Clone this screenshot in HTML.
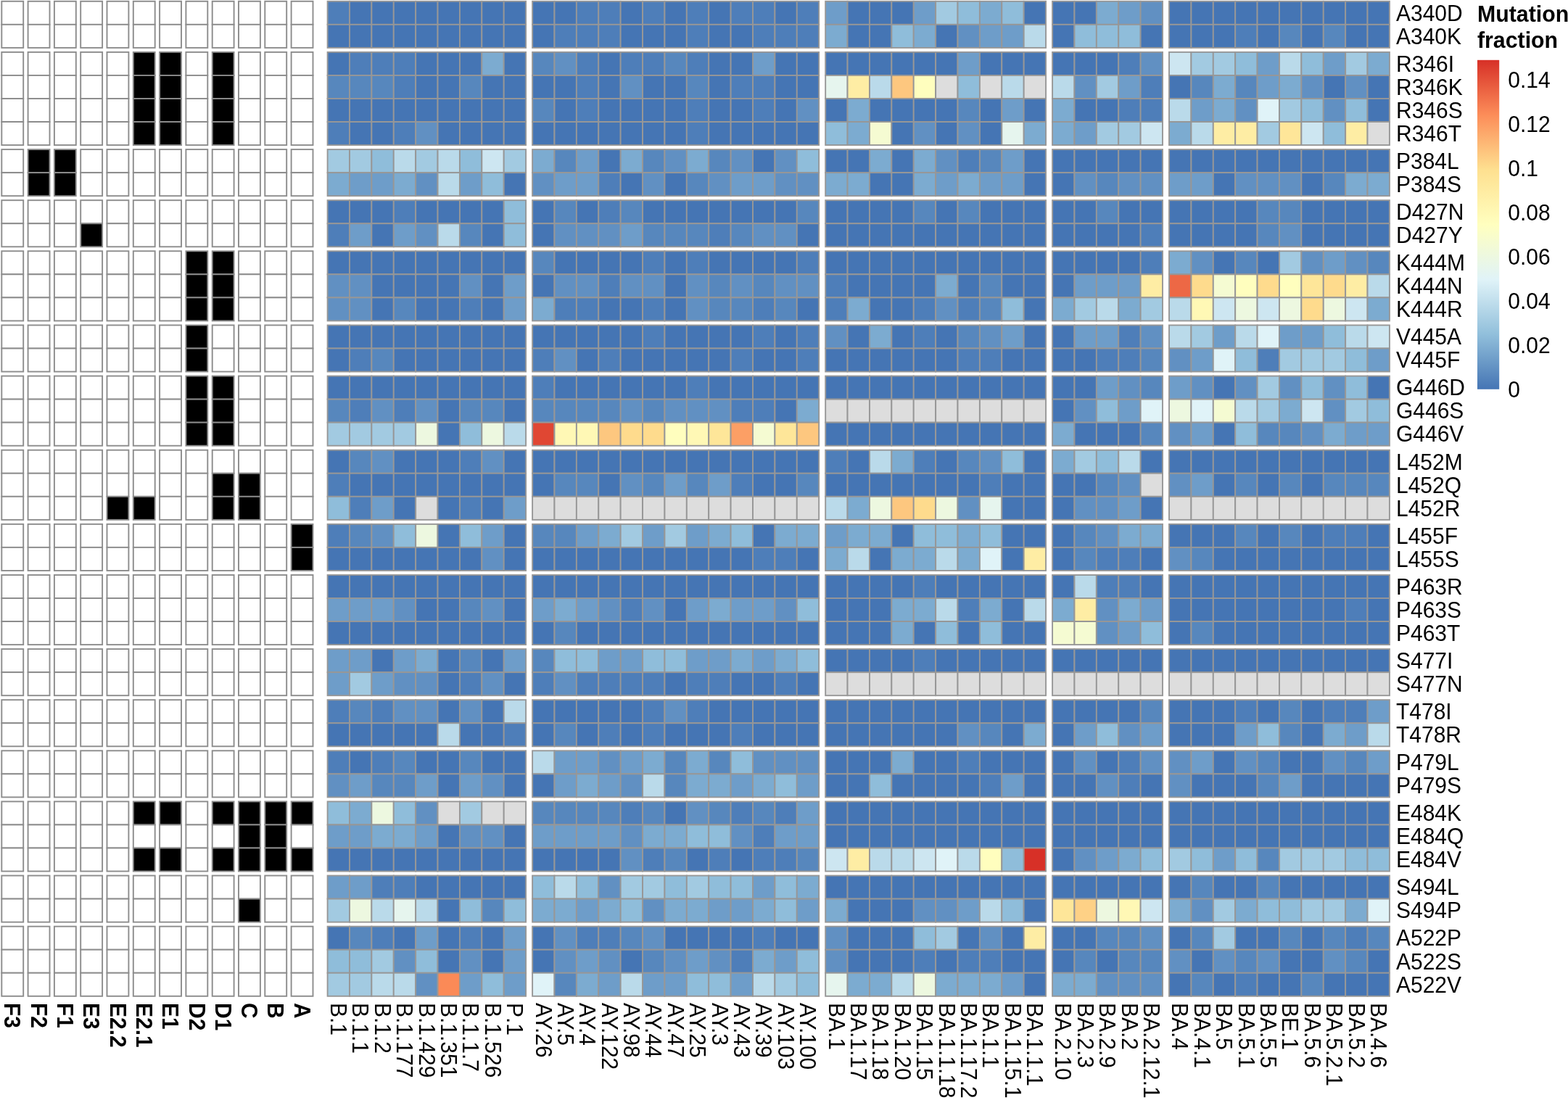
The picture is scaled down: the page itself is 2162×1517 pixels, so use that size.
<!DOCTYPE html>
<html><head><meta charset="utf-8"><title>Mutation fraction heatmap</title>
<style>
html,body{margin:0;padding:0;background:#fff;}
body{width:2162px;height:1517px;overflow:hidden;}
svg{display:block;}
text{font-kerning:normal;}
</style></head><body>
<svg width="2162" height="1517" viewBox="0 0 2162 1517">
<rect x="0" y="0" width="2162" height="1517" fill="#ffffff"/>
<g stroke="#8c8c8c" stroke-width="1.9">
<rect x="2.30" y="1.80" width="29.90" height="32.05" fill="#ffffff"/>
<rect x="38.60" y="1.80" width="29.90" height="32.05" fill="#ffffff"/>
<rect x="74.90" y="1.80" width="29.90" height="32.05" fill="#ffffff"/>
<rect x="111.20" y="1.80" width="29.90" height="32.05" fill="#ffffff"/>
<rect x="147.50" y="1.80" width="29.90" height="32.05" fill="#ffffff"/>
<rect x="183.80" y="1.80" width="29.90" height="32.05" fill="#ffffff"/>
<rect x="220.10" y="1.80" width="29.90" height="32.05" fill="#ffffff"/>
<rect x="256.40" y="1.80" width="29.90" height="32.05" fill="#ffffff"/>
<rect x="292.70" y="1.80" width="29.90" height="32.05" fill="#ffffff"/>
<rect x="329.00" y="1.80" width="29.90" height="32.05" fill="#ffffff"/>
<rect x="365.30" y="1.80" width="29.90" height="32.05" fill="#ffffff"/>
<rect x="401.60" y="1.80" width="29.90" height="32.05" fill="#ffffff"/>
<rect x="2.30" y="33.85" width="29.90" height="32.05" fill="#ffffff"/>
<rect x="38.60" y="33.85" width="29.90" height="32.05" fill="#ffffff"/>
<rect x="74.90" y="33.85" width="29.90" height="32.05" fill="#ffffff"/>
<rect x="111.20" y="33.85" width="29.90" height="32.05" fill="#ffffff"/>
<rect x="147.50" y="33.85" width="29.90" height="32.05" fill="#ffffff"/>
<rect x="183.80" y="33.85" width="29.90" height="32.05" fill="#ffffff"/>
<rect x="220.10" y="33.85" width="29.90" height="32.05" fill="#ffffff"/>
<rect x="256.40" y="33.85" width="29.90" height="32.05" fill="#ffffff"/>
<rect x="292.70" y="33.85" width="29.90" height="32.05" fill="#ffffff"/>
<rect x="329.00" y="33.85" width="29.90" height="32.05" fill="#ffffff"/>
<rect x="365.30" y="33.85" width="29.90" height="32.05" fill="#ffffff"/>
<rect x="401.60" y="33.85" width="29.90" height="32.05" fill="#ffffff"/>
<rect x="2.30" y="71.90" width="29.90" height="32.05" fill="#ffffff"/>
<rect x="38.60" y="71.90" width="29.90" height="32.05" fill="#ffffff"/>
<rect x="74.90" y="71.90" width="29.90" height="32.05" fill="#ffffff"/>
<rect x="111.20" y="71.90" width="29.90" height="32.05" fill="#ffffff"/>
<rect x="147.50" y="71.90" width="29.90" height="32.05" fill="#ffffff"/>
<rect x="183.80" y="71.90" width="29.90" height="32.05" fill="#000000"/>
<rect x="220.10" y="71.90" width="29.90" height="32.05" fill="#000000"/>
<rect x="256.40" y="71.90" width="29.90" height="32.05" fill="#ffffff"/>
<rect x="292.70" y="71.90" width="29.90" height="32.05" fill="#000000"/>
<rect x="329.00" y="71.90" width="29.90" height="32.05" fill="#ffffff"/>
<rect x="365.30" y="71.90" width="29.90" height="32.05" fill="#ffffff"/>
<rect x="401.60" y="71.90" width="29.90" height="32.05" fill="#ffffff"/>
<rect x="2.30" y="103.95" width="29.90" height="32.05" fill="#ffffff"/>
<rect x="38.60" y="103.95" width="29.90" height="32.05" fill="#ffffff"/>
<rect x="74.90" y="103.95" width="29.90" height="32.05" fill="#ffffff"/>
<rect x="111.20" y="103.95" width="29.90" height="32.05" fill="#ffffff"/>
<rect x="147.50" y="103.95" width="29.90" height="32.05" fill="#ffffff"/>
<rect x="183.80" y="103.95" width="29.90" height="32.05" fill="#000000"/>
<rect x="220.10" y="103.95" width="29.90" height="32.05" fill="#000000"/>
<rect x="256.40" y="103.95" width="29.90" height="32.05" fill="#ffffff"/>
<rect x="292.70" y="103.95" width="29.90" height="32.05" fill="#000000"/>
<rect x="329.00" y="103.95" width="29.90" height="32.05" fill="#ffffff"/>
<rect x="365.30" y="103.95" width="29.90" height="32.05" fill="#ffffff"/>
<rect x="401.60" y="103.95" width="29.90" height="32.05" fill="#ffffff"/>
<rect x="2.30" y="136.00" width="29.90" height="32.05" fill="#ffffff"/>
<rect x="38.60" y="136.00" width="29.90" height="32.05" fill="#ffffff"/>
<rect x="74.90" y="136.00" width="29.90" height="32.05" fill="#ffffff"/>
<rect x="111.20" y="136.00" width="29.90" height="32.05" fill="#ffffff"/>
<rect x="147.50" y="136.00" width="29.90" height="32.05" fill="#ffffff"/>
<rect x="183.80" y="136.00" width="29.90" height="32.05" fill="#000000"/>
<rect x="220.10" y="136.00" width="29.90" height="32.05" fill="#000000"/>
<rect x="256.40" y="136.00" width="29.90" height="32.05" fill="#ffffff"/>
<rect x="292.70" y="136.00" width="29.90" height="32.05" fill="#000000"/>
<rect x="329.00" y="136.00" width="29.90" height="32.05" fill="#ffffff"/>
<rect x="365.30" y="136.00" width="29.90" height="32.05" fill="#ffffff"/>
<rect x="401.60" y="136.00" width="29.90" height="32.05" fill="#ffffff"/>
<rect x="2.30" y="168.05" width="29.90" height="32.05" fill="#ffffff"/>
<rect x="38.60" y="168.05" width="29.90" height="32.05" fill="#ffffff"/>
<rect x="74.90" y="168.05" width="29.90" height="32.05" fill="#ffffff"/>
<rect x="111.20" y="168.05" width="29.90" height="32.05" fill="#ffffff"/>
<rect x="147.50" y="168.05" width="29.90" height="32.05" fill="#ffffff"/>
<rect x="183.80" y="168.05" width="29.90" height="32.05" fill="#000000"/>
<rect x="220.10" y="168.05" width="29.90" height="32.05" fill="#000000"/>
<rect x="256.40" y="168.05" width="29.90" height="32.05" fill="#ffffff"/>
<rect x="292.70" y="168.05" width="29.90" height="32.05" fill="#000000"/>
<rect x="329.00" y="168.05" width="29.90" height="32.05" fill="#ffffff"/>
<rect x="365.30" y="168.05" width="29.90" height="32.05" fill="#ffffff"/>
<rect x="401.60" y="168.05" width="29.90" height="32.05" fill="#ffffff"/>
<rect x="2.30" y="206.10" width="29.90" height="32.05" fill="#ffffff"/>
<rect x="38.60" y="206.10" width="29.90" height="32.05" fill="#000000"/>
<rect x="74.90" y="206.10" width="29.90" height="32.05" fill="#000000"/>
<rect x="111.20" y="206.10" width="29.90" height="32.05" fill="#ffffff"/>
<rect x="147.50" y="206.10" width="29.90" height="32.05" fill="#ffffff"/>
<rect x="183.80" y="206.10" width="29.90" height="32.05" fill="#ffffff"/>
<rect x="220.10" y="206.10" width="29.90" height="32.05" fill="#ffffff"/>
<rect x="256.40" y="206.10" width="29.90" height="32.05" fill="#ffffff"/>
<rect x="292.70" y="206.10" width="29.90" height="32.05" fill="#ffffff"/>
<rect x="329.00" y="206.10" width="29.90" height="32.05" fill="#ffffff"/>
<rect x="365.30" y="206.10" width="29.90" height="32.05" fill="#ffffff"/>
<rect x="401.60" y="206.10" width="29.90" height="32.05" fill="#ffffff"/>
<rect x="2.30" y="238.15" width="29.90" height="32.05" fill="#ffffff"/>
<rect x="38.60" y="238.15" width="29.90" height="32.05" fill="#000000"/>
<rect x="74.90" y="238.15" width="29.90" height="32.05" fill="#000000"/>
<rect x="111.20" y="238.15" width="29.90" height="32.05" fill="#ffffff"/>
<rect x="147.50" y="238.15" width="29.90" height="32.05" fill="#ffffff"/>
<rect x="183.80" y="238.15" width="29.90" height="32.05" fill="#ffffff"/>
<rect x="220.10" y="238.15" width="29.90" height="32.05" fill="#ffffff"/>
<rect x="256.40" y="238.15" width="29.90" height="32.05" fill="#ffffff"/>
<rect x="292.70" y="238.15" width="29.90" height="32.05" fill="#ffffff"/>
<rect x="329.00" y="238.15" width="29.90" height="32.05" fill="#ffffff"/>
<rect x="365.30" y="238.15" width="29.90" height="32.05" fill="#ffffff"/>
<rect x="401.60" y="238.15" width="29.90" height="32.05" fill="#ffffff"/>
<rect x="2.30" y="276.20" width="29.90" height="32.05" fill="#ffffff"/>
<rect x="38.60" y="276.20" width="29.90" height="32.05" fill="#ffffff"/>
<rect x="74.90" y="276.20" width="29.90" height="32.05" fill="#ffffff"/>
<rect x="111.20" y="276.20" width="29.90" height="32.05" fill="#ffffff"/>
<rect x="147.50" y="276.20" width="29.90" height="32.05" fill="#ffffff"/>
<rect x="183.80" y="276.20" width="29.90" height="32.05" fill="#ffffff"/>
<rect x="220.10" y="276.20" width="29.90" height="32.05" fill="#ffffff"/>
<rect x="256.40" y="276.20" width="29.90" height="32.05" fill="#ffffff"/>
<rect x="292.70" y="276.20" width="29.90" height="32.05" fill="#ffffff"/>
<rect x="329.00" y="276.20" width="29.90" height="32.05" fill="#ffffff"/>
<rect x="365.30" y="276.20" width="29.90" height="32.05" fill="#ffffff"/>
<rect x="401.60" y="276.20" width="29.90" height="32.05" fill="#ffffff"/>
<rect x="2.30" y="308.25" width="29.90" height="32.05" fill="#ffffff"/>
<rect x="38.60" y="308.25" width="29.90" height="32.05" fill="#ffffff"/>
<rect x="74.90" y="308.25" width="29.90" height="32.05" fill="#ffffff"/>
<rect x="111.20" y="308.25" width="29.90" height="32.05" fill="#000000"/>
<rect x="147.50" y="308.25" width="29.90" height="32.05" fill="#ffffff"/>
<rect x="183.80" y="308.25" width="29.90" height="32.05" fill="#ffffff"/>
<rect x="220.10" y="308.25" width="29.90" height="32.05" fill="#ffffff"/>
<rect x="256.40" y="308.25" width="29.90" height="32.05" fill="#ffffff"/>
<rect x="292.70" y="308.25" width="29.90" height="32.05" fill="#ffffff"/>
<rect x="329.00" y="308.25" width="29.90" height="32.05" fill="#ffffff"/>
<rect x="365.30" y="308.25" width="29.90" height="32.05" fill="#ffffff"/>
<rect x="401.60" y="308.25" width="29.90" height="32.05" fill="#ffffff"/>
<rect x="2.30" y="346.30" width="29.90" height="32.05" fill="#ffffff"/>
<rect x="38.60" y="346.30" width="29.90" height="32.05" fill="#ffffff"/>
<rect x="74.90" y="346.30" width="29.90" height="32.05" fill="#ffffff"/>
<rect x="111.20" y="346.30" width="29.90" height="32.05" fill="#ffffff"/>
<rect x="147.50" y="346.30" width="29.90" height="32.05" fill="#ffffff"/>
<rect x="183.80" y="346.30" width="29.90" height="32.05" fill="#ffffff"/>
<rect x="220.10" y="346.30" width="29.90" height="32.05" fill="#ffffff"/>
<rect x="256.40" y="346.30" width="29.90" height="32.05" fill="#000000"/>
<rect x="292.70" y="346.30" width="29.90" height="32.05" fill="#000000"/>
<rect x="329.00" y="346.30" width="29.90" height="32.05" fill="#ffffff"/>
<rect x="365.30" y="346.30" width="29.90" height="32.05" fill="#ffffff"/>
<rect x="401.60" y="346.30" width="29.90" height="32.05" fill="#ffffff"/>
<rect x="2.30" y="378.35" width="29.90" height="32.05" fill="#ffffff"/>
<rect x="38.60" y="378.35" width="29.90" height="32.05" fill="#ffffff"/>
<rect x="74.90" y="378.35" width="29.90" height="32.05" fill="#ffffff"/>
<rect x="111.20" y="378.35" width="29.90" height="32.05" fill="#ffffff"/>
<rect x="147.50" y="378.35" width="29.90" height="32.05" fill="#ffffff"/>
<rect x="183.80" y="378.35" width="29.90" height="32.05" fill="#ffffff"/>
<rect x="220.10" y="378.35" width="29.90" height="32.05" fill="#ffffff"/>
<rect x="256.40" y="378.35" width="29.90" height="32.05" fill="#000000"/>
<rect x="292.70" y="378.35" width="29.90" height="32.05" fill="#000000"/>
<rect x="329.00" y="378.35" width="29.90" height="32.05" fill="#ffffff"/>
<rect x="365.30" y="378.35" width="29.90" height="32.05" fill="#ffffff"/>
<rect x="401.60" y="378.35" width="29.90" height="32.05" fill="#ffffff"/>
<rect x="2.30" y="410.40" width="29.90" height="32.05" fill="#ffffff"/>
<rect x="38.60" y="410.40" width="29.90" height="32.05" fill="#ffffff"/>
<rect x="74.90" y="410.40" width="29.90" height="32.05" fill="#ffffff"/>
<rect x="111.20" y="410.40" width="29.90" height="32.05" fill="#ffffff"/>
<rect x="147.50" y="410.40" width="29.90" height="32.05" fill="#ffffff"/>
<rect x="183.80" y="410.40" width="29.90" height="32.05" fill="#ffffff"/>
<rect x="220.10" y="410.40" width="29.90" height="32.05" fill="#ffffff"/>
<rect x="256.40" y="410.40" width="29.90" height="32.05" fill="#000000"/>
<rect x="292.70" y="410.40" width="29.90" height="32.05" fill="#000000"/>
<rect x="329.00" y="410.40" width="29.90" height="32.05" fill="#ffffff"/>
<rect x="365.30" y="410.40" width="29.90" height="32.05" fill="#ffffff"/>
<rect x="401.60" y="410.40" width="29.90" height="32.05" fill="#ffffff"/>
<rect x="2.30" y="448.45" width="29.90" height="32.05" fill="#ffffff"/>
<rect x="38.60" y="448.45" width="29.90" height="32.05" fill="#ffffff"/>
<rect x="74.90" y="448.45" width="29.90" height="32.05" fill="#ffffff"/>
<rect x="111.20" y="448.45" width="29.90" height="32.05" fill="#ffffff"/>
<rect x="147.50" y="448.45" width="29.90" height="32.05" fill="#ffffff"/>
<rect x="183.80" y="448.45" width="29.90" height="32.05" fill="#ffffff"/>
<rect x="220.10" y="448.45" width="29.90" height="32.05" fill="#ffffff"/>
<rect x="256.40" y="448.45" width="29.90" height="32.05" fill="#000000"/>
<rect x="292.70" y="448.45" width="29.90" height="32.05" fill="#ffffff"/>
<rect x="329.00" y="448.45" width="29.90" height="32.05" fill="#ffffff"/>
<rect x="365.30" y="448.45" width="29.90" height="32.05" fill="#ffffff"/>
<rect x="401.60" y="448.45" width="29.90" height="32.05" fill="#ffffff"/>
<rect x="2.30" y="480.50" width="29.90" height="32.05" fill="#ffffff"/>
<rect x="38.60" y="480.50" width="29.90" height="32.05" fill="#ffffff"/>
<rect x="74.90" y="480.50" width="29.90" height="32.05" fill="#ffffff"/>
<rect x="111.20" y="480.50" width="29.90" height="32.05" fill="#ffffff"/>
<rect x="147.50" y="480.50" width="29.90" height="32.05" fill="#ffffff"/>
<rect x="183.80" y="480.50" width="29.90" height="32.05" fill="#ffffff"/>
<rect x="220.10" y="480.50" width="29.90" height="32.05" fill="#ffffff"/>
<rect x="256.40" y="480.50" width="29.90" height="32.05" fill="#000000"/>
<rect x="292.70" y="480.50" width="29.90" height="32.05" fill="#ffffff"/>
<rect x="329.00" y="480.50" width="29.90" height="32.05" fill="#ffffff"/>
<rect x="365.30" y="480.50" width="29.90" height="32.05" fill="#ffffff"/>
<rect x="401.60" y="480.50" width="29.90" height="32.05" fill="#ffffff"/>
<rect x="2.30" y="518.55" width="29.90" height="32.05" fill="#ffffff"/>
<rect x="38.60" y="518.55" width="29.90" height="32.05" fill="#ffffff"/>
<rect x="74.90" y="518.55" width="29.90" height="32.05" fill="#ffffff"/>
<rect x="111.20" y="518.55" width="29.90" height="32.05" fill="#ffffff"/>
<rect x="147.50" y="518.55" width="29.90" height="32.05" fill="#ffffff"/>
<rect x="183.80" y="518.55" width="29.90" height="32.05" fill="#ffffff"/>
<rect x="220.10" y="518.55" width="29.90" height="32.05" fill="#ffffff"/>
<rect x="256.40" y="518.55" width="29.90" height="32.05" fill="#000000"/>
<rect x="292.70" y="518.55" width="29.90" height="32.05" fill="#000000"/>
<rect x="329.00" y="518.55" width="29.90" height="32.05" fill="#ffffff"/>
<rect x="365.30" y="518.55" width="29.90" height="32.05" fill="#ffffff"/>
<rect x="401.60" y="518.55" width="29.90" height="32.05" fill="#ffffff"/>
<rect x="2.30" y="550.60" width="29.90" height="32.05" fill="#ffffff"/>
<rect x="38.60" y="550.60" width="29.90" height="32.05" fill="#ffffff"/>
<rect x="74.90" y="550.60" width="29.90" height="32.05" fill="#ffffff"/>
<rect x="111.20" y="550.60" width="29.90" height="32.05" fill="#ffffff"/>
<rect x="147.50" y="550.60" width="29.90" height="32.05" fill="#ffffff"/>
<rect x="183.80" y="550.60" width="29.90" height="32.05" fill="#ffffff"/>
<rect x="220.10" y="550.60" width="29.90" height="32.05" fill="#ffffff"/>
<rect x="256.40" y="550.60" width="29.90" height="32.05" fill="#000000"/>
<rect x="292.70" y="550.60" width="29.90" height="32.05" fill="#000000"/>
<rect x="329.00" y="550.60" width="29.90" height="32.05" fill="#ffffff"/>
<rect x="365.30" y="550.60" width="29.90" height="32.05" fill="#ffffff"/>
<rect x="401.60" y="550.60" width="29.90" height="32.05" fill="#ffffff"/>
<rect x="2.30" y="582.65" width="29.90" height="32.05" fill="#ffffff"/>
<rect x="38.60" y="582.65" width="29.90" height="32.05" fill="#ffffff"/>
<rect x="74.90" y="582.65" width="29.90" height="32.05" fill="#ffffff"/>
<rect x="111.20" y="582.65" width="29.90" height="32.05" fill="#ffffff"/>
<rect x="147.50" y="582.65" width="29.90" height="32.05" fill="#ffffff"/>
<rect x="183.80" y="582.65" width="29.90" height="32.05" fill="#ffffff"/>
<rect x="220.10" y="582.65" width="29.90" height="32.05" fill="#ffffff"/>
<rect x="256.40" y="582.65" width="29.90" height="32.05" fill="#000000"/>
<rect x="292.70" y="582.65" width="29.90" height="32.05" fill="#000000"/>
<rect x="329.00" y="582.65" width="29.90" height="32.05" fill="#ffffff"/>
<rect x="365.30" y="582.65" width="29.90" height="32.05" fill="#ffffff"/>
<rect x="401.60" y="582.65" width="29.90" height="32.05" fill="#ffffff"/>
<rect x="2.30" y="620.70" width="29.90" height="32.05" fill="#ffffff"/>
<rect x="38.60" y="620.70" width="29.90" height="32.05" fill="#ffffff"/>
<rect x="74.90" y="620.70" width="29.90" height="32.05" fill="#ffffff"/>
<rect x="111.20" y="620.70" width="29.90" height="32.05" fill="#ffffff"/>
<rect x="147.50" y="620.70" width="29.90" height="32.05" fill="#ffffff"/>
<rect x="183.80" y="620.70" width="29.90" height="32.05" fill="#ffffff"/>
<rect x="220.10" y="620.70" width="29.90" height="32.05" fill="#ffffff"/>
<rect x="256.40" y="620.70" width="29.90" height="32.05" fill="#ffffff"/>
<rect x="292.70" y="620.70" width="29.90" height="32.05" fill="#ffffff"/>
<rect x="329.00" y="620.70" width="29.90" height="32.05" fill="#ffffff"/>
<rect x="365.30" y="620.70" width="29.90" height="32.05" fill="#ffffff"/>
<rect x="401.60" y="620.70" width="29.90" height="32.05" fill="#ffffff"/>
<rect x="2.30" y="652.75" width="29.90" height="32.05" fill="#ffffff"/>
<rect x="38.60" y="652.75" width="29.90" height="32.05" fill="#ffffff"/>
<rect x="74.90" y="652.75" width="29.90" height="32.05" fill="#ffffff"/>
<rect x="111.20" y="652.75" width="29.90" height="32.05" fill="#ffffff"/>
<rect x="147.50" y="652.75" width="29.90" height="32.05" fill="#ffffff"/>
<rect x="183.80" y="652.75" width="29.90" height="32.05" fill="#ffffff"/>
<rect x="220.10" y="652.75" width="29.90" height="32.05" fill="#ffffff"/>
<rect x="256.40" y="652.75" width="29.90" height="32.05" fill="#ffffff"/>
<rect x="292.70" y="652.75" width="29.90" height="32.05" fill="#000000"/>
<rect x="329.00" y="652.75" width="29.90" height="32.05" fill="#000000"/>
<rect x="365.30" y="652.75" width="29.90" height="32.05" fill="#ffffff"/>
<rect x="401.60" y="652.75" width="29.90" height="32.05" fill="#ffffff"/>
<rect x="2.30" y="684.80" width="29.90" height="32.05" fill="#ffffff"/>
<rect x="38.60" y="684.80" width="29.90" height="32.05" fill="#ffffff"/>
<rect x="74.90" y="684.80" width="29.90" height="32.05" fill="#ffffff"/>
<rect x="111.20" y="684.80" width="29.90" height="32.05" fill="#ffffff"/>
<rect x="147.50" y="684.80" width="29.90" height="32.05" fill="#000000"/>
<rect x="183.80" y="684.80" width="29.90" height="32.05" fill="#000000"/>
<rect x="220.10" y="684.80" width="29.90" height="32.05" fill="#ffffff"/>
<rect x="256.40" y="684.80" width="29.90" height="32.05" fill="#ffffff"/>
<rect x="292.70" y="684.80" width="29.90" height="32.05" fill="#000000"/>
<rect x="329.00" y="684.80" width="29.90" height="32.05" fill="#000000"/>
<rect x="365.30" y="684.80" width="29.90" height="32.05" fill="#ffffff"/>
<rect x="401.60" y="684.80" width="29.90" height="32.05" fill="#ffffff"/>
<rect x="2.30" y="722.85" width="29.90" height="32.05" fill="#ffffff"/>
<rect x="38.60" y="722.85" width="29.90" height="32.05" fill="#ffffff"/>
<rect x="74.90" y="722.85" width="29.90" height="32.05" fill="#ffffff"/>
<rect x="111.20" y="722.85" width="29.90" height="32.05" fill="#ffffff"/>
<rect x="147.50" y="722.85" width="29.90" height="32.05" fill="#ffffff"/>
<rect x="183.80" y="722.85" width="29.90" height="32.05" fill="#ffffff"/>
<rect x="220.10" y="722.85" width="29.90" height="32.05" fill="#ffffff"/>
<rect x="256.40" y="722.85" width="29.90" height="32.05" fill="#ffffff"/>
<rect x="292.70" y="722.85" width="29.90" height="32.05" fill="#ffffff"/>
<rect x="329.00" y="722.85" width="29.90" height="32.05" fill="#ffffff"/>
<rect x="365.30" y="722.85" width="29.90" height="32.05" fill="#ffffff"/>
<rect x="401.60" y="722.85" width="29.90" height="32.05" fill="#000000"/>
<rect x="2.30" y="754.90" width="29.90" height="32.05" fill="#ffffff"/>
<rect x="38.60" y="754.90" width="29.90" height="32.05" fill="#ffffff"/>
<rect x="74.90" y="754.90" width="29.90" height="32.05" fill="#ffffff"/>
<rect x="111.20" y="754.90" width="29.90" height="32.05" fill="#ffffff"/>
<rect x="147.50" y="754.90" width="29.90" height="32.05" fill="#ffffff"/>
<rect x="183.80" y="754.90" width="29.90" height="32.05" fill="#ffffff"/>
<rect x="220.10" y="754.90" width="29.90" height="32.05" fill="#ffffff"/>
<rect x="256.40" y="754.90" width="29.90" height="32.05" fill="#ffffff"/>
<rect x="292.70" y="754.90" width="29.90" height="32.05" fill="#ffffff"/>
<rect x="329.00" y="754.90" width="29.90" height="32.05" fill="#ffffff"/>
<rect x="365.30" y="754.90" width="29.90" height="32.05" fill="#ffffff"/>
<rect x="401.60" y="754.90" width="29.90" height="32.05" fill="#000000"/>
<rect x="2.30" y="792.95" width="29.90" height="32.05" fill="#ffffff"/>
<rect x="38.60" y="792.95" width="29.90" height="32.05" fill="#ffffff"/>
<rect x="74.90" y="792.95" width="29.90" height="32.05" fill="#ffffff"/>
<rect x="111.20" y="792.95" width="29.90" height="32.05" fill="#ffffff"/>
<rect x="147.50" y="792.95" width="29.90" height="32.05" fill="#ffffff"/>
<rect x="183.80" y="792.95" width="29.90" height="32.05" fill="#ffffff"/>
<rect x="220.10" y="792.95" width="29.90" height="32.05" fill="#ffffff"/>
<rect x="256.40" y="792.95" width="29.90" height="32.05" fill="#ffffff"/>
<rect x="292.70" y="792.95" width="29.90" height="32.05" fill="#ffffff"/>
<rect x="329.00" y="792.95" width="29.90" height="32.05" fill="#ffffff"/>
<rect x="365.30" y="792.95" width="29.90" height="32.05" fill="#ffffff"/>
<rect x="401.60" y="792.95" width="29.90" height="32.05" fill="#ffffff"/>
<rect x="2.30" y="825.00" width="29.90" height="32.05" fill="#ffffff"/>
<rect x="38.60" y="825.00" width="29.90" height="32.05" fill="#ffffff"/>
<rect x="74.90" y="825.00" width="29.90" height="32.05" fill="#ffffff"/>
<rect x="111.20" y="825.00" width="29.90" height="32.05" fill="#ffffff"/>
<rect x="147.50" y="825.00" width="29.90" height="32.05" fill="#ffffff"/>
<rect x="183.80" y="825.00" width="29.90" height="32.05" fill="#ffffff"/>
<rect x="220.10" y="825.00" width="29.90" height="32.05" fill="#ffffff"/>
<rect x="256.40" y="825.00" width="29.90" height="32.05" fill="#ffffff"/>
<rect x="292.70" y="825.00" width="29.90" height="32.05" fill="#ffffff"/>
<rect x="329.00" y="825.00" width="29.90" height="32.05" fill="#ffffff"/>
<rect x="365.30" y="825.00" width="29.90" height="32.05" fill="#ffffff"/>
<rect x="401.60" y="825.00" width="29.90" height="32.05" fill="#ffffff"/>
<rect x="2.30" y="857.05" width="29.90" height="32.05" fill="#ffffff"/>
<rect x="38.60" y="857.05" width="29.90" height="32.05" fill="#ffffff"/>
<rect x="74.90" y="857.05" width="29.90" height="32.05" fill="#ffffff"/>
<rect x="111.20" y="857.05" width="29.90" height="32.05" fill="#ffffff"/>
<rect x="147.50" y="857.05" width="29.90" height="32.05" fill="#ffffff"/>
<rect x="183.80" y="857.05" width="29.90" height="32.05" fill="#ffffff"/>
<rect x="220.10" y="857.05" width="29.90" height="32.05" fill="#ffffff"/>
<rect x="256.40" y="857.05" width="29.90" height="32.05" fill="#ffffff"/>
<rect x="292.70" y="857.05" width="29.90" height="32.05" fill="#ffffff"/>
<rect x="329.00" y="857.05" width="29.90" height="32.05" fill="#ffffff"/>
<rect x="365.30" y="857.05" width="29.90" height="32.05" fill="#ffffff"/>
<rect x="401.60" y="857.05" width="29.90" height="32.05" fill="#ffffff"/>
<rect x="2.30" y="895.10" width="29.90" height="32.05" fill="#ffffff"/>
<rect x="38.60" y="895.10" width="29.90" height="32.05" fill="#ffffff"/>
<rect x="74.90" y="895.10" width="29.90" height="32.05" fill="#ffffff"/>
<rect x="111.20" y="895.10" width="29.90" height="32.05" fill="#ffffff"/>
<rect x="147.50" y="895.10" width="29.90" height="32.05" fill="#ffffff"/>
<rect x="183.80" y="895.10" width="29.90" height="32.05" fill="#ffffff"/>
<rect x="220.10" y="895.10" width="29.90" height="32.05" fill="#ffffff"/>
<rect x="256.40" y="895.10" width="29.90" height="32.05" fill="#ffffff"/>
<rect x="292.70" y="895.10" width="29.90" height="32.05" fill="#ffffff"/>
<rect x="329.00" y="895.10" width="29.90" height="32.05" fill="#ffffff"/>
<rect x="365.30" y="895.10" width="29.90" height="32.05" fill="#ffffff"/>
<rect x="401.60" y="895.10" width="29.90" height="32.05" fill="#ffffff"/>
<rect x="2.30" y="927.15" width="29.90" height="32.05" fill="#ffffff"/>
<rect x="38.60" y="927.15" width="29.90" height="32.05" fill="#ffffff"/>
<rect x="74.90" y="927.15" width="29.90" height="32.05" fill="#ffffff"/>
<rect x="111.20" y="927.15" width="29.90" height="32.05" fill="#ffffff"/>
<rect x="147.50" y="927.15" width="29.90" height="32.05" fill="#ffffff"/>
<rect x="183.80" y="927.15" width="29.90" height="32.05" fill="#ffffff"/>
<rect x="220.10" y="927.15" width="29.90" height="32.05" fill="#ffffff"/>
<rect x="256.40" y="927.15" width="29.90" height="32.05" fill="#ffffff"/>
<rect x="292.70" y="927.15" width="29.90" height="32.05" fill="#ffffff"/>
<rect x="329.00" y="927.15" width="29.90" height="32.05" fill="#ffffff"/>
<rect x="365.30" y="927.15" width="29.90" height="32.05" fill="#ffffff"/>
<rect x="401.60" y="927.15" width="29.90" height="32.05" fill="#ffffff"/>
<rect x="2.30" y="965.20" width="29.90" height="32.05" fill="#ffffff"/>
<rect x="38.60" y="965.20" width="29.90" height="32.05" fill="#ffffff"/>
<rect x="74.90" y="965.20" width="29.90" height="32.05" fill="#ffffff"/>
<rect x="111.20" y="965.20" width="29.90" height="32.05" fill="#ffffff"/>
<rect x="147.50" y="965.20" width="29.90" height="32.05" fill="#ffffff"/>
<rect x="183.80" y="965.20" width="29.90" height="32.05" fill="#ffffff"/>
<rect x="220.10" y="965.20" width="29.90" height="32.05" fill="#ffffff"/>
<rect x="256.40" y="965.20" width="29.90" height="32.05" fill="#ffffff"/>
<rect x="292.70" y="965.20" width="29.90" height="32.05" fill="#ffffff"/>
<rect x="329.00" y="965.20" width="29.90" height="32.05" fill="#ffffff"/>
<rect x="365.30" y="965.20" width="29.90" height="32.05" fill="#ffffff"/>
<rect x="401.60" y="965.20" width="29.90" height="32.05" fill="#ffffff"/>
<rect x="2.30" y="997.25" width="29.90" height="32.05" fill="#ffffff"/>
<rect x="38.60" y="997.25" width="29.90" height="32.05" fill="#ffffff"/>
<rect x="74.90" y="997.25" width="29.90" height="32.05" fill="#ffffff"/>
<rect x="111.20" y="997.25" width="29.90" height="32.05" fill="#ffffff"/>
<rect x="147.50" y="997.25" width="29.90" height="32.05" fill="#ffffff"/>
<rect x="183.80" y="997.25" width="29.90" height="32.05" fill="#ffffff"/>
<rect x="220.10" y="997.25" width="29.90" height="32.05" fill="#ffffff"/>
<rect x="256.40" y="997.25" width="29.90" height="32.05" fill="#ffffff"/>
<rect x="292.70" y="997.25" width="29.90" height="32.05" fill="#ffffff"/>
<rect x="329.00" y="997.25" width="29.90" height="32.05" fill="#ffffff"/>
<rect x="365.30" y="997.25" width="29.90" height="32.05" fill="#ffffff"/>
<rect x="401.60" y="997.25" width="29.90" height="32.05" fill="#ffffff"/>
<rect x="2.30" y="1035.30" width="29.90" height="32.05" fill="#ffffff"/>
<rect x="38.60" y="1035.30" width="29.90" height="32.05" fill="#ffffff"/>
<rect x="74.90" y="1035.30" width="29.90" height="32.05" fill="#ffffff"/>
<rect x="111.20" y="1035.30" width="29.90" height="32.05" fill="#ffffff"/>
<rect x="147.50" y="1035.30" width="29.90" height="32.05" fill="#ffffff"/>
<rect x="183.80" y="1035.30" width="29.90" height="32.05" fill="#ffffff"/>
<rect x="220.10" y="1035.30" width="29.90" height="32.05" fill="#ffffff"/>
<rect x="256.40" y="1035.30" width="29.90" height="32.05" fill="#ffffff"/>
<rect x="292.70" y="1035.30" width="29.90" height="32.05" fill="#ffffff"/>
<rect x="329.00" y="1035.30" width="29.90" height="32.05" fill="#ffffff"/>
<rect x="365.30" y="1035.30" width="29.90" height="32.05" fill="#ffffff"/>
<rect x="401.60" y="1035.30" width="29.90" height="32.05" fill="#ffffff"/>
<rect x="2.30" y="1067.35" width="29.90" height="32.05" fill="#ffffff"/>
<rect x="38.60" y="1067.35" width="29.90" height="32.05" fill="#ffffff"/>
<rect x="74.90" y="1067.35" width="29.90" height="32.05" fill="#ffffff"/>
<rect x="111.20" y="1067.35" width="29.90" height="32.05" fill="#ffffff"/>
<rect x="147.50" y="1067.35" width="29.90" height="32.05" fill="#ffffff"/>
<rect x="183.80" y="1067.35" width="29.90" height="32.05" fill="#ffffff"/>
<rect x="220.10" y="1067.35" width="29.90" height="32.05" fill="#ffffff"/>
<rect x="256.40" y="1067.35" width="29.90" height="32.05" fill="#ffffff"/>
<rect x="292.70" y="1067.35" width="29.90" height="32.05" fill="#ffffff"/>
<rect x="329.00" y="1067.35" width="29.90" height="32.05" fill="#ffffff"/>
<rect x="365.30" y="1067.35" width="29.90" height="32.05" fill="#ffffff"/>
<rect x="401.60" y="1067.35" width="29.90" height="32.05" fill="#ffffff"/>
<rect x="2.30" y="1105.40" width="29.90" height="32.05" fill="#ffffff"/>
<rect x="38.60" y="1105.40" width="29.90" height="32.05" fill="#ffffff"/>
<rect x="74.90" y="1105.40" width="29.90" height="32.05" fill="#ffffff"/>
<rect x="111.20" y="1105.40" width="29.90" height="32.05" fill="#ffffff"/>
<rect x="147.50" y="1105.40" width="29.90" height="32.05" fill="#ffffff"/>
<rect x="183.80" y="1105.40" width="29.90" height="32.05" fill="#000000"/>
<rect x="220.10" y="1105.40" width="29.90" height="32.05" fill="#000000"/>
<rect x="256.40" y="1105.40" width="29.90" height="32.05" fill="#ffffff"/>
<rect x="292.70" y="1105.40" width="29.90" height="32.05" fill="#000000"/>
<rect x="329.00" y="1105.40" width="29.90" height="32.05" fill="#000000"/>
<rect x="365.30" y="1105.40" width="29.90" height="32.05" fill="#000000"/>
<rect x="401.60" y="1105.40" width="29.90" height="32.05" fill="#000000"/>
<rect x="2.30" y="1137.45" width="29.90" height="32.05" fill="#ffffff"/>
<rect x="38.60" y="1137.45" width="29.90" height="32.05" fill="#ffffff"/>
<rect x="74.90" y="1137.45" width="29.90" height="32.05" fill="#ffffff"/>
<rect x="111.20" y="1137.45" width="29.90" height="32.05" fill="#ffffff"/>
<rect x="147.50" y="1137.45" width="29.90" height="32.05" fill="#ffffff"/>
<rect x="183.80" y="1137.45" width="29.90" height="32.05" fill="#ffffff"/>
<rect x="220.10" y="1137.45" width="29.90" height="32.05" fill="#ffffff"/>
<rect x="256.40" y="1137.45" width="29.90" height="32.05" fill="#ffffff"/>
<rect x="292.70" y="1137.45" width="29.90" height="32.05" fill="#ffffff"/>
<rect x="329.00" y="1137.45" width="29.90" height="32.05" fill="#000000"/>
<rect x="365.30" y="1137.45" width="29.90" height="32.05" fill="#000000"/>
<rect x="401.60" y="1137.45" width="29.90" height="32.05" fill="#ffffff"/>
<rect x="2.30" y="1169.50" width="29.90" height="32.05" fill="#ffffff"/>
<rect x="38.60" y="1169.50" width="29.90" height="32.05" fill="#ffffff"/>
<rect x="74.90" y="1169.50" width="29.90" height="32.05" fill="#ffffff"/>
<rect x="111.20" y="1169.50" width="29.90" height="32.05" fill="#ffffff"/>
<rect x="147.50" y="1169.50" width="29.90" height="32.05" fill="#ffffff"/>
<rect x="183.80" y="1169.50" width="29.90" height="32.05" fill="#000000"/>
<rect x="220.10" y="1169.50" width="29.90" height="32.05" fill="#000000"/>
<rect x="256.40" y="1169.50" width="29.90" height="32.05" fill="#ffffff"/>
<rect x="292.70" y="1169.50" width="29.90" height="32.05" fill="#000000"/>
<rect x="329.00" y="1169.50" width="29.90" height="32.05" fill="#000000"/>
<rect x="365.30" y="1169.50" width="29.90" height="32.05" fill="#000000"/>
<rect x="401.60" y="1169.50" width="29.90" height="32.05" fill="#000000"/>
<rect x="2.30" y="1207.55" width="29.90" height="32.05" fill="#ffffff"/>
<rect x="38.60" y="1207.55" width="29.90" height="32.05" fill="#ffffff"/>
<rect x="74.90" y="1207.55" width="29.90" height="32.05" fill="#ffffff"/>
<rect x="111.20" y="1207.55" width="29.90" height="32.05" fill="#ffffff"/>
<rect x="147.50" y="1207.55" width="29.90" height="32.05" fill="#ffffff"/>
<rect x="183.80" y="1207.55" width="29.90" height="32.05" fill="#ffffff"/>
<rect x="220.10" y="1207.55" width="29.90" height="32.05" fill="#ffffff"/>
<rect x="256.40" y="1207.55" width="29.90" height="32.05" fill="#ffffff"/>
<rect x="292.70" y="1207.55" width="29.90" height="32.05" fill="#ffffff"/>
<rect x="329.00" y="1207.55" width="29.90" height="32.05" fill="#ffffff"/>
<rect x="365.30" y="1207.55" width="29.90" height="32.05" fill="#ffffff"/>
<rect x="401.60" y="1207.55" width="29.90" height="32.05" fill="#ffffff"/>
<rect x="2.30" y="1239.60" width="29.90" height="32.05" fill="#ffffff"/>
<rect x="38.60" y="1239.60" width="29.90" height="32.05" fill="#ffffff"/>
<rect x="74.90" y="1239.60" width="29.90" height="32.05" fill="#ffffff"/>
<rect x="111.20" y="1239.60" width="29.90" height="32.05" fill="#ffffff"/>
<rect x="147.50" y="1239.60" width="29.90" height="32.05" fill="#ffffff"/>
<rect x="183.80" y="1239.60" width="29.90" height="32.05" fill="#ffffff"/>
<rect x="220.10" y="1239.60" width="29.90" height="32.05" fill="#ffffff"/>
<rect x="256.40" y="1239.60" width="29.90" height="32.05" fill="#ffffff"/>
<rect x="292.70" y="1239.60" width="29.90" height="32.05" fill="#ffffff"/>
<rect x="329.00" y="1239.60" width="29.90" height="32.05" fill="#000000"/>
<rect x="365.30" y="1239.60" width="29.90" height="32.05" fill="#ffffff"/>
<rect x="401.60" y="1239.60" width="29.90" height="32.05" fill="#ffffff"/>
<rect x="2.30" y="1277.65" width="29.90" height="32.05" fill="#ffffff"/>
<rect x="38.60" y="1277.65" width="29.90" height="32.05" fill="#ffffff"/>
<rect x="74.90" y="1277.65" width="29.90" height="32.05" fill="#ffffff"/>
<rect x="111.20" y="1277.65" width="29.90" height="32.05" fill="#ffffff"/>
<rect x="147.50" y="1277.65" width="29.90" height="32.05" fill="#ffffff"/>
<rect x="183.80" y="1277.65" width="29.90" height="32.05" fill="#ffffff"/>
<rect x="220.10" y="1277.65" width="29.90" height="32.05" fill="#ffffff"/>
<rect x="256.40" y="1277.65" width="29.90" height="32.05" fill="#ffffff"/>
<rect x="292.70" y="1277.65" width="29.90" height="32.05" fill="#ffffff"/>
<rect x="329.00" y="1277.65" width="29.90" height="32.05" fill="#ffffff"/>
<rect x="365.30" y="1277.65" width="29.90" height="32.05" fill="#ffffff"/>
<rect x="401.60" y="1277.65" width="29.90" height="32.05" fill="#ffffff"/>
<rect x="2.30" y="1309.70" width="29.90" height="32.05" fill="#ffffff"/>
<rect x="38.60" y="1309.70" width="29.90" height="32.05" fill="#ffffff"/>
<rect x="74.90" y="1309.70" width="29.90" height="32.05" fill="#ffffff"/>
<rect x="111.20" y="1309.70" width="29.90" height="32.05" fill="#ffffff"/>
<rect x="147.50" y="1309.70" width="29.90" height="32.05" fill="#ffffff"/>
<rect x="183.80" y="1309.70" width="29.90" height="32.05" fill="#ffffff"/>
<rect x="220.10" y="1309.70" width="29.90" height="32.05" fill="#ffffff"/>
<rect x="256.40" y="1309.70" width="29.90" height="32.05" fill="#ffffff"/>
<rect x="292.70" y="1309.70" width="29.90" height="32.05" fill="#ffffff"/>
<rect x="329.00" y="1309.70" width="29.90" height="32.05" fill="#ffffff"/>
<rect x="365.30" y="1309.70" width="29.90" height="32.05" fill="#ffffff"/>
<rect x="401.60" y="1309.70" width="29.90" height="32.05" fill="#ffffff"/>
<rect x="2.30" y="1341.75" width="29.90" height="32.05" fill="#ffffff"/>
<rect x="38.60" y="1341.75" width="29.90" height="32.05" fill="#ffffff"/>
<rect x="74.90" y="1341.75" width="29.90" height="32.05" fill="#ffffff"/>
<rect x="111.20" y="1341.75" width="29.90" height="32.05" fill="#ffffff"/>
<rect x="147.50" y="1341.75" width="29.90" height="32.05" fill="#ffffff"/>
<rect x="183.80" y="1341.75" width="29.90" height="32.05" fill="#ffffff"/>
<rect x="220.10" y="1341.75" width="29.90" height="32.05" fill="#ffffff"/>
<rect x="256.40" y="1341.75" width="29.90" height="32.05" fill="#ffffff"/>
<rect x="292.70" y="1341.75" width="29.90" height="32.05" fill="#ffffff"/>
<rect x="329.00" y="1341.75" width="29.90" height="32.05" fill="#ffffff"/>
<rect x="365.30" y="1341.75" width="29.90" height="32.05" fill="#ffffff"/>
<rect x="401.60" y="1341.75" width="29.90" height="32.05" fill="#ffffff"/>
</g>
<g stroke="#979797" stroke-width="1.9">
<rect x="451.60" y="1.80" width="30.39" height="32.05" fill="#4e7eb9"/>
<rect x="451.60" y="33.85" width="30.39" height="32.05" fill="#4575b4"/>
<rect x="451.60" y="71.90" width="30.39" height="32.05" fill="#4575b4"/>
<rect x="451.60" y="103.95" width="30.39" height="32.05" fill="#5787bd"/>
<rect x="451.60" y="136.00" width="30.39" height="32.05" fill="#4575b4"/>
<rect x="451.60" y="168.05" width="30.39" height="32.05" fill="#4e7eb9"/>
<rect x="451.60" y="206.10" width="30.39" height="32.05" fill="#a2cae1"/>
<rect x="451.60" y="238.15" width="30.39" height="32.05" fill="#7cabd0"/>
<rect x="451.60" y="276.20" width="30.39" height="32.05" fill="#4575b4"/>
<rect x="451.60" y="308.25" width="30.39" height="32.05" fill="#4e7eb9"/>
<rect x="451.60" y="346.30" width="30.39" height="32.05" fill="#4575b4"/>
<rect x="451.60" y="378.35" width="30.39" height="32.05" fill="#6190c2"/>
<rect x="451.60" y="410.40" width="30.39" height="32.05" fill="#6190c2"/>
<rect x="451.60" y="448.45" width="30.39" height="32.05" fill="#4575b4"/>
<rect x="451.60" y="480.50" width="30.39" height="32.05" fill="#4575b4"/>
<rect x="451.60" y="518.55" width="30.39" height="32.05" fill="#4575b4"/>
<rect x="451.60" y="550.60" width="30.39" height="32.05" fill="#5787bd"/>
<rect x="451.60" y="582.65" width="30.39" height="32.05" fill="#a2cae1"/>
<rect x="451.60" y="620.70" width="30.39" height="32.05" fill="#4575b4"/>
<rect x="451.60" y="652.75" width="30.39" height="32.05" fill="#4e7eb9"/>
<rect x="451.60" y="684.80" width="30.39" height="32.05" fill="#8fbdda"/>
<rect x="451.60" y="722.85" width="30.39" height="32.05" fill="#4e7eb9"/>
<rect x="451.60" y="754.90" width="30.39" height="32.05" fill="#4575b4"/>
<rect x="451.60" y="792.95" width="30.39" height="32.05" fill="#4575b4"/>
<rect x="451.60" y="825.00" width="30.39" height="32.05" fill="#6e9dc9"/>
<rect x="451.60" y="857.05" width="30.39" height="32.05" fill="#4575b4"/>
<rect x="451.60" y="895.10" width="30.39" height="32.05" fill="#6e9dc9"/>
<rect x="451.60" y="927.15" width="30.39" height="32.05" fill="#6e9dc9"/>
<rect x="451.60" y="965.20" width="30.39" height="32.05" fill="#4e7eb9"/>
<rect x="451.60" y="997.25" width="30.39" height="32.05" fill="#4575b4"/>
<rect x="451.60" y="1035.30" width="30.39" height="32.05" fill="#4e7eb9"/>
<rect x="451.60" y="1067.35" width="30.39" height="32.05" fill="#6190c2"/>
<rect x="451.60" y="1105.40" width="30.39" height="32.05" fill="#8fbdda"/>
<rect x="451.60" y="1137.45" width="30.39" height="32.05" fill="#6e9dc9"/>
<rect x="451.60" y="1169.50" width="30.39" height="32.05" fill="#4575b4"/>
<rect x="451.60" y="1207.55" width="30.39" height="32.05" fill="#6e9dc9"/>
<rect x="451.60" y="1239.60" width="30.39" height="32.05" fill="#a2cae1"/>
<rect x="451.60" y="1277.65" width="30.39" height="32.05" fill="#4575b4"/>
<rect x="451.60" y="1309.70" width="30.39" height="32.05" fill="#8fbdda"/>
<rect x="451.60" y="1341.75" width="30.39" height="32.05" fill="#a2cae1"/>
<rect x="481.99" y="1.80" width="30.39" height="32.05" fill="#4575b4"/>
<rect x="481.99" y="33.85" width="30.39" height="32.05" fill="#4575b4"/>
<rect x="481.99" y="71.90" width="30.39" height="32.05" fill="#4e7eb9"/>
<rect x="481.99" y="103.95" width="30.39" height="32.05" fill="#5787bd"/>
<rect x="481.99" y="136.00" width="30.39" height="32.05" fill="#4575b4"/>
<rect x="481.99" y="168.05" width="30.39" height="32.05" fill="#4575b4"/>
<rect x="481.99" y="206.10" width="30.39" height="32.05" fill="#a2cae1"/>
<rect x="481.99" y="238.15" width="30.39" height="32.05" fill="#6e9dc9"/>
<rect x="481.99" y="276.20" width="30.39" height="32.05" fill="#4575b4"/>
<rect x="481.99" y="308.25" width="30.39" height="32.05" fill="#6e9dc9"/>
<rect x="481.99" y="346.30" width="30.39" height="32.05" fill="#4575b4"/>
<rect x="481.99" y="378.35" width="30.39" height="32.05" fill="#6190c2"/>
<rect x="481.99" y="410.40" width="30.39" height="32.05" fill="#6190c2"/>
<rect x="481.99" y="448.45" width="30.39" height="32.05" fill="#4575b4"/>
<rect x="481.99" y="480.50" width="30.39" height="32.05" fill="#4e7eb9"/>
<rect x="481.99" y="518.55" width="30.39" height="32.05" fill="#4575b4"/>
<rect x="481.99" y="550.60" width="30.39" height="32.05" fill="#4e7eb9"/>
<rect x="481.99" y="582.65" width="30.39" height="32.05" fill="#a2cae1"/>
<rect x="481.99" y="620.70" width="30.39" height="32.05" fill="#5787bd"/>
<rect x="481.99" y="652.75" width="30.39" height="32.05" fill="#4575b4"/>
<rect x="481.99" y="684.80" width="30.39" height="32.05" fill="#4e7eb9"/>
<rect x="481.99" y="722.85" width="30.39" height="32.05" fill="#5787bd"/>
<rect x="481.99" y="754.90" width="30.39" height="32.05" fill="#4575b4"/>
<rect x="481.99" y="792.95" width="30.39" height="32.05" fill="#4575b4"/>
<rect x="481.99" y="825.00" width="30.39" height="32.05" fill="#6e9dc9"/>
<rect x="481.99" y="857.05" width="30.39" height="32.05" fill="#4575b4"/>
<rect x="481.99" y="895.10" width="30.39" height="32.05" fill="#6e9dc9"/>
<rect x="481.99" y="927.15" width="30.39" height="32.05" fill="#a2cae1"/>
<rect x="481.99" y="965.20" width="30.39" height="32.05" fill="#5787bd"/>
<rect x="481.99" y="997.25" width="30.39" height="32.05" fill="#4575b4"/>
<rect x="481.99" y="1035.30" width="30.39" height="32.05" fill="#4575b4"/>
<rect x="481.99" y="1067.35" width="30.39" height="32.05" fill="#6e9dc9"/>
<rect x="481.99" y="1105.40" width="30.39" height="32.05" fill="#7cabd0"/>
<rect x="481.99" y="1137.45" width="30.39" height="32.05" fill="#6e9dc9"/>
<rect x="481.99" y="1169.50" width="30.39" height="32.05" fill="#4575b4"/>
<rect x="481.99" y="1207.55" width="30.39" height="32.05" fill="#6e9dc9"/>
<rect x="481.99" y="1239.60" width="30.39" height="32.05" fill="#edf8e0"/>
<rect x="481.99" y="1277.65" width="30.39" height="32.05" fill="#5787bd"/>
<rect x="481.99" y="1309.70" width="30.39" height="32.05" fill="#8fbdda"/>
<rect x="481.99" y="1341.75" width="30.39" height="32.05" fill="#a2cae1"/>
<rect x="512.38" y="1.80" width="30.39" height="32.05" fill="#4575b4"/>
<rect x="512.38" y="33.85" width="30.39" height="32.05" fill="#4575b4"/>
<rect x="512.38" y="71.90" width="30.39" height="32.05" fill="#4e7eb9"/>
<rect x="512.38" y="103.95" width="30.39" height="32.05" fill="#5787bd"/>
<rect x="512.38" y="136.00" width="30.39" height="32.05" fill="#4575b4"/>
<rect x="512.38" y="168.05" width="30.39" height="32.05" fill="#4575b4"/>
<rect x="512.38" y="206.10" width="30.39" height="32.05" fill="#8fbdda"/>
<rect x="512.38" y="238.15" width="30.39" height="32.05" fill="#6e9dc9"/>
<rect x="512.38" y="276.20" width="30.39" height="32.05" fill="#4575b4"/>
<rect x="512.38" y="308.25" width="30.39" height="32.05" fill="#4575b4"/>
<rect x="512.38" y="346.30" width="30.39" height="32.05" fill="#4575b4"/>
<rect x="512.38" y="378.35" width="30.39" height="32.05" fill="#4575b4"/>
<rect x="512.38" y="410.40" width="30.39" height="32.05" fill="#4575b4"/>
<rect x="512.38" y="448.45" width="30.39" height="32.05" fill="#4575b4"/>
<rect x="512.38" y="480.50" width="30.39" height="32.05" fill="#5787bd"/>
<rect x="512.38" y="518.55" width="30.39" height="32.05" fill="#4575b4"/>
<rect x="512.38" y="550.60" width="30.39" height="32.05" fill="#6190c2"/>
<rect x="512.38" y="582.65" width="30.39" height="32.05" fill="#a2cae1"/>
<rect x="512.38" y="620.70" width="30.39" height="32.05" fill="#6190c2"/>
<rect x="512.38" y="652.75" width="30.39" height="32.05" fill="#4575b4"/>
<rect x="512.38" y="684.80" width="30.39" height="32.05" fill="#6e9dc9"/>
<rect x="512.38" y="722.85" width="30.39" height="32.05" fill="#6190c2"/>
<rect x="512.38" y="754.90" width="30.39" height="32.05" fill="#4575b4"/>
<rect x="512.38" y="792.95" width="30.39" height="32.05" fill="#4575b4"/>
<rect x="512.38" y="825.00" width="30.39" height="32.05" fill="#6e9dc9"/>
<rect x="512.38" y="857.05" width="30.39" height="32.05" fill="#4575b4"/>
<rect x="512.38" y="895.10" width="30.39" height="32.05" fill="#4575b4"/>
<rect x="512.38" y="927.15" width="30.39" height="32.05" fill="#6e9dc9"/>
<rect x="512.38" y="965.20" width="30.39" height="32.05" fill="#4e7eb9"/>
<rect x="512.38" y="997.25" width="30.39" height="32.05" fill="#4575b4"/>
<rect x="512.38" y="1035.30" width="30.39" height="32.05" fill="#4e7eb9"/>
<rect x="512.38" y="1067.35" width="30.39" height="32.05" fill="#5787bd"/>
<rect x="512.38" y="1105.40" width="30.39" height="32.05" fill="#edf8e0"/>
<rect x="512.38" y="1137.45" width="30.39" height="32.05" fill="#7cabd0"/>
<rect x="512.38" y="1169.50" width="30.39" height="32.05" fill="#4575b4"/>
<rect x="512.38" y="1207.55" width="30.39" height="32.05" fill="#4e7eb9"/>
<rect x="512.38" y="1239.60" width="30.39" height="32.05" fill="#badaea"/>
<rect x="512.38" y="1277.65" width="30.39" height="32.05" fill="#4e7eb9"/>
<rect x="512.38" y="1309.70" width="30.39" height="32.05" fill="#a2cae1"/>
<rect x="512.38" y="1341.75" width="30.39" height="32.05" fill="#badaea"/>
<rect x="542.77" y="1.80" width="30.39" height="32.05" fill="#4575b4"/>
<rect x="542.77" y="33.85" width="30.39" height="32.05" fill="#4575b4"/>
<rect x="542.77" y="71.90" width="30.39" height="32.05" fill="#4e7eb9"/>
<rect x="542.77" y="103.95" width="30.39" height="32.05" fill="#4e7eb9"/>
<rect x="542.77" y="136.00" width="30.39" height="32.05" fill="#4575b4"/>
<rect x="542.77" y="168.05" width="30.39" height="32.05" fill="#4e7eb9"/>
<rect x="542.77" y="206.10" width="30.39" height="32.05" fill="#badaea"/>
<rect x="542.77" y="238.15" width="30.39" height="32.05" fill="#7cabd0"/>
<rect x="542.77" y="276.20" width="30.39" height="32.05" fill="#4e7eb9"/>
<rect x="542.77" y="308.25" width="30.39" height="32.05" fill="#6e9dc9"/>
<rect x="542.77" y="346.30" width="30.39" height="32.05" fill="#4575b4"/>
<rect x="542.77" y="378.35" width="30.39" height="32.05" fill="#4575b4"/>
<rect x="542.77" y="410.40" width="30.39" height="32.05" fill="#5787bd"/>
<rect x="542.77" y="448.45" width="30.39" height="32.05" fill="#4575b4"/>
<rect x="542.77" y="480.50" width="30.39" height="32.05" fill="#4575b4"/>
<rect x="542.77" y="518.55" width="30.39" height="32.05" fill="#4575b4"/>
<rect x="542.77" y="550.60" width="30.39" height="32.05" fill="#4e7eb9"/>
<rect x="542.77" y="582.65" width="30.39" height="32.05" fill="#a2cae1"/>
<rect x="542.77" y="620.70" width="30.39" height="32.05" fill="#4575b4"/>
<rect x="542.77" y="652.75" width="30.39" height="32.05" fill="#4575b4"/>
<rect x="542.77" y="684.80" width="30.39" height="32.05" fill="#4575b4"/>
<rect x="542.77" y="722.85" width="30.39" height="32.05" fill="#8fbdda"/>
<rect x="542.77" y="754.90" width="30.39" height="32.05" fill="#4575b4"/>
<rect x="542.77" y="792.95" width="30.39" height="32.05" fill="#4575b4"/>
<rect x="542.77" y="825.00" width="30.39" height="32.05" fill="#6190c2"/>
<rect x="542.77" y="857.05" width="30.39" height="32.05" fill="#4575b4"/>
<rect x="542.77" y="895.10" width="30.39" height="32.05" fill="#6e9dc9"/>
<rect x="542.77" y="927.15" width="30.39" height="32.05" fill="#6190c2"/>
<rect x="542.77" y="965.20" width="30.39" height="32.05" fill="#6190c2"/>
<rect x="542.77" y="997.25" width="30.39" height="32.05" fill="#4575b4"/>
<rect x="542.77" y="1035.30" width="30.39" height="32.05" fill="#5787bd"/>
<rect x="542.77" y="1067.35" width="30.39" height="32.05" fill="#5787bd"/>
<rect x="542.77" y="1105.40" width="30.39" height="32.05" fill="#8fbdda"/>
<rect x="542.77" y="1137.45" width="30.39" height="32.05" fill="#7cabd0"/>
<rect x="542.77" y="1169.50" width="30.39" height="32.05" fill="#4575b4"/>
<rect x="542.77" y="1207.55" width="30.39" height="32.05" fill="#4e7eb9"/>
<rect x="542.77" y="1239.60" width="30.39" height="32.05" fill="#e6f5ee"/>
<rect x="542.77" y="1277.65" width="30.39" height="32.05" fill="#4575b4"/>
<rect x="542.77" y="1309.70" width="30.39" height="32.05" fill="#6190c2"/>
<rect x="542.77" y="1341.75" width="30.39" height="32.05" fill="#badaea"/>
<rect x="573.16" y="1.80" width="30.39" height="32.05" fill="#4575b4"/>
<rect x="573.16" y="33.85" width="30.39" height="32.05" fill="#4575b4"/>
<rect x="573.16" y="71.90" width="30.39" height="32.05" fill="#4575b4"/>
<rect x="573.16" y="103.95" width="30.39" height="32.05" fill="#4575b4"/>
<rect x="573.16" y="136.00" width="30.39" height="32.05" fill="#4575b4"/>
<rect x="573.16" y="168.05" width="30.39" height="32.05" fill="#6190c2"/>
<rect x="573.16" y="206.10" width="30.39" height="32.05" fill="#a2cae1"/>
<rect x="573.16" y="238.15" width="30.39" height="32.05" fill="#6190c2"/>
<rect x="573.16" y="276.20" width="30.39" height="32.05" fill="#4575b4"/>
<rect x="573.16" y="308.25" width="30.39" height="32.05" fill="#6190c2"/>
<rect x="573.16" y="346.30" width="30.39" height="32.05" fill="#4575b4"/>
<rect x="573.16" y="378.35" width="30.39" height="32.05" fill="#4575b4"/>
<rect x="573.16" y="410.40" width="30.39" height="32.05" fill="#4575b4"/>
<rect x="573.16" y="448.45" width="30.39" height="32.05" fill="#4575b4"/>
<rect x="573.16" y="480.50" width="30.39" height="32.05" fill="#4575b4"/>
<rect x="573.16" y="518.55" width="30.39" height="32.05" fill="#4575b4"/>
<rect x="573.16" y="550.60" width="30.39" height="32.05" fill="#6190c2"/>
<rect x="573.16" y="582.65" width="30.39" height="32.05" fill="#edf8e0"/>
<rect x="573.16" y="620.70" width="30.39" height="32.05" fill="#4575b4"/>
<rect x="573.16" y="652.75" width="30.39" height="32.05" fill="#4575b4"/>
<rect x="573.16" y="684.80" width="30.39" height="32.05" fill="#dddddd"/>
<rect x="573.16" y="722.85" width="30.39" height="32.05" fill="#edf8e0"/>
<rect x="573.16" y="754.90" width="30.39" height="32.05" fill="#4575b4"/>
<rect x="573.16" y="792.95" width="30.39" height="32.05" fill="#4575b4"/>
<rect x="573.16" y="825.00" width="30.39" height="32.05" fill="#4575b4"/>
<rect x="573.16" y="857.05" width="30.39" height="32.05" fill="#4575b4"/>
<rect x="573.16" y="895.10" width="30.39" height="32.05" fill="#7cabd0"/>
<rect x="573.16" y="927.15" width="30.39" height="32.05" fill="#6190c2"/>
<rect x="573.16" y="965.20" width="30.39" height="32.05" fill="#6190c2"/>
<rect x="573.16" y="997.25" width="30.39" height="32.05" fill="#4575b4"/>
<rect x="573.16" y="1035.30" width="30.39" height="32.05" fill="#4575b4"/>
<rect x="573.16" y="1067.35" width="30.39" height="32.05" fill="#6e9dc9"/>
<rect x="573.16" y="1105.40" width="30.39" height="32.05" fill="#6190c2"/>
<rect x="573.16" y="1137.45" width="30.39" height="32.05" fill="#6e9dc9"/>
<rect x="573.16" y="1169.50" width="30.39" height="32.05" fill="#4575b4"/>
<rect x="573.16" y="1207.55" width="30.39" height="32.05" fill="#4575b4"/>
<rect x="573.16" y="1239.60" width="30.39" height="32.05" fill="#badaea"/>
<rect x="573.16" y="1277.65" width="30.39" height="32.05" fill="#6e9dc9"/>
<rect x="573.16" y="1309.70" width="30.39" height="32.05" fill="#8fbdda"/>
<rect x="573.16" y="1341.75" width="30.39" height="32.05" fill="#6190c2"/>
<rect x="603.55" y="1.80" width="30.39" height="32.05" fill="#4575b4"/>
<rect x="603.55" y="33.85" width="30.39" height="32.05" fill="#4575b4"/>
<rect x="603.55" y="71.90" width="30.39" height="32.05" fill="#4575b4"/>
<rect x="603.55" y="103.95" width="30.39" height="32.05" fill="#4575b4"/>
<rect x="603.55" y="136.00" width="30.39" height="32.05" fill="#4575b4"/>
<rect x="603.55" y="168.05" width="30.39" height="32.05" fill="#4575b4"/>
<rect x="603.55" y="206.10" width="30.39" height="32.05" fill="#badaea"/>
<rect x="603.55" y="238.15" width="30.39" height="32.05" fill="#badaea"/>
<rect x="603.55" y="276.20" width="30.39" height="32.05" fill="#4575b4"/>
<rect x="603.55" y="308.25" width="30.39" height="32.05" fill="#badaea"/>
<rect x="603.55" y="346.30" width="30.39" height="32.05" fill="#4575b4"/>
<rect x="603.55" y="378.35" width="30.39" height="32.05" fill="#4575b4"/>
<rect x="603.55" y="410.40" width="30.39" height="32.05" fill="#4575b4"/>
<rect x="603.55" y="448.45" width="30.39" height="32.05" fill="#4575b4"/>
<rect x="603.55" y="480.50" width="30.39" height="32.05" fill="#4575b4"/>
<rect x="603.55" y="518.55" width="30.39" height="32.05" fill="#4575b4"/>
<rect x="603.55" y="550.60" width="30.39" height="32.05" fill="#4575b4"/>
<rect x="603.55" y="582.65" width="30.39" height="32.05" fill="#4575b4"/>
<rect x="603.55" y="620.70" width="30.39" height="32.05" fill="#4575b4"/>
<rect x="603.55" y="652.75" width="30.39" height="32.05" fill="#4575b4"/>
<rect x="603.55" y="684.80" width="30.39" height="32.05" fill="#4575b4"/>
<rect x="603.55" y="722.85" width="30.39" height="32.05" fill="#4575b4"/>
<rect x="603.55" y="754.90" width="30.39" height="32.05" fill="#4575b4"/>
<rect x="603.55" y="792.95" width="30.39" height="32.05" fill="#4575b4"/>
<rect x="603.55" y="825.00" width="30.39" height="32.05" fill="#4575b4"/>
<rect x="603.55" y="857.05" width="30.39" height="32.05" fill="#4575b4"/>
<rect x="603.55" y="895.10" width="30.39" height="32.05" fill="#4575b4"/>
<rect x="603.55" y="927.15" width="30.39" height="32.05" fill="#4575b4"/>
<rect x="603.55" y="965.20" width="30.39" height="32.05" fill="#4575b4"/>
<rect x="603.55" y="997.25" width="30.39" height="32.05" fill="#badaea"/>
<rect x="603.55" y="1035.30" width="30.39" height="32.05" fill="#4575b4"/>
<rect x="603.55" y="1067.35" width="30.39" height="32.05" fill="#4575b4"/>
<rect x="603.55" y="1105.40" width="30.39" height="32.05" fill="#dddddd"/>
<rect x="603.55" y="1137.45" width="30.39" height="32.05" fill="#4575b4"/>
<rect x="603.55" y="1169.50" width="30.39" height="32.05" fill="#4575b4"/>
<rect x="603.55" y="1207.55" width="30.39" height="32.05" fill="#4575b4"/>
<rect x="603.55" y="1239.60" width="30.39" height="32.05" fill="#4575b4"/>
<rect x="603.55" y="1277.65" width="30.39" height="32.05" fill="#4575b4"/>
<rect x="603.55" y="1309.70" width="30.39" height="32.05" fill="#4575b4"/>
<rect x="603.55" y="1341.75" width="30.39" height="32.05" fill="#fb8a57"/>
<rect x="633.94" y="1.80" width="30.39" height="32.05" fill="#4575b4"/>
<rect x="633.94" y="33.85" width="30.39" height="32.05" fill="#4575b4"/>
<rect x="633.94" y="71.90" width="30.39" height="32.05" fill="#4575b4"/>
<rect x="633.94" y="103.95" width="30.39" height="32.05" fill="#5787bd"/>
<rect x="633.94" y="136.00" width="30.39" height="32.05" fill="#4575b4"/>
<rect x="633.94" y="168.05" width="30.39" height="32.05" fill="#4575b4"/>
<rect x="633.94" y="206.10" width="30.39" height="32.05" fill="#8fbdda"/>
<rect x="633.94" y="238.15" width="30.39" height="32.05" fill="#6e9dc9"/>
<rect x="633.94" y="276.20" width="30.39" height="32.05" fill="#4575b4"/>
<rect x="633.94" y="308.25" width="30.39" height="32.05" fill="#5787bd"/>
<rect x="633.94" y="346.30" width="30.39" height="32.05" fill="#4575b4"/>
<rect x="633.94" y="378.35" width="30.39" height="32.05" fill="#6190c2"/>
<rect x="633.94" y="410.40" width="30.39" height="32.05" fill="#4e7eb9"/>
<rect x="633.94" y="448.45" width="30.39" height="32.05" fill="#4575b4"/>
<rect x="633.94" y="480.50" width="30.39" height="32.05" fill="#4575b4"/>
<rect x="633.94" y="518.55" width="30.39" height="32.05" fill="#4575b4"/>
<rect x="633.94" y="550.60" width="30.39" height="32.05" fill="#5787bd"/>
<rect x="633.94" y="582.65" width="30.39" height="32.05" fill="#8fbdda"/>
<rect x="633.94" y="620.70" width="30.39" height="32.05" fill="#4e7eb9"/>
<rect x="633.94" y="652.75" width="30.39" height="32.05" fill="#4575b4"/>
<rect x="633.94" y="684.80" width="30.39" height="32.05" fill="#4e7eb9"/>
<rect x="633.94" y="722.85" width="30.39" height="32.05" fill="#8fbdda"/>
<rect x="633.94" y="754.90" width="30.39" height="32.05" fill="#4575b4"/>
<rect x="633.94" y="792.95" width="30.39" height="32.05" fill="#4575b4"/>
<rect x="633.94" y="825.00" width="30.39" height="32.05" fill="#5787bd"/>
<rect x="633.94" y="857.05" width="30.39" height="32.05" fill="#4575b4"/>
<rect x="633.94" y="895.10" width="30.39" height="32.05" fill="#5787bd"/>
<rect x="633.94" y="927.15" width="30.39" height="32.05" fill="#4e7eb9"/>
<rect x="633.94" y="965.20" width="30.39" height="32.05" fill="#6190c2"/>
<rect x="633.94" y="997.25" width="30.39" height="32.05" fill="#4575b4"/>
<rect x="633.94" y="1035.30" width="30.39" height="32.05" fill="#5787bd"/>
<rect x="633.94" y="1067.35" width="30.39" height="32.05" fill="#6e9dc9"/>
<rect x="633.94" y="1105.40" width="30.39" height="32.05" fill="#a2cae1"/>
<rect x="633.94" y="1137.45" width="30.39" height="32.05" fill="#6190c2"/>
<rect x="633.94" y="1169.50" width="30.39" height="32.05" fill="#4575b4"/>
<rect x="633.94" y="1207.55" width="30.39" height="32.05" fill="#4575b4"/>
<rect x="633.94" y="1239.60" width="30.39" height="32.05" fill="#8fbdda"/>
<rect x="633.94" y="1277.65" width="30.39" height="32.05" fill="#4e7eb9"/>
<rect x="633.94" y="1309.70" width="30.39" height="32.05" fill="#6190c2"/>
<rect x="633.94" y="1341.75" width="30.39" height="32.05" fill="#6e9dc9"/>
<rect x="664.33" y="1.80" width="30.39" height="32.05" fill="#4575b4"/>
<rect x="664.33" y="33.85" width="30.39" height="32.05" fill="#4575b4"/>
<rect x="664.33" y="71.90" width="30.39" height="32.05" fill="#7cabd0"/>
<rect x="664.33" y="103.95" width="30.39" height="32.05" fill="#4575b4"/>
<rect x="664.33" y="136.00" width="30.39" height="32.05" fill="#4575b4"/>
<rect x="664.33" y="168.05" width="30.39" height="32.05" fill="#4575b4"/>
<rect x="664.33" y="206.10" width="30.39" height="32.05" fill="#cde6f1"/>
<rect x="664.33" y="238.15" width="30.39" height="32.05" fill="#8fbdda"/>
<rect x="664.33" y="276.20" width="30.39" height="32.05" fill="#4575b4"/>
<rect x="664.33" y="308.25" width="30.39" height="32.05" fill="#4575b4"/>
<rect x="664.33" y="346.30" width="30.39" height="32.05" fill="#4575b4"/>
<rect x="664.33" y="378.35" width="30.39" height="32.05" fill="#4575b4"/>
<rect x="664.33" y="410.40" width="30.39" height="32.05" fill="#4575b4"/>
<rect x="664.33" y="448.45" width="30.39" height="32.05" fill="#4575b4"/>
<rect x="664.33" y="480.50" width="30.39" height="32.05" fill="#4575b4"/>
<rect x="664.33" y="518.55" width="30.39" height="32.05" fill="#4575b4"/>
<rect x="664.33" y="550.60" width="30.39" height="32.05" fill="#5787bd"/>
<rect x="664.33" y="582.65" width="30.39" height="32.05" fill="#edf8e0"/>
<rect x="664.33" y="620.70" width="30.39" height="32.05" fill="#6190c2"/>
<rect x="664.33" y="652.75" width="30.39" height="32.05" fill="#4575b4"/>
<rect x="664.33" y="684.80" width="30.39" height="32.05" fill="#4575b4"/>
<rect x="664.33" y="722.85" width="30.39" height="32.05" fill="#6e9dc9"/>
<rect x="664.33" y="754.90" width="30.39" height="32.05" fill="#6190c2"/>
<rect x="664.33" y="792.95" width="30.39" height="32.05" fill="#4575b4"/>
<rect x="664.33" y="825.00" width="30.39" height="32.05" fill="#6190c2"/>
<rect x="664.33" y="857.05" width="30.39" height="32.05" fill="#4575b4"/>
<rect x="664.33" y="895.10" width="30.39" height="32.05" fill="#4575b4"/>
<rect x="664.33" y="927.15" width="30.39" height="32.05" fill="#6190c2"/>
<rect x="664.33" y="965.20" width="30.39" height="32.05" fill="#4575b4"/>
<rect x="664.33" y="997.25" width="30.39" height="32.05" fill="#4575b4"/>
<rect x="664.33" y="1035.30" width="30.39" height="32.05" fill="#4575b4"/>
<rect x="664.33" y="1067.35" width="30.39" height="32.05" fill="#6190c2"/>
<rect x="664.33" y="1105.40" width="30.39" height="32.05" fill="#dddddd"/>
<rect x="664.33" y="1137.45" width="30.39" height="32.05" fill="#6190c2"/>
<rect x="664.33" y="1169.50" width="30.39" height="32.05" fill="#4575b4"/>
<rect x="664.33" y="1207.55" width="30.39" height="32.05" fill="#4575b4"/>
<rect x="664.33" y="1239.60" width="30.39" height="32.05" fill="#5787bd"/>
<rect x="664.33" y="1277.65" width="30.39" height="32.05" fill="#4575b4"/>
<rect x="664.33" y="1309.70" width="30.39" height="32.05" fill="#4575b4"/>
<rect x="664.33" y="1341.75" width="30.39" height="32.05" fill="#8fbdda"/>
<rect x="694.72" y="1.80" width="30.39" height="32.05" fill="#4575b4"/>
<rect x="694.72" y="33.85" width="30.39" height="32.05" fill="#4575b4"/>
<rect x="694.72" y="71.90" width="30.39" height="32.05" fill="#4575b4"/>
<rect x="694.72" y="103.95" width="30.39" height="32.05" fill="#4575b4"/>
<rect x="694.72" y="136.00" width="30.39" height="32.05" fill="#4575b4"/>
<rect x="694.72" y="168.05" width="30.39" height="32.05" fill="#4575b4"/>
<rect x="694.72" y="206.10" width="30.39" height="32.05" fill="#a2cae1"/>
<rect x="694.72" y="238.15" width="30.39" height="32.05" fill="#4575b4"/>
<rect x="694.72" y="276.20" width="30.39" height="32.05" fill="#8fbdda"/>
<rect x="694.72" y="308.25" width="30.39" height="32.05" fill="#8fbdda"/>
<rect x="694.72" y="346.30" width="30.39" height="32.05" fill="#4575b4"/>
<rect x="694.72" y="378.35" width="30.39" height="32.05" fill="#6e9dc9"/>
<rect x="694.72" y="410.40" width="30.39" height="32.05" fill="#6e9dc9"/>
<rect x="694.72" y="448.45" width="30.39" height="32.05" fill="#4575b4"/>
<rect x="694.72" y="480.50" width="30.39" height="32.05" fill="#4575b4"/>
<rect x="694.72" y="518.55" width="30.39" height="32.05" fill="#4575b4"/>
<rect x="694.72" y="550.60" width="30.39" height="32.05" fill="#4575b4"/>
<rect x="694.72" y="582.65" width="30.39" height="32.05" fill="#badaea"/>
<rect x="694.72" y="620.70" width="30.39" height="32.05" fill="#4575b4"/>
<rect x="694.72" y="652.75" width="30.39" height="32.05" fill="#4575b4"/>
<rect x="694.72" y="684.80" width="30.39" height="32.05" fill="#6e9dc9"/>
<rect x="694.72" y="722.85" width="30.39" height="32.05" fill="#4575b4"/>
<rect x="694.72" y="754.90" width="30.39" height="32.05" fill="#4575b4"/>
<rect x="694.72" y="792.95" width="30.39" height="32.05" fill="#4575b4"/>
<rect x="694.72" y="825.00" width="30.39" height="32.05" fill="#4575b4"/>
<rect x="694.72" y="857.05" width="30.39" height="32.05" fill="#4575b4"/>
<rect x="694.72" y="895.10" width="30.39" height="32.05" fill="#6e9dc9"/>
<rect x="694.72" y="927.15" width="30.39" height="32.05" fill="#4575b4"/>
<rect x="694.72" y="965.20" width="30.39" height="32.05" fill="#badaea"/>
<rect x="694.72" y="997.25" width="30.39" height="32.05" fill="#4e7eb9"/>
<rect x="694.72" y="1035.30" width="30.39" height="32.05" fill="#4575b4"/>
<rect x="694.72" y="1067.35" width="30.39" height="32.05" fill="#4575b4"/>
<rect x="694.72" y="1105.40" width="30.39" height="32.05" fill="#dddddd"/>
<rect x="694.72" y="1137.45" width="30.39" height="32.05" fill="#4575b4"/>
<rect x="694.72" y="1169.50" width="30.39" height="32.05" fill="#4575b4"/>
<rect x="694.72" y="1207.55" width="30.39" height="32.05" fill="#4575b4"/>
<rect x="694.72" y="1239.60" width="30.39" height="32.05" fill="#8fbdda"/>
<rect x="694.72" y="1277.65" width="30.39" height="32.05" fill="#6e9dc9"/>
<rect x="694.72" y="1309.70" width="30.39" height="32.05" fill="#6e9dc9"/>
<rect x="694.72" y="1341.75" width="30.39" height="32.05" fill="#6e9dc9"/>
<rect x="734.11" y="1.80" width="30.39" height="32.05" fill="#4575b4"/>
<rect x="734.11" y="33.85" width="30.39" height="32.05" fill="#4575b4"/>
<rect x="734.11" y="71.90" width="30.39" height="32.05" fill="#5787bd"/>
<rect x="734.11" y="103.95" width="30.39" height="32.05" fill="#4575b4"/>
<rect x="734.11" y="136.00" width="30.39" height="32.05" fill="#5787bd"/>
<rect x="734.11" y="168.05" width="30.39" height="32.05" fill="#4575b4"/>
<rect x="734.11" y="206.10" width="30.39" height="32.05" fill="#7cabd0"/>
<rect x="734.11" y="238.15" width="30.39" height="32.05" fill="#6190c2"/>
<rect x="734.11" y="276.20" width="30.39" height="32.05" fill="#4575b4"/>
<rect x="734.11" y="308.25" width="30.39" height="32.05" fill="#4575b4"/>
<rect x="734.11" y="346.30" width="30.39" height="32.05" fill="#5787bd"/>
<rect x="734.11" y="378.35" width="30.39" height="32.05" fill="#4575b4"/>
<rect x="734.11" y="410.40" width="30.39" height="32.05" fill="#7cabd0"/>
<rect x="734.11" y="448.45" width="30.39" height="32.05" fill="#4575b4"/>
<rect x="734.11" y="480.50" width="30.39" height="32.05" fill="#4e7eb9"/>
<rect x="734.11" y="518.55" width="30.39" height="32.05" fill="#4e7eb9"/>
<rect x="734.11" y="550.60" width="30.39" height="32.05" fill="#5787bd"/>
<rect x="734.11" y="582.65" width="30.39" height="32.05" fill="#e04733"/>
<rect x="734.11" y="620.70" width="30.39" height="32.05" fill="#4575b4"/>
<rect x="734.11" y="652.75" width="30.39" height="32.05" fill="#4575b4"/>
<rect x="734.11" y="684.80" width="30.39" height="32.05" fill="#dddddd"/>
<rect x="734.11" y="722.85" width="30.39" height="32.05" fill="#5787bd"/>
<rect x="734.11" y="754.90" width="30.39" height="32.05" fill="#4575b4"/>
<rect x="734.11" y="792.95" width="30.39" height="32.05" fill="#4575b4"/>
<rect x="734.11" y="825.00" width="30.39" height="32.05" fill="#6e9dc9"/>
<rect x="734.11" y="857.05" width="30.39" height="32.05" fill="#4575b4"/>
<rect x="734.11" y="895.10" width="30.39" height="32.05" fill="#5787bd"/>
<rect x="734.11" y="927.15" width="30.39" height="32.05" fill="#4e7eb9"/>
<rect x="734.11" y="965.20" width="30.39" height="32.05" fill="#4575b4"/>
<rect x="734.11" y="997.25" width="30.39" height="32.05" fill="#4575b4"/>
<rect x="734.11" y="1035.30" width="30.39" height="32.05" fill="#badaea"/>
<rect x="734.11" y="1067.35" width="30.39" height="32.05" fill="#4575b4"/>
<rect x="734.11" y="1105.40" width="30.39" height="32.05" fill="#5787bd"/>
<rect x="734.11" y="1137.45" width="30.39" height="32.05" fill="#6e9dc9"/>
<rect x="734.11" y="1169.50" width="30.39" height="32.05" fill="#4575b4"/>
<rect x="734.11" y="1207.55" width="30.39" height="32.05" fill="#8fbdda"/>
<rect x="734.11" y="1239.60" width="30.39" height="32.05" fill="#7cabd0"/>
<rect x="734.11" y="1277.65" width="30.39" height="32.05" fill="#4575b4"/>
<rect x="734.11" y="1309.70" width="30.39" height="32.05" fill="#4575b4"/>
<rect x="734.11" y="1341.75" width="30.39" height="32.05" fill="#e0f3f8"/>
<rect x="764.50" y="1.80" width="30.39" height="32.05" fill="#4575b4"/>
<rect x="764.50" y="33.85" width="30.39" height="32.05" fill="#4e7eb9"/>
<rect x="764.50" y="71.90" width="30.39" height="32.05" fill="#6190c2"/>
<rect x="764.50" y="103.95" width="30.39" height="32.05" fill="#4575b4"/>
<rect x="764.50" y="136.00" width="30.39" height="32.05" fill="#4575b4"/>
<rect x="764.50" y="168.05" width="30.39" height="32.05" fill="#4575b4"/>
<rect x="764.50" y="206.10" width="30.39" height="32.05" fill="#5787bd"/>
<rect x="764.50" y="238.15" width="30.39" height="32.05" fill="#6e9dc9"/>
<rect x="764.50" y="276.20" width="30.39" height="32.05" fill="#5787bd"/>
<rect x="764.50" y="308.25" width="30.39" height="32.05" fill="#6190c2"/>
<rect x="764.50" y="346.30" width="30.39" height="32.05" fill="#4575b4"/>
<rect x="764.50" y="378.35" width="30.39" height="32.05" fill="#6190c2"/>
<rect x="764.50" y="410.40" width="30.39" height="32.05" fill="#4e7eb9"/>
<rect x="764.50" y="448.45" width="30.39" height="32.05" fill="#4575b4"/>
<rect x="764.50" y="480.50" width="30.39" height="32.05" fill="#6190c2"/>
<rect x="764.50" y="518.55" width="30.39" height="32.05" fill="#4575b4"/>
<rect x="764.50" y="550.60" width="30.39" height="32.05" fill="#5787bd"/>
<rect x="764.50" y="582.65" width="30.39" height="32.05" fill="#fff8b5"/>
<rect x="764.50" y="620.70" width="30.39" height="32.05" fill="#4575b4"/>
<rect x="764.50" y="652.75" width="30.39" height="32.05" fill="#5787bd"/>
<rect x="764.50" y="684.80" width="30.39" height="32.05" fill="#dddddd"/>
<rect x="764.50" y="722.85" width="30.39" height="32.05" fill="#5787bd"/>
<rect x="764.50" y="754.90" width="30.39" height="32.05" fill="#4575b4"/>
<rect x="764.50" y="792.95" width="30.39" height="32.05" fill="#4575b4"/>
<rect x="764.50" y="825.00" width="30.39" height="32.05" fill="#7cabd0"/>
<rect x="764.50" y="857.05" width="30.39" height="32.05" fill="#5787bd"/>
<rect x="764.50" y="895.10" width="30.39" height="32.05" fill="#8fbdda"/>
<rect x="764.50" y="927.15" width="30.39" height="32.05" fill="#6190c2"/>
<rect x="764.50" y="965.20" width="30.39" height="32.05" fill="#4575b4"/>
<rect x="764.50" y="997.25" width="30.39" height="32.05" fill="#5787bd"/>
<rect x="764.50" y="1035.30" width="30.39" height="32.05" fill="#6e9dc9"/>
<rect x="764.50" y="1067.35" width="30.39" height="32.05" fill="#6e9dc9"/>
<rect x="764.50" y="1105.40" width="30.39" height="32.05" fill="#5787bd"/>
<rect x="764.50" y="1137.45" width="30.39" height="32.05" fill="#6e9dc9"/>
<rect x="764.50" y="1169.50" width="30.39" height="32.05" fill="#4575b4"/>
<rect x="764.50" y="1207.55" width="30.39" height="32.05" fill="#badaea"/>
<rect x="764.50" y="1239.60" width="30.39" height="32.05" fill="#7cabd0"/>
<rect x="764.50" y="1277.65" width="30.39" height="32.05" fill="#6190c2"/>
<rect x="764.50" y="1309.70" width="30.39" height="32.05" fill="#6190c2"/>
<rect x="764.50" y="1341.75" width="30.39" height="32.05" fill="#5787bd"/>
<rect x="794.89" y="1.80" width="30.39" height="32.05" fill="#4e7eb9"/>
<rect x="794.89" y="33.85" width="30.39" height="32.05" fill="#4e7eb9"/>
<rect x="794.89" y="71.90" width="30.39" height="32.05" fill="#4e7eb9"/>
<rect x="794.89" y="103.95" width="30.39" height="32.05" fill="#4e7eb9"/>
<rect x="794.89" y="136.00" width="30.39" height="32.05" fill="#4e7eb9"/>
<rect x="794.89" y="168.05" width="30.39" height="32.05" fill="#4575b4"/>
<rect x="794.89" y="206.10" width="30.39" height="32.05" fill="#6e9dc9"/>
<rect x="794.89" y="238.15" width="30.39" height="32.05" fill="#6e9dc9"/>
<rect x="794.89" y="276.20" width="30.39" height="32.05" fill="#4575b4"/>
<rect x="794.89" y="308.25" width="30.39" height="32.05" fill="#6190c2"/>
<rect x="794.89" y="346.30" width="30.39" height="32.05" fill="#4575b4"/>
<rect x="794.89" y="378.35" width="30.39" height="32.05" fill="#6190c2"/>
<rect x="794.89" y="410.40" width="30.39" height="32.05" fill="#4e7eb9"/>
<rect x="794.89" y="448.45" width="30.39" height="32.05" fill="#4575b4"/>
<rect x="794.89" y="480.50" width="30.39" height="32.05" fill="#4575b4"/>
<rect x="794.89" y="518.55" width="30.39" height="32.05" fill="#4575b4"/>
<rect x="794.89" y="550.60" width="30.39" height="32.05" fill="#5787bd"/>
<rect x="794.89" y="582.65" width="30.39" height="32.05" fill="#fff8b5"/>
<rect x="794.89" y="620.70" width="30.39" height="32.05" fill="#4575b4"/>
<rect x="794.89" y="652.75" width="30.39" height="32.05" fill="#5787bd"/>
<rect x="794.89" y="684.80" width="30.39" height="32.05" fill="#dddddd"/>
<rect x="794.89" y="722.85" width="30.39" height="32.05" fill="#6e9dc9"/>
<rect x="794.89" y="754.90" width="30.39" height="32.05" fill="#4575b4"/>
<rect x="794.89" y="792.95" width="30.39" height="32.05" fill="#4575b4"/>
<rect x="794.89" y="825.00" width="30.39" height="32.05" fill="#6e9dc9"/>
<rect x="794.89" y="857.05" width="30.39" height="32.05" fill="#4575b4"/>
<rect x="794.89" y="895.10" width="30.39" height="32.05" fill="#8fbdda"/>
<rect x="794.89" y="927.15" width="30.39" height="32.05" fill="#4e7eb9"/>
<rect x="794.89" y="965.20" width="30.39" height="32.05" fill="#4575b4"/>
<rect x="794.89" y="997.25" width="30.39" height="32.05" fill="#4575b4"/>
<rect x="794.89" y="1035.30" width="30.39" height="32.05" fill="#6e9dc9"/>
<rect x="794.89" y="1067.35" width="30.39" height="32.05" fill="#7cabd0"/>
<rect x="794.89" y="1105.40" width="30.39" height="32.05" fill="#5787bd"/>
<rect x="794.89" y="1137.45" width="30.39" height="32.05" fill="#6e9dc9"/>
<rect x="794.89" y="1169.50" width="30.39" height="32.05" fill="#4575b4"/>
<rect x="794.89" y="1207.55" width="30.39" height="32.05" fill="#8fbdda"/>
<rect x="794.89" y="1239.60" width="30.39" height="32.05" fill="#6e9dc9"/>
<rect x="794.89" y="1277.65" width="30.39" height="32.05" fill="#4e7eb9"/>
<rect x="794.89" y="1309.70" width="30.39" height="32.05" fill="#6e9dc9"/>
<rect x="794.89" y="1341.75" width="30.39" height="32.05" fill="#7cabd0"/>
<rect x="825.28" y="1.80" width="30.39" height="32.05" fill="#4e7eb9"/>
<rect x="825.28" y="33.85" width="30.39" height="32.05" fill="#4e7eb9"/>
<rect x="825.28" y="71.90" width="30.39" height="32.05" fill="#4575b4"/>
<rect x="825.28" y="103.95" width="30.39" height="32.05" fill="#4575b4"/>
<rect x="825.28" y="136.00" width="30.39" height="32.05" fill="#4575b4"/>
<rect x="825.28" y="168.05" width="30.39" height="32.05" fill="#4575b4"/>
<rect x="825.28" y="206.10" width="30.39" height="32.05" fill="#4575b4"/>
<rect x="825.28" y="238.15" width="30.39" height="32.05" fill="#4e7eb9"/>
<rect x="825.28" y="276.20" width="30.39" height="32.05" fill="#4e7eb9"/>
<rect x="825.28" y="308.25" width="30.39" height="32.05" fill="#6190c2"/>
<rect x="825.28" y="346.30" width="30.39" height="32.05" fill="#4575b4"/>
<rect x="825.28" y="378.35" width="30.39" height="32.05" fill="#4e7eb9"/>
<rect x="825.28" y="410.40" width="30.39" height="32.05" fill="#4575b4"/>
<rect x="825.28" y="448.45" width="30.39" height="32.05" fill="#4575b4"/>
<rect x="825.28" y="480.50" width="30.39" height="32.05" fill="#4e7eb9"/>
<rect x="825.28" y="518.55" width="30.39" height="32.05" fill="#4575b4"/>
<rect x="825.28" y="550.60" width="30.39" height="32.05" fill="#5787bd"/>
<rect x="825.28" y="582.65" width="30.39" height="32.05" fill="#fdc77f"/>
<rect x="825.28" y="620.70" width="30.39" height="32.05" fill="#4575b4"/>
<rect x="825.28" y="652.75" width="30.39" height="32.05" fill="#4575b4"/>
<rect x="825.28" y="684.80" width="30.39" height="32.05" fill="#dddddd"/>
<rect x="825.28" y="722.85" width="30.39" height="32.05" fill="#7cabd0"/>
<rect x="825.28" y="754.90" width="30.39" height="32.05" fill="#4575b4"/>
<rect x="825.28" y="792.95" width="30.39" height="32.05" fill="#4575b4"/>
<rect x="825.28" y="825.00" width="30.39" height="32.05" fill="#6190c2"/>
<rect x="825.28" y="857.05" width="30.39" height="32.05" fill="#4575b4"/>
<rect x="825.28" y="895.10" width="30.39" height="32.05" fill="#6e9dc9"/>
<rect x="825.28" y="927.15" width="30.39" height="32.05" fill="#4e7eb9"/>
<rect x="825.28" y="965.20" width="30.39" height="32.05" fill="#4575b4"/>
<rect x="825.28" y="997.25" width="30.39" height="32.05" fill="#4e7eb9"/>
<rect x="825.28" y="1035.30" width="30.39" height="32.05" fill="#6190c2"/>
<rect x="825.28" y="1067.35" width="30.39" height="32.05" fill="#6e9dc9"/>
<rect x="825.28" y="1105.40" width="30.39" height="32.05" fill="#5787bd"/>
<rect x="825.28" y="1137.45" width="30.39" height="32.05" fill="#6e9dc9"/>
<rect x="825.28" y="1169.50" width="30.39" height="32.05" fill="#4575b4"/>
<rect x="825.28" y="1207.55" width="30.39" height="32.05" fill="#6190c2"/>
<rect x="825.28" y="1239.60" width="30.39" height="32.05" fill="#7cabd0"/>
<rect x="825.28" y="1277.65" width="30.39" height="32.05" fill="#4e7eb9"/>
<rect x="825.28" y="1309.70" width="30.39" height="32.05" fill="#6190c2"/>
<rect x="825.28" y="1341.75" width="30.39" height="32.05" fill="#6e9dc9"/>
<rect x="855.67" y="1.80" width="30.39" height="32.05" fill="#4575b4"/>
<rect x="855.67" y="33.85" width="30.39" height="32.05" fill="#4575b4"/>
<rect x="855.67" y="71.90" width="30.39" height="32.05" fill="#4e7eb9"/>
<rect x="855.67" y="103.95" width="30.39" height="32.05" fill="#6190c2"/>
<rect x="855.67" y="136.00" width="30.39" height="32.05" fill="#4575b4"/>
<rect x="855.67" y="168.05" width="30.39" height="32.05" fill="#4575b4"/>
<rect x="855.67" y="206.10" width="30.39" height="32.05" fill="#7cabd0"/>
<rect x="855.67" y="238.15" width="30.39" height="32.05" fill="#4575b4"/>
<rect x="855.67" y="276.20" width="30.39" height="32.05" fill="#5787bd"/>
<rect x="855.67" y="308.25" width="30.39" height="32.05" fill="#6e9dc9"/>
<rect x="855.67" y="346.30" width="30.39" height="32.05" fill="#4575b4"/>
<rect x="855.67" y="378.35" width="30.39" height="32.05" fill="#6190c2"/>
<rect x="855.67" y="410.40" width="30.39" height="32.05" fill="#4575b4"/>
<rect x="855.67" y="448.45" width="30.39" height="32.05" fill="#4575b4"/>
<rect x="855.67" y="480.50" width="30.39" height="32.05" fill="#4575b4"/>
<rect x="855.67" y="518.55" width="30.39" height="32.05" fill="#4575b4"/>
<rect x="855.67" y="550.60" width="30.39" height="32.05" fill="#6190c2"/>
<rect x="855.67" y="582.65" width="30.39" height="32.05" fill="#fedb8d"/>
<rect x="855.67" y="620.70" width="30.39" height="32.05" fill="#4575b4"/>
<rect x="855.67" y="652.75" width="30.39" height="32.05" fill="#6190c2"/>
<rect x="855.67" y="684.80" width="30.39" height="32.05" fill="#dddddd"/>
<rect x="855.67" y="722.85" width="30.39" height="32.05" fill="#a2cae1"/>
<rect x="855.67" y="754.90" width="30.39" height="32.05" fill="#4575b4"/>
<rect x="855.67" y="792.95" width="30.39" height="32.05" fill="#4575b4"/>
<rect x="855.67" y="825.00" width="30.39" height="32.05" fill="#4e7eb9"/>
<rect x="855.67" y="857.05" width="30.39" height="32.05" fill="#4575b4"/>
<rect x="855.67" y="895.10" width="30.39" height="32.05" fill="#6e9dc9"/>
<rect x="855.67" y="927.15" width="30.39" height="32.05" fill="#4e7eb9"/>
<rect x="855.67" y="965.20" width="30.39" height="32.05" fill="#4575b4"/>
<rect x="855.67" y="997.25" width="30.39" height="32.05" fill="#4575b4"/>
<rect x="855.67" y="1035.30" width="30.39" height="32.05" fill="#6e9dc9"/>
<rect x="855.67" y="1067.35" width="30.39" height="32.05" fill="#6190c2"/>
<rect x="855.67" y="1105.40" width="30.39" height="32.05" fill="#4e7eb9"/>
<rect x="855.67" y="1137.45" width="30.39" height="32.05" fill="#6190c2"/>
<rect x="855.67" y="1169.50" width="30.39" height="32.05" fill="#6190c2"/>
<rect x="855.67" y="1207.55" width="30.39" height="32.05" fill="#a2cae1"/>
<rect x="855.67" y="1239.60" width="30.39" height="32.05" fill="#8fbdda"/>
<rect x="855.67" y="1277.65" width="30.39" height="32.05" fill="#5787bd"/>
<rect x="855.67" y="1309.70" width="30.39" height="32.05" fill="#4575b4"/>
<rect x="855.67" y="1341.75" width="30.39" height="32.05" fill="#badaea"/>
<rect x="886.06" y="1.80" width="30.39" height="32.05" fill="#4e7eb9"/>
<rect x="886.06" y="33.85" width="30.39" height="32.05" fill="#4575b4"/>
<rect x="886.06" y="71.90" width="30.39" height="32.05" fill="#4e7eb9"/>
<rect x="886.06" y="103.95" width="30.39" height="32.05" fill="#4575b4"/>
<rect x="886.06" y="136.00" width="30.39" height="32.05" fill="#4575b4"/>
<rect x="886.06" y="168.05" width="30.39" height="32.05" fill="#4575b4"/>
<rect x="886.06" y="206.10" width="30.39" height="32.05" fill="#5787bd"/>
<rect x="886.06" y="238.15" width="30.39" height="32.05" fill="#6190c2"/>
<rect x="886.06" y="276.20" width="30.39" height="32.05" fill="#4575b4"/>
<rect x="886.06" y="308.25" width="30.39" height="32.05" fill="#5787bd"/>
<rect x="886.06" y="346.30" width="30.39" height="32.05" fill="#4e7eb9"/>
<rect x="886.06" y="378.35" width="30.39" height="32.05" fill="#6190c2"/>
<rect x="886.06" y="410.40" width="30.39" height="32.05" fill="#4e7eb9"/>
<rect x="886.06" y="448.45" width="30.39" height="32.05" fill="#4e7eb9"/>
<rect x="886.06" y="480.50" width="30.39" height="32.05" fill="#4575b4"/>
<rect x="886.06" y="518.55" width="30.39" height="32.05" fill="#4575b4"/>
<rect x="886.06" y="550.60" width="30.39" height="32.05" fill="#5787bd"/>
<rect x="886.06" y="582.65" width="30.39" height="32.05" fill="#fedb8d"/>
<rect x="886.06" y="620.70" width="30.39" height="32.05" fill="#4575b4"/>
<rect x="886.06" y="652.75" width="30.39" height="32.05" fill="#5787bd"/>
<rect x="886.06" y="684.80" width="30.39" height="32.05" fill="#dddddd"/>
<rect x="886.06" y="722.85" width="30.39" height="32.05" fill="#6e9dc9"/>
<rect x="886.06" y="754.90" width="30.39" height="32.05" fill="#4575b4"/>
<rect x="886.06" y="792.95" width="30.39" height="32.05" fill="#4575b4"/>
<rect x="886.06" y="825.00" width="30.39" height="32.05" fill="#6190c2"/>
<rect x="886.06" y="857.05" width="30.39" height="32.05" fill="#4575b4"/>
<rect x="886.06" y="895.10" width="30.39" height="32.05" fill="#8fbdda"/>
<rect x="886.06" y="927.15" width="30.39" height="32.05" fill="#4e7eb9"/>
<rect x="886.06" y="965.20" width="30.39" height="32.05" fill="#4e7eb9"/>
<rect x="886.06" y="997.25" width="30.39" height="32.05" fill="#4e7eb9"/>
<rect x="886.06" y="1035.30" width="30.39" height="32.05" fill="#7cabd0"/>
<rect x="886.06" y="1067.35" width="30.39" height="32.05" fill="#badaea"/>
<rect x="886.06" y="1105.40" width="30.39" height="32.05" fill="#5787bd"/>
<rect x="886.06" y="1137.45" width="30.39" height="32.05" fill="#7cabd0"/>
<rect x="886.06" y="1169.50" width="30.39" height="32.05" fill="#4e7eb9"/>
<rect x="886.06" y="1207.55" width="30.39" height="32.05" fill="#a2cae1"/>
<rect x="886.06" y="1239.60" width="30.39" height="32.05" fill="#6190c2"/>
<rect x="886.06" y="1277.65" width="30.39" height="32.05" fill="#6190c2"/>
<rect x="886.06" y="1309.70" width="30.39" height="32.05" fill="#5787bd"/>
<rect x="886.06" y="1341.75" width="30.39" height="32.05" fill="#6e9dc9"/>
<rect x="916.45" y="1.80" width="30.39" height="32.05" fill="#4575b4"/>
<rect x="916.45" y="33.85" width="30.39" height="32.05" fill="#4575b4"/>
<rect x="916.45" y="71.90" width="30.39" height="32.05" fill="#5787bd"/>
<rect x="916.45" y="103.95" width="30.39" height="32.05" fill="#4575b4"/>
<rect x="916.45" y="136.00" width="30.39" height="32.05" fill="#4575b4"/>
<rect x="916.45" y="168.05" width="30.39" height="32.05" fill="#4575b4"/>
<rect x="916.45" y="206.10" width="30.39" height="32.05" fill="#6190c2"/>
<rect x="916.45" y="238.15" width="30.39" height="32.05" fill="#4575b4"/>
<rect x="916.45" y="276.20" width="30.39" height="32.05" fill="#4575b4"/>
<rect x="916.45" y="308.25" width="30.39" height="32.05" fill="#5787bd"/>
<rect x="916.45" y="346.30" width="30.39" height="32.05" fill="#4575b4"/>
<rect x="916.45" y="378.35" width="30.39" height="32.05" fill="#4575b4"/>
<rect x="916.45" y="410.40" width="30.39" height="32.05" fill="#4575b4"/>
<rect x="916.45" y="448.45" width="30.39" height="32.05" fill="#4575b4"/>
<rect x="916.45" y="480.50" width="30.39" height="32.05" fill="#4575b4"/>
<rect x="916.45" y="518.55" width="30.39" height="32.05" fill="#4575b4"/>
<rect x="916.45" y="550.60" width="30.39" height="32.05" fill="#6190c2"/>
<rect x="916.45" y="582.65" width="30.39" height="32.05" fill="#fffebe"/>
<rect x="916.45" y="620.70" width="30.39" height="32.05" fill="#4575b4"/>
<rect x="916.45" y="652.75" width="30.39" height="32.05" fill="#6e9dc9"/>
<rect x="916.45" y="684.80" width="30.39" height="32.05" fill="#dddddd"/>
<rect x="916.45" y="722.85" width="30.39" height="32.05" fill="#a2cae1"/>
<rect x="916.45" y="754.90" width="30.39" height="32.05" fill="#4575b4"/>
<rect x="916.45" y="792.95" width="30.39" height="32.05" fill="#4575b4"/>
<rect x="916.45" y="825.00" width="30.39" height="32.05" fill="#4575b4"/>
<rect x="916.45" y="857.05" width="30.39" height="32.05" fill="#4575b4"/>
<rect x="916.45" y="895.10" width="30.39" height="32.05" fill="#8fbdda"/>
<rect x="916.45" y="927.15" width="30.39" height="32.05" fill="#4575b4"/>
<rect x="916.45" y="965.20" width="30.39" height="32.05" fill="#6190c2"/>
<rect x="916.45" y="997.25" width="30.39" height="32.05" fill="#4575b4"/>
<rect x="916.45" y="1035.30" width="30.39" height="32.05" fill="#5787bd"/>
<rect x="916.45" y="1067.35" width="30.39" height="32.05" fill="#5787bd"/>
<rect x="916.45" y="1105.40" width="30.39" height="32.05" fill="#4575b4"/>
<rect x="916.45" y="1137.45" width="30.39" height="32.05" fill="#7cabd0"/>
<rect x="916.45" y="1169.50" width="30.39" height="32.05" fill="#5787bd"/>
<rect x="916.45" y="1207.55" width="30.39" height="32.05" fill="#8fbdda"/>
<rect x="916.45" y="1239.60" width="30.39" height="32.05" fill="#7cabd0"/>
<rect x="916.45" y="1277.65" width="30.39" height="32.05" fill="#4575b4"/>
<rect x="916.45" y="1309.70" width="30.39" height="32.05" fill="#6190c2"/>
<rect x="916.45" y="1341.75" width="30.39" height="32.05" fill="#6e9dc9"/>
<rect x="946.84" y="1.80" width="30.39" height="32.05" fill="#4e7eb9"/>
<rect x="946.84" y="33.85" width="30.39" height="32.05" fill="#4e7eb9"/>
<rect x="946.84" y="71.90" width="30.39" height="32.05" fill="#4e7eb9"/>
<rect x="946.84" y="103.95" width="30.39" height="32.05" fill="#5787bd"/>
<rect x="946.84" y="136.00" width="30.39" height="32.05" fill="#4e7eb9"/>
<rect x="946.84" y="168.05" width="30.39" height="32.05" fill="#4e7eb9"/>
<rect x="946.84" y="206.10" width="30.39" height="32.05" fill="#7cabd0"/>
<rect x="946.84" y="238.15" width="30.39" height="32.05" fill="#5787bd"/>
<rect x="946.84" y="276.20" width="30.39" height="32.05" fill="#4575b4"/>
<rect x="946.84" y="308.25" width="30.39" height="32.05" fill="#5787bd"/>
<rect x="946.84" y="346.30" width="30.39" height="32.05" fill="#4e7eb9"/>
<rect x="946.84" y="378.35" width="30.39" height="32.05" fill="#6190c2"/>
<rect x="946.84" y="410.40" width="30.39" height="32.05" fill="#6190c2"/>
<rect x="946.84" y="448.45" width="30.39" height="32.05" fill="#4575b4"/>
<rect x="946.84" y="480.50" width="30.39" height="32.05" fill="#4575b4"/>
<rect x="946.84" y="518.55" width="30.39" height="32.05" fill="#4e7eb9"/>
<rect x="946.84" y="550.60" width="30.39" height="32.05" fill="#6190c2"/>
<rect x="946.84" y="582.65" width="30.39" height="32.05" fill="#fff8b5"/>
<rect x="946.84" y="620.70" width="30.39" height="32.05" fill="#4575b4"/>
<rect x="946.84" y="652.75" width="30.39" height="32.05" fill="#5787bd"/>
<rect x="946.84" y="684.80" width="30.39" height="32.05" fill="#dddddd"/>
<rect x="946.84" y="722.85" width="30.39" height="32.05" fill="#6e9dc9"/>
<rect x="946.84" y="754.90" width="30.39" height="32.05" fill="#4575b4"/>
<rect x="946.84" y="792.95" width="30.39" height="32.05" fill="#4575b4"/>
<rect x="946.84" y="825.00" width="30.39" height="32.05" fill="#6e9dc9"/>
<rect x="946.84" y="857.05" width="30.39" height="32.05" fill="#4575b4"/>
<rect x="946.84" y="895.10" width="30.39" height="32.05" fill="#6e9dc9"/>
<rect x="946.84" y="927.15" width="30.39" height="32.05" fill="#4e7eb9"/>
<rect x="946.84" y="965.20" width="30.39" height="32.05" fill="#4e7eb9"/>
<rect x="946.84" y="997.25" width="30.39" height="32.05" fill="#4575b4"/>
<rect x="946.84" y="1035.30" width="30.39" height="32.05" fill="#7cabd0"/>
<rect x="946.84" y="1067.35" width="30.39" height="32.05" fill="#7cabd0"/>
<rect x="946.84" y="1105.40" width="30.39" height="32.05" fill="#6190c2"/>
<rect x="946.84" y="1137.45" width="30.39" height="32.05" fill="#8fbdda"/>
<rect x="946.84" y="1169.50" width="30.39" height="32.05" fill="#4575b4"/>
<rect x="946.84" y="1207.55" width="30.39" height="32.05" fill="#a2cae1"/>
<rect x="946.84" y="1239.60" width="30.39" height="32.05" fill="#7cabd0"/>
<rect x="946.84" y="1277.65" width="30.39" height="32.05" fill="#4575b4"/>
<rect x="946.84" y="1309.70" width="30.39" height="32.05" fill="#6e9dc9"/>
<rect x="946.84" y="1341.75" width="30.39" height="32.05" fill="#8fbdda"/>
<rect x="977.23" y="1.80" width="30.39" height="32.05" fill="#4575b4"/>
<rect x="977.23" y="33.85" width="30.39" height="32.05" fill="#4575b4"/>
<rect x="977.23" y="71.90" width="30.39" height="32.05" fill="#4575b4"/>
<rect x="977.23" y="103.95" width="30.39" height="32.05" fill="#4575b4"/>
<rect x="977.23" y="136.00" width="30.39" height="32.05" fill="#4575b4"/>
<rect x="977.23" y="168.05" width="30.39" height="32.05" fill="#4575b4"/>
<rect x="977.23" y="206.10" width="30.39" height="32.05" fill="#5787bd"/>
<rect x="977.23" y="238.15" width="30.39" height="32.05" fill="#6190c2"/>
<rect x="977.23" y="276.20" width="30.39" height="32.05" fill="#4575b4"/>
<rect x="977.23" y="308.25" width="30.39" height="32.05" fill="#4e7eb9"/>
<rect x="977.23" y="346.30" width="30.39" height="32.05" fill="#4575b4"/>
<rect x="977.23" y="378.35" width="30.39" height="32.05" fill="#5787bd"/>
<rect x="977.23" y="410.40" width="30.39" height="32.05" fill="#5787bd"/>
<rect x="977.23" y="448.45" width="30.39" height="32.05" fill="#4575b4"/>
<rect x="977.23" y="480.50" width="30.39" height="32.05" fill="#4575b4"/>
<rect x="977.23" y="518.55" width="30.39" height="32.05" fill="#4575b4"/>
<rect x="977.23" y="550.60" width="30.39" height="32.05" fill="#6190c2"/>
<rect x="977.23" y="582.65" width="30.39" height="32.05" fill="#fee699"/>
<rect x="977.23" y="620.70" width="30.39" height="32.05" fill="#4575b4"/>
<rect x="977.23" y="652.75" width="30.39" height="32.05" fill="#6e9dc9"/>
<rect x="977.23" y="684.80" width="30.39" height="32.05" fill="#dddddd"/>
<rect x="977.23" y="722.85" width="30.39" height="32.05" fill="#7cabd0"/>
<rect x="977.23" y="754.90" width="30.39" height="32.05" fill="#4575b4"/>
<rect x="977.23" y="792.95" width="30.39" height="32.05" fill="#4575b4"/>
<rect x="977.23" y="825.00" width="30.39" height="32.05" fill="#7cabd0"/>
<rect x="977.23" y="857.05" width="30.39" height="32.05" fill="#4575b4"/>
<rect x="977.23" y="895.10" width="30.39" height="32.05" fill="#6e9dc9"/>
<rect x="977.23" y="927.15" width="30.39" height="32.05" fill="#4e7eb9"/>
<rect x="977.23" y="965.20" width="30.39" height="32.05" fill="#4575b4"/>
<rect x="977.23" y="997.25" width="30.39" height="32.05" fill="#4575b4"/>
<rect x="977.23" y="1035.30" width="30.39" height="32.05" fill="#5787bd"/>
<rect x="977.23" y="1067.35" width="30.39" height="32.05" fill="#7cabd0"/>
<rect x="977.23" y="1105.40" width="30.39" height="32.05" fill="#5787bd"/>
<rect x="977.23" y="1137.45" width="30.39" height="32.05" fill="#8fbdda"/>
<rect x="977.23" y="1169.50" width="30.39" height="32.05" fill="#4e7eb9"/>
<rect x="977.23" y="1207.55" width="30.39" height="32.05" fill="#8fbdda"/>
<rect x="977.23" y="1239.60" width="30.39" height="32.05" fill="#6e9dc9"/>
<rect x="977.23" y="1277.65" width="30.39" height="32.05" fill="#4575b4"/>
<rect x="977.23" y="1309.70" width="30.39" height="32.05" fill="#6190c2"/>
<rect x="977.23" y="1341.75" width="30.39" height="32.05" fill="#8fbdda"/>
<rect x="1007.62" y="1.80" width="30.39" height="32.05" fill="#4e7eb9"/>
<rect x="1007.62" y="33.85" width="30.39" height="32.05" fill="#4575b4"/>
<rect x="1007.62" y="71.90" width="30.39" height="32.05" fill="#4575b4"/>
<rect x="1007.62" y="103.95" width="30.39" height="32.05" fill="#4e7eb9"/>
<rect x="1007.62" y="136.00" width="30.39" height="32.05" fill="#4575b4"/>
<rect x="1007.62" y="168.05" width="30.39" height="32.05" fill="#4575b4"/>
<rect x="1007.62" y="206.10" width="30.39" height="32.05" fill="#6190c2"/>
<rect x="1007.62" y="238.15" width="30.39" height="32.05" fill="#6e9dc9"/>
<rect x="1007.62" y="276.20" width="30.39" height="32.05" fill="#4575b4"/>
<rect x="1007.62" y="308.25" width="30.39" height="32.05" fill="#5787bd"/>
<rect x="1007.62" y="346.30" width="30.39" height="32.05" fill="#4575b4"/>
<rect x="1007.62" y="378.35" width="30.39" height="32.05" fill="#6190c2"/>
<rect x="1007.62" y="410.40" width="30.39" height="32.05" fill="#5787bd"/>
<rect x="1007.62" y="448.45" width="30.39" height="32.05" fill="#4575b4"/>
<rect x="1007.62" y="480.50" width="30.39" height="32.05" fill="#4e7eb9"/>
<rect x="1007.62" y="518.55" width="30.39" height="32.05" fill="#4575b4"/>
<rect x="1007.62" y="550.60" width="30.39" height="32.05" fill="#4e7eb9"/>
<rect x="1007.62" y="582.65" width="30.39" height="32.05" fill="#fc9f65"/>
<rect x="1007.62" y="620.70" width="30.39" height="32.05" fill="#4575b4"/>
<rect x="1007.62" y="652.75" width="30.39" height="32.05" fill="#4e7eb9"/>
<rect x="1007.62" y="684.80" width="30.39" height="32.05" fill="#dddddd"/>
<rect x="1007.62" y="722.85" width="30.39" height="32.05" fill="#8fbdda"/>
<rect x="1007.62" y="754.90" width="30.39" height="32.05" fill="#4575b4"/>
<rect x="1007.62" y="792.95" width="30.39" height="32.05" fill="#4575b4"/>
<rect x="1007.62" y="825.00" width="30.39" height="32.05" fill="#6e9dc9"/>
<rect x="1007.62" y="857.05" width="30.39" height="32.05" fill="#4575b4"/>
<rect x="1007.62" y="895.10" width="30.39" height="32.05" fill="#7cabd0"/>
<rect x="1007.62" y="927.15" width="30.39" height="32.05" fill="#4575b4"/>
<rect x="1007.62" y="965.20" width="30.39" height="32.05" fill="#4575b4"/>
<rect x="1007.62" y="997.25" width="30.39" height="32.05" fill="#4e7eb9"/>
<rect x="1007.62" y="1035.30" width="30.39" height="32.05" fill="#8fbdda"/>
<rect x="1007.62" y="1067.35" width="30.39" height="32.05" fill="#6e9dc9"/>
<rect x="1007.62" y="1105.40" width="30.39" height="32.05" fill="#4e7eb9"/>
<rect x="1007.62" y="1137.45" width="30.39" height="32.05" fill="#6190c2"/>
<rect x="1007.62" y="1169.50" width="30.39" height="32.05" fill="#4575b4"/>
<rect x="1007.62" y="1207.55" width="30.39" height="32.05" fill="#8fbdda"/>
<rect x="1007.62" y="1239.60" width="30.39" height="32.05" fill="#6e9dc9"/>
<rect x="1007.62" y="1277.65" width="30.39" height="32.05" fill="#4575b4"/>
<rect x="1007.62" y="1309.70" width="30.39" height="32.05" fill="#4e7eb9"/>
<rect x="1007.62" y="1341.75" width="30.39" height="32.05" fill="#6e9dc9"/>
<rect x="1038.01" y="1.80" width="30.39" height="32.05" fill="#4e7eb9"/>
<rect x="1038.01" y="33.85" width="30.39" height="32.05" fill="#4e7eb9"/>
<rect x="1038.01" y="71.90" width="30.39" height="32.05" fill="#6e9dc9"/>
<rect x="1038.01" y="103.95" width="30.39" height="32.05" fill="#4e7eb9"/>
<rect x="1038.01" y="136.00" width="30.39" height="32.05" fill="#4e7eb9"/>
<rect x="1038.01" y="168.05" width="30.39" height="32.05" fill="#4575b4"/>
<rect x="1038.01" y="206.10" width="30.39" height="32.05" fill="#4575b4"/>
<rect x="1038.01" y="238.15" width="30.39" height="32.05" fill="#6e9dc9"/>
<rect x="1038.01" y="276.20" width="30.39" height="32.05" fill="#4575b4"/>
<rect x="1038.01" y="308.25" width="30.39" height="32.05" fill="#6190c2"/>
<rect x="1038.01" y="346.30" width="30.39" height="32.05" fill="#4575b4"/>
<rect x="1038.01" y="378.35" width="30.39" height="32.05" fill="#5787bd"/>
<rect x="1038.01" y="410.40" width="30.39" height="32.05" fill="#4e7eb9"/>
<rect x="1038.01" y="448.45" width="30.39" height="32.05" fill="#4e7eb9"/>
<rect x="1038.01" y="480.50" width="30.39" height="32.05" fill="#4575b4"/>
<rect x="1038.01" y="518.55" width="30.39" height="32.05" fill="#4575b4"/>
<rect x="1038.01" y="550.60" width="30.39" height="32.05" fill="#4e7eb9"/>
<rect x="1038.01" y="582.65" width="30.39" height="32.05" fill="#f5fbd2"/>
<rect x="1038.01" y="620.70" width="30.39" height="32.05" fill="#4575b4"/>
<rect x="1038.01" y="652.75" width="30.39" height="32.05" fill="#4575b4"/>
<rect x="1038.01" y="684.80" width="30.39" height="32.05" fill="#dddddd"/>
<rect x="1038.01" y="722.85" width="30.39" height="32.05" fill="#4575b4"/>
<rect x="1038.01" y="754.90" width="30.39" height="32.05" fill="#4e7eb9"/>
<rect x="1038.01" y="792.95" width="30.39" height="32.05" fill="#4575b4"/>
<rect x="1038.01" y="825.00" width="30.39" height="32.05" fill="#6e9dc9"/>
<rect x="1038.01" y="857.05" width="30.39" height="32.05" fill="#4575b4"/>
<rect x="1038.01" y="895.10" width="30.39" height="32.05" fill="#6e9dc9"/>
<rect x="1038.01" y="927.15" width="30.39" height="32.05" fill="#4575b4"/>
<rect x="1038.01" y="965.20" width="30.39" height="32.05" fill="#4575b4"/>
<rect x="1038.01" y="997.25" width="30.39" height="32.05" fill="#4575b4"/>
<rect x="1038.01" y="1035.30" width="30.39" height="32.05" fill="#6190c2"/>
<rect x="1038.01" y="1067.35" width="30.39" height="32.05" fill="#7cabd0"/>
<rect x="1038.01" y="1105.40" width="30.39" height="32.05" fill="#5787bd"/>
<rect x="1038.01" y="1137.45" width="30.39" height="32.05" fill="#4e7eb9"/>
<rect x="1038.01" y="1169.50" width="30.39" height="32.05" fill="#4e7eb9"/>
<rect x="1038.01" y="1207.55" width="30.39" height="32.05" fill="#6e9dc9"/>
<rect x="1038.01" y="1239.60" width="30.39" height="32.05" fill="#7cabd0"/>
<rect x="1038.01" y="1277.65" width="30.39" height="32.05" fill="#4e7eb9"/>
<rect x="1038.01" y="1309.70" width="30.39" height="32.05" fill="#7cabd0"/>
<rect x="1038.01" y="1341.75" width="30.39" height="32.05" fill="#badaea"/>
<rect x="1068.40" y="1.80" width="30.39" height="32.05" fill="#4575b4"/>
<rect x="1068.40" y="33.85" width="30.39" height="32.05" fill="#4e7eb9"/>
<rect x="1068.40" y="71.90" width="30.39" height="32.05" fill="#4575b4"/>
<rect x="1068.40" y="103.95" width="30.39" height="32.05" fill="#4575b4"/>
<rect x="1068.40" y="136.00" width="30.39" height="32.05" fill="#4575b4"/>
<rect x="1068.40" y="168.05" width="30.39" height="32.05" fill="#4575b4"/>
<rect x="1068.40" y="206.10" width="30.39" height="32.05" fill="#6190c2"/>
<rect x="1068.40" y="238.15" width="30.39" height="32.05" fill="#6190c2"/>
<rect x="1068.40" y="276.20" width="30.39" height="32.05" fill="#4575b4"/>
<rect x="1068.40" y="308.25" width="30.39" height="32.05" fill="#6190c2"/>
<rect x="1068.40" y="346.30" width="30.39" height="32.05" fill="#4575b4"/>
<rect x="1068.40" y="378.35" width="30.39" height="32.05" fill="#6190c2"/>
<rect x="1068.40" y="410.40" width="30.39" height="32.05" fill="#5787bd"/>
<rect x="1068.40" y="448.45" width="30.39" height="32.05" fill="#4575b4"/>
<rect x="1068.40" y="480.50" width="30.39" height="32.05" fill="#4575b4"/>
<rect x="1068.40" y="518.55" width="30.39" height="32.05" fill="#4575b4"/>
<rect x="1068.40" y="550.60" width="30.39" height="32.05" fill="#4575b4"/>
<rect x="1068.40" y="582.65" width="30.39" height="32.05" fill="#fee699"/>
<rect x="1068.40" y="620.70" width="30.39" height="32.05" fill="#4575b4"/>
<rect x="1068.40" y="652.75" width="30.39" height="32.05" fill="#4575b4"/>
<rect x="1068.40" y="684.80" width="30.39" height="32.05" fill="#dddddd"/>
<rect x="1068.40" y="722.85" width="30.39" height="32.05" fill="#7cabd0"/>
<rect x="1068.40" y="754.90" width="30.39" height="32.05" fill="#4e7eb9"/>
<rect x="1068.40" y="792.95" width="30.39" height="32.05" fill="#4575b4"/>
<rect x="1068.40" y="825.00" width="30.39" height="32.05" fill="#6190c2"/>
<rect x="1068.40" y="857.05" width="30.39" height="32.05" fill="#4575b4"/>
<rect x="1068.40" y="895.10" width="30.39" height="32.05" fill="#7cabd0"/>
<rect x="1068.40" y="927.15" width="30.39" height="32.05" fill="#4e7eb9"/>
<rect x="1068.40" y="965.20" width="30.39" height="32.05" fill="#4575b4"/>
<rect x="1068.40" y="997.25" width="30.39" height="32.05" fill="#4575b4"/>
<rect x="1068.40" y="1035.30" width="30.39" height="32.05" fill="#6190c2"/>
<rect x="1068.40" y="1067.35" width="30.39" height="32.05" fill="#8fbdda"/>
<rect x="1068.40" y="1105.40" width="30.39" height="32.05" fill="#4e7eb9"/>
<rect x="1068.40" y="1137.45" width="30.39" height="32.05" fill="#6e9dc9"/>
<rect x="1068.40" y="1169.50" width="30.39" height="32.05" fill="#4e7eb9"/>
<rect x="1068.40" y="1207.55" width="30.39" height="32.05" fill="#8fbdda"/>
<rect x="1068.40" y="1239.60" width="30.39" height="32.05" fill="#8fbdda"/>
<rect x="1068.40" y="1277.65" width="30.39" height="32.05" fill="#4575b4"/>
<rect x="1068.40" y="1309.70" width="30.39" height="32.05" fill="#6e9dc9"/>
<rect x="1068.40" y="1341.75" width="30.39" height="32.05" fill="#a2cae1"/>
<rect x="1098.79" y="1.80" width="30.39" height="32.05" fill="#4e7eb9"/>
<rect x="1098.79" y="33.85" width="30.39" height="32.05" fill="#4e7eb9"/>
<rect x="1098.79" y="71.90" width="30.39" height="32.05" fill="#4575b4"/>
<rect x="1098.79" y="103.95" width="30.39" height="32.05" fill="#4575b4"/>
<rect x="1098.79" y="136.00" width="30.39" height="32.05" fill="#6190c2"/>
<rect x="1098.79" y="168.05" width="30.39" height="32.05" fill="#4575b4"/>
<rect x="1098.79" y="206.10" width="30.39" height="32.05" fill="#8fbdda"/>
<rect x="1098.79" y="238.15" width="30.39" height="32.05" fill="#6190c2"/>
<rect x="1098.79" y="276.20" width="30.39" height="32.05" fill="#5787bd"/>
<rect x="1098.79" y="308.25" width="30.39" height="32.05" fill="#4575b4"/>
<rect x="1098.79" y="346.30" width="30.39" height="32.05" fill="#4e7eb9"/>
<rect x="1098.79" y="378.35" width="30.39" height="32.05" fill="#6190c2"/>
<rect x="1098.79" y="410.40" width="30.39" height="32.05" fill="#4575b4"/>
<rect x="1098.79" y="448.45" width="30.39" height="32.05" fill="#4e7eb9"/>
<rect x="1098.79" y="480.50" width="30.39" height="32.05" fill="#4e7eb9"/>
<rect x="1098.79" y="518.55" width="30.39" height="32.05" fill="#4575b4"/>
<rect x="1098.79" y="550.60" width="30.39" height="32.05" fill="#7cabd0"/>
<rect x="1098.79" y="582.65" width="30.39" height="32.05" fill="#fdc77f"/>
<rect x="1098.79" y="620.70" width="30.39" height="32.05" fill="#4575b4"/>
<rect x="1098.79" y="652.75" width="30.39" height="32.05" fill="#5787bd"/>
<rect x="1098.79" y="684.80" width="30.39" height="32.05" fill="#dddddd"/>
<rect x="1098.79" y="722.85" width="30.39" height="32.05" fill="#7cabd0"/>
<rect x="1098.79" y="754.90" width="30.39" height="32.05" fill="#4575b4"/>
<rect x="1098.79" y="792.95" width="30.39" height="32.05" fill="#4575b4"/>
<rect x="1098.79" y="825.00" width="30.39" height="32.05" fill="#8fbdda"/>
<rect x="1098.79" y="857.05" width="30.39" height="32.05" fill="#4575b4"/>
<rect x="1098.79" y="895.10" width="30.39" height="32.05" fill="#8fbdda"/>
<rect x="1098.79" y="927.15" width="30.39" height="32.05" fill="#4575b4"/>
<rect x="1098.79" y="965.20" width="30.39" height="32.05" fill="#4575b4"/>
<rect x="1098.79" y="997.25" width="30.39" height="32.05" fill="#4575b4"/>
<rect x="1098.79" y="1035.30" width="30.39" height="32.05" fill="#6190c2"/>
<rect x="1098.79" y="1067.35" width="30.39" height="32.05" fill="#6e9dc9"/>
<rect x="1098.79" y="1105.40" width="30.39" height="32.05" fill="#6e9dc9"/>
<rect x="1098.79" y="1137.45" width="30.39" height="32.05" fill="#6e9dc9"/>
<rect x="1098.79" y="1169.50" width="30.39" height="32.05" fill="#5787bd"/>
<rect x="1098.79" y="1207.55" width="30.39" height="32.05" fill="#7cabd0"/>
<rect x="1098.79" y="1239.60" width="30.39" height="32.05" fill="#6e9dc9"/>
<rect x="1098.79" y="1277.65" width="30.39" height="32.05" fill="#4575b4"/>
<rect x="1098.79" y="1309.70" width="30.39" height="32.05" fill="#8fbdda"/>
<rect x="1098.79" y="1341.75" width="30.39" height="32.05" fill="#8fbdda"/>
<rect x="1138.18" y="1.80" width="30.39" height="32.05" fill="#6e9dc9"/>
<rect x="1138.18" y="33.85" width="30.39" height="32.05" fill="#7cabd0"/>
<rect x="1138.18" y="71.90" width="30.39" height="32.05" fill="#4575b4"/>
<rect x="1138.18" y="103.95" width="30.39" height="32.05" fill="#e6f5ee"/>
<rect x="1138.18" y="136.00" width="30.39" height="32.05" fill="#4575b4"/>
<rect x="1138.18" y="168.05" width="30.39" height="32.05" fill="#8fbdda"/>
<rect x="1138.18" y="206.10" width="30.39" height="32.05" fill="#4575b4"/>
<rect x="1138.18" y="238.15" width="30.39" height="32.05" fill="#7cabd0"/>
<rect x="1138.18" y="276.20" width="30.39" height="32.05" fill="#4575b4"/>
<rect x="1138.18" y="308.25" width="30.39" height="32.05" fill="#4575b4"/>
<rect x="1138.18" y="346.30" width="30.39" height="32.05" fill="#4575b4"/>
<rect x="1138.18" y="378.35" width="30.39" height="32.05" fill="#4e7eb9"/>
<rect x="1138.18" y="410.40" width="30.39" height="32.05" fill="#4e7eb9"/>
<rect x="1138.18" y="448.45" width="30.39" height="32.05" fill="#6190c2"/>
<rect x="1138.18" y="480.50" width="30.39" height="32.05" fill="#4575b4"/>
<rect x="1138.18" y="518.55" width="30.39" height="32.05" fill="#4575b4"/>
<rect x="1138.18" y="550.60" width="30.39" height="32.05" fill="#dddddd"/>
<rect x="1138.18" y="582.65" width="30.39" height="32.05" fill="#4575b4"/>
<rect x="1138.18" y="620.70" width="30.39" height="32.05" fill="#4e7eb9"/>
<rect x="1138.18" y="652.75" width="30.39" height="32.05" fill="#4575b4"/>
<rect x="1138.18" y="684.80" width="30.39" height="32.05" fill="#badaea"/>
<rect x="1138.18" y="722.85" width="30.39" height="32.05" fill="#6e9dc9"/>
<rect x="1138.18" y="754.90" width="30.39" height="32.05" fill="#7cabd0"/>
<rect x="1138.18" y="792.95" width="30.39" height="32.05" fill="#4575b4"/>
<rect x="1138.18" y="825.00" width="30.39" height="32.05" fill="#4575b4"/>
<rect x="1138.18" y="857.05" width="30.39" height="32.05" fill="#4575b4"/>
<rect x="1138.18" y="895.10" width="30.39" height="32.05" fill="#4575b4"/>
<rect x="1138.18" y="927.15" width="30.39" height="32.05" fill="#dddddd"/>
<rect x="1138.18" y="965.20" width="30.39" height="32.05" fill="#4575b4"/>
<rect x="1138.18" y="997.25" width="30.39" height="32.05" fill="#4575b4"/>
<rect x="1138.18" y="1035.30" width="30.39" height="32.05" fill="#4575b4"/>
<rect x="1138.18" y="1067.35" width="30.39" height="32.05" fill="#4575b4"/>
<rect x="1138.18" y="1105.40" width="30.39" height="32.05" fill="#4575b4"/>
<rect x="1138.18" y="1137.45" width="30.39" height="32.05" fill="#4575b4"/>
<rect x="1138.18" y="1169.50" width="30.39" height="32.05" fill="#cde6f1"/>
<rect x="1138.18" y="1207.55" width="30.39" height="32.05" fill="#4575b4"/>
<rect x="1138.18" y="1239.60" width="30.39" height="32.05" fill="#7cabd0"/>
<rect x="1138.18" y="1277.65" width="30.39" height="32.05" fill="#6190c2"/>
<rect x="1138.18" y="1309.70" width="30.39" height="32.05" fill="#6190c2"/>
<rect x="1138.18" y="1341.75" width="30.39" height="32.05" fill="#e6f5ee"/>
<rect x="1168.57" y="1.80" width="30.39" height="32.05" fill="#4575b4"/>
<rect x="1168.57" y="33.85" width="30.39" height="32.05" fill="#4575b4"/>
<rect x="1168.57" y="71.90" width="30.39" height="32.05" fill="#4575b4"/>
<rect x="1168.57" y="103.95" width="30.39" height="32.05" fill="#feeda4"/>
<rect x="1168.57" y="136.00" width="30.39" height="32.05" fill="#7cabd0"/>
<rect x="1168.57" y="168.05" width="30.39" height="32.05" fill="#7cabd0"/>
<rect x="1168.57" y="206.10" width="30.39" height="32.05" fill="#4575b4"/>
<rect x="1168.57" y="238.15" width="30.39" height="32.05" fill="#7cabd0"/>
<rect x="1168.57" y="276.20" width="30.39" height="32.05" fill="#4575b4"/>
<rect x="1168.57" y="308.25" width="30.39" height="32.05" fill="#4575b4"/>
<rect x="1168.57" y="346.30" width="30.39" height="32.05" fill="#4575b4"/>
<rect x="1168.57" y="378.35" width="30.39" height="32.05" fill="#4575b4"/>
<rect x="1168.57" y="410.40" width="30.39" height="32.05" fill="#7cabd0"/>
<rect x="1168.57" y="448.45" width="30.39" height="32.05" fill="#4575b4"/>
<rect x="1168.57" y="480.50" width="30.39" height="32.05" fill="#4575b4"/>
<rect x="1168.57" y="518.55" width="30.39" height="32.05" fill="#4575b4"/>
<rect x="1168.57" y="550.60" width="30.39" height="32.05" fill="#dddddd"/>
<rect x="1168.57" y="582.65" width="30.39" height="32.05" fill="#4575b4"/>
<rect x="1168.57" y="620.70" width="30.39" height="32.05" fill="#4575b4"/>
<rect x="1168.57" y="652.75" width="30.39" height="32.05" fill="#4575b4"/>
<rect x="1168.57" y="684.80" width="30.39" height="32.05" fill="#7cabd0"/>
<rect x="1168.57" y="722.85" width="30.39" height="32.05" fill="#7cabd0"/>
<rect x="1168.57" y="754.90" width="30.39" height="32.05" fill="#badaea"/>
<rect x="1168.57" y="792.95" width="30.39" height="32.05" fill="#4575b4"/>
<rect x="1168.57" y="825.00" width="30.39" height="32.05" fill="#4575b4"/>
<rect x="1168.57" y="857.05" width="30.39" height="32.05" fill="#4575b4"/>
<rect x="1168.57" y="895.10" width="30.39" height="32.05" fill="#4575b4"/>
<rect x="1168.57" y="927.15" width="30.39" height="32.05" fill="#dddddd"/>
<rect x="1168.57" y="965.20" width="30.39" height="32.05" fill="#4575b4"/>
<rect x="1168.57" y="997.25" width="30.39" height="32.05" fill="#4575b4"/>
<rect x="1168.57" y="1035.30" width="30.39" height="32.05" fill="#4575b4"/>
<rect x="1168.57" y="1067.35" width="30.39" height="32.05" fill="#4575b4"/>
<rect x="1168.57" y="1105.40" width="30.39" height="32.05" fill="#4575b4"/>
<rect x="1168.57" y="1137.45" width="30.39" height="32.05" fill="#4575b4"/>
<rect x="1168.57" y="1169.50" width="30.39" height="32.05" fill="#feeda4"/>
<rect x="1168.57" y="1207.55" width="30.39" height="32.05" fill="#4575b4"/>
<rect x="1168.57" y="1239.60" width="30.39" height="32.05" fill="#4575b4"/>
<rect x="1168.57" y="1277.65" width="30.39" height="32.05" fill="#4575b4"/>
<rect x="1168.57" y="1309.70" width="30.39" height="32.05" fill="#4575b4"/>
<rect x="1168.57" y="1341.75" width="30.39" height="32.05" fill="#7cabd0"/>
<rect x="1198.96" y="1.80" width="30.39" height="32.05" fill="#4575b4"/>
<rect x="1198.96" y="33.85" width="30.39" height="32.05" fill="#4575b4"/>
<rect x="1198.96" y="71.90" width="30.39" height="32.05" fill="#4575b4"/>
<rect x="1198.96" y="103.95" width="30.39" height="32.05" fill="#badaea"/>
<rect x="1198.96" y="136.00" width="30.39" height="32.05" fill="#4575b4"/>
<rect x="1198.96" y="168.05" width="30.39" height="32.05" fill="#f5fbd2"/>
<rect x="1198.96" y="206.10" width="30.39" height="32.05" fill="#7cabd0"/>
<rect x="1198.96" y="238.15" width="30.39" height="32.05" fill="#4575b4"/>
<rect x="1198.96" y="276.20" width="30.39" height="32.05" fill="#4575b4"/>
<rect x="1198.96" y="308.25" width="30.39" height="32.05" fill="#4575b4"/>
<rect x="1198.96" y="346.30" width="30.39" height="32.05" fill="#4575b4"/>
<rect x="1198.96" y="378.35" width="30.39" height="32.05" fill="#4575b4"/>
<rect x="1198.96" y="410.40" width="30.39" height="32.05" fill="#4575b4"/>
<rect x="1198.96" y="448.45" width="30.39" height="32.05" fill="#7cabd0"/>
<rect x="1198.96" y="480.50" width="30.39" height="32.05" fill="#4575b4"/>
<rect x="1198.96" y="518.55" width="30.39" height="32.05" fill="#4575b4"/>
<rect x="1198.96" y="550.60" width="30.39" height="32.05" fill="#dddddd"/>
<rect x="1198.96" y="582.65" width="30.39" height="32.05" fill="#4575b4"/>
<rect x="1198.96" y="620.70" width="30.39" height="32.05" fill="#badaea"/>
<rect x="1198.96" y="652.75" width="30.39" height="32.05" fill="#4575b4"/>
<rect x="1198.96" y="684.80" width="30.39" height="32.05" fill="#edf8e0"/>
<rect x="1198.96" y="722.85" width="30.39" height="32.05" fill="#7cabd0"/>
<rect x="1198.96" y="754.90" width="30.39" height="32.05" fill="#4575b4"/>
<rect x="1198.96" y="792.95" width="30.39" height="32.05" fill="#4575b4"/>
<rect x="1198.96" y="825.00" width="30.39" height="32.05" fill="#4575b4"/>
<rect x="1198.96" y="857.05" width="30.39" height="32.05" fill="#4575b4"/>
<rect x="1198.96" y="895.10" width="30.39" height="32.05" fill="#4575b4"/>
<rect x="1198.96" y="927.15" width="30.39" height="32.05" fill="#dddddd"/>
<rect x="1198.96" y="965.20" width="30.39" height="32.05" fill="#4575b4"/>
<rect x="1198.96" y="997.25" width="30.39" height="32.05" fill="#4575b4"/>
<rect x="1198.96" y="1035.30" width="30.39" height="32.05" fill="#4575b4"/>
<rect x="1198.96" y="1067.35" width="30.39" height="32.05" fill="#8fbdda"/>
<rect x="1198.96" y="1105.40" width="30.39" height="32.05" fill="#4575b4"/>
<rect x="1198.96" y="1137.45" width="30.39" height="32.05" fill="#4575b4"/>
<rect x="1198.96" y="1169.50" width="30.39" height="32.05" fill="#badaea"/>
<rect x="1198.96" y="1207.55" width="30.39" height="32.05" fill="#4575b4"/>
<rect x="1198.96" y="1239.60" width="30.39" height="32.05" fill="#4575b4"/>
<rect x="1198.96" y="1277.65" width="30.39" height="32.05" fill="#4575b4"/>
<rect x="1198.96" y="1309.70" width="30.39" height="32.05" fill="#4575b4"/>
<rect x="1198.96" y="1341.75" width="30.39" height="32.05" fill="#7cabd0"/>
<rect x="1229.35" y="1.80" width="30.39" height="32.05" fill="#4575b4"/>
<rect x="1229.35" y="33.85" width="30.39" height="32.05" fill="#8fbdda"/>
<rect x="1229.35" y="71.90" width="30.39" height="32.05" fill="#4575b4"/>
<rect x="1229.35" y="103.95" width="30.39" height="32.05" fill="#fdc77f"/>
<rect x="1229.35" y="136.00" width="30.39" height="32.05" fill="#4575b4"/>
<rect x="1229.35" y="168.05" width="30.39" height="32.05" fill="#4575b4"/>
<rect x="1229.35" y="206.10" width="30.39" height="32.05" fill="#4575b4"/>
<rect x="1229.35" y="238.15" width="30.39" height="32.05" fill="#4575b4"/>
<rect x="1229.35" y="276.20" width="30.39" height="32.05" fill="#4575b4"/>
<rect x="1229.35" y="308.25" width="30.39" height="32.05" fill="#4575b4"/>
<rect x="1229.35" y="346.30" width="30.39" height="32.05" fill="#4575b4"/>
<rect x="1229.35" y="378.35" width="30.39" height="32.05" fill="#4575b4"/>
<rect x="1229.35" y="410.40" width="30.39" height="32.05" fill="#4575b4"/>
<rect x="1229.35" y="448.45" width="30.39" height="32.05" fill="#4575b4"/>
<rect x="1229.35" y="480.50" width="30.39" height="32.05" fill="#4575b4"/>
<rect x="1229.35" y="518.55" width="30.39" height="32.05" fill="#4575b4"/>
<rect x="1229.35" y="550.60" width="30.39" height="32.05" fill="#dddddd"/>
<rect x="1229.35" y="582.65" width="30.39" height="32.05" fill="#4575b4"/>
<rect x="1229.35" y="620.70" width="30.39" height="32.05" fill="#7cabd0"/>
<rect x="1229.35" y="652.75" width="30.39" height="32.05" fill="#4575b4"/>
<rect x="1229.35" y="684.80" width="30.39" height="32.05" fill="#fdc77f"/>
<rect x="1229.35" y="722.85" width="30.39" height="32.05" fill="#4575b4"/>
<rect x="1229.35" y="754.90" width="30.39" height="32.05" fill="#7cabd0"/>
<rect x="1229.35" y="792.95" width="30.39" height="32.05" fill="#4575b4"/>
<rect x="1229.35" y="825.00" width="30.39" height="32.05" fill="#7cabd0"/>
<rect x="1229.35" y="857.05" width="30.39" height="32.05" fill="#7cabd0"/>
<rect x="1229.35" y="895.10" width="30.39" height="32.05" fill="#4575b4"/>
<rect x="1229.35" y="927.15" width="30.39" height="32.05" fill="#dddddd"/>
<rect x="1229.35" y="965.20" width="30.39" height="32.05" fill="#4575b4"/>
<rect x="1229.35" y="997.25" width="30.39" height="32.05" fill="#4575b4"/>
<rect x="1229.35" y="1035.30" width="30.39" height="32.05" fill="#7cabd0"/>
<rect x="1229.35" y="1067.35" width="30.39" height="32.05" fill="#4575b4"/>
<rect x="1229.35" y="1105.40" width="30.39" height="32.05" fill="#4575b4"/>
<rect x="1229.35" y="1137.45" width="30.39" height="32.05" fill="#4575b4"/>
<rect x="1229.35" y="1169.50" width="30.39" height="32.05" fill="#badaea"/>
<rect x="1229.35" y="1207.55" width="30.39" height="32.05" fill="#4575b4"/>
<rect x="1229.35" y="1239.60" width="30.39" height="32.05" fill="#4575b4"/>
<rect x="1229.35" y="1277.65" width="30.39" height="32.05" fill="#4575b4"/>
<rect x="1229.35" y="1309.70" width="30.39" height="32.05" fill="#4575b4"/>
<rect x="1229.35" y="1341.75" width="30.39" height="32.05" fill="#badaea"/>
<rect x="1259.74" y="1.80" width="30.39" height="32.05" fill="#6e9dc9"/>
<rect x="1259.74" y="33.85" width="30.39" height="32.05" fill="#7cabd0"/>
<rect x="1259.74" y="71.90" width="30.39" height="32.05" fill="#4575b4"/>
<rect x="1259.74" y="103.95" width="30.39" height="32.05" fill="#fffebe"/>
<rect x="1259.74" y="136.00" width="30.39" height="32.05" fill="#4575b4"/>
<rect x="1259.74" y="168.05" width="30.39" height="32.05" fill="#6190c2"/>
<rect x="1259.74" y="206.10" width="30.39" height="32.05" fill="#7cabd0"/>
<rect x="1259.74" y="238.15" width="30.39" height="32.05" fill="#7cabd0"/>
<rect x="1259.74" y="276.20" width="30.39" height="32.05" fill="#5787bd"/>
<rect x="1259.74" y="308.25" width="30.39" height="32.05" fill="#4575b4"/>
<rect x="1259.74" y="346.30" width="30.39" height="32.05" fill="#4575b4"/>
<rect x="1259.74" y="378.35" width="30.39" height="32.05" fill="#4575b4"/>
<rect x="1259.74" y="410.40" width="30.39" height="32.05" fill="#4e7eb9"/>
<rect x="1259.74" y="448.45" width="30.39" height="32.05" fill="#4e7eb9"/>
<rect x="1259.74" y="480.50" width="30.39" height="32.05" fill="#4575b4"/>
<rect x="1259.74" y="518.55" width="30.39" height="32.05" fill="#4575b4"/>
<rect x="1259.74" y="550.60" width="30.39" height="32.05" fill="#dddddd"/>
<rect x="1259.74" y="582.65" width="30.39" height="32.05" fill="#4575b4"/>
<rect x="1259.74" y="620.70" width="30.39" height="32.05" fill="#4e7eb9"/>
<rect x="1259.74" y="652.75" width="30.39" height="32.05" fill="#4575b4"/>
<rect x="1259.74" y="684.80" width="30.39" height="32.05" fill="#fedb8d"/>
<rect x="1259.74" y="722.85" width="30.39" height="32.05" fill="#8fbdda"/>
<rect x="1259.74" y="754.90" width="30.39" height="32.05" fill="#7cabd0"/>
<rect x="1259.74" y="792.95" width="30.39" height="32.05" fill="#4e7eb9"/>
<rect x="1259.74" y="825.00" width="30.39" height="32.05" fill="#7cabd0"/>
<rect x="1259.74" y="857.05" width="30.39" height="32.05" fill="#4575b4"/>
<rect x="1259.74" y="895.10" width="30.39" height="32.05" fill="#4e7eb9"/>
<rect x="1259.74" y="927.15" width="30.39" height="32.05" fill="#dddddd"/>
<rect x="1259.74" y="965.20" width="30.39" height="32.05" fill="#4575b4"/>
<rect x="1259.74" y="997.25" width="30.39" height="32.05" fill="#4575b4"/>
<rect x="1259.74" y="1035.30" width="30.39" height="32.05" fill="#4575b4"/>
<rect x="1259.74" y="1067.35" width="30.39" height="32.05" fill="#4575b4"/>
<rect x="1259.74" y="1105.40" width="30.39" height="32.05" fill="#4575b4"/>
<rect x="1259.74" y="1137.45" width="30.39" height="32.05" fill="#4575b4"/>
<rect x="1259.74" y="1169.50" width="30.39" height="32.05" fill="#cde6f1"/>
<rect x="1259.74" y="1207.55" width="30.39" height="32.05" fill="#4575b4"/>
<rect x="1259.74" y="1239.60" width="30.39" height="32.05" fill="#6190c2"/>
<rect x="1259.74" y="1277.65" width="30.39" height="32.05" fill="#8fbdda"/>
<rect x="1259.74" y="1309.70" width="30.39" height="32.05" fill="#4e7eb9"/>
<rect x="1259.74" y="1341.75" width="30.39" height="32.05" fill="#edf8e0"/>
<rect x="1290.13" y="1.80" width="30.39" height="32.05" fill="#a2cae1"/>
<rect x="1290.13" y="33.85" width="30.39" height="32.05" fill="#4575b4"/>
<rect x="1290.13" y="71.90" width="30.39" height="32.05" fill="#4575b4"/>
<rect x="1290.13" y="103.95" width="30.39" height="32.05" fill="#dddddd"/>
<rect x="1290.13" y="136.00" width="30.39" height="32.05" fill="#4575b4"/>
<rect x="1290.13" y="168.05" width="30.39" height="32.05" fill="#4575b4"/>
<rect x="1290.13" y="206.10" width="30.39" height="32.05" fill="#6190c2"/>
<rect x="1290.13" y="238.15" width="30.39" height="32.05" fill="#6e9dc9"/>
<rect x="1290.13" y="276.20" width="30.39" height="32.05" fill="#4575b4"/>
<rect x="1290.13" y="308.25" width="30.39" height="32.05" fill="#4575b4"/>
<rect x="1290.13" y="346.30" width="30.39" height="32.05" fill="#4575b4"/>
<rect x="1290.13" y="378.35" width="30.39" height="32.05" fill="#7cabd0"/>
<rect x="1290.13" y="410.40" width="30.39" height="32.05" fill="#6190c2"/>
<rect x="1290.13" y="448.45" width="30.39" height="32.05" fill="#4575b4"/>
<rect x="1290.13" y="480.50" width="30.39" height="32.05" fill="#4575b4"/>
<rect x="1290.13" y="518.55" width="30.39" height="32.05" fill="#4575b4"/>
<rect x="1290.13" y="550.60" width="30.39" height="32.05" fill="#dddddd"/>
<rect x="1290.13" y="582.65" width="30.39" height="32.05" fill="#4575b4"/>
<rect x="1290.13" y="620.70" width="30.39" height="32.05" fill="#4575b4"/>
<rect x="1290.13" y="652.75" width="30.39" height="32.05" fill="#4575b4"/>
<rect x="1290.13" y="684.80" width="30.39" height="32.05" fill="#edf8e0"/>
<rect x="1290.13" y="722.85" width="30.39" height="32.05" fill="#8fbdda"/>
<rect x="1290.13" y="754.90" width="30.39" height="32.05" fill="#badaea"/>
<rect x="1290.13" y="792.95" width="30.39" height="32.05" fill="#4575b4"/>
<rect x="1290.13" y="825.00" width="30.39" height="32.05" fill="#badaea"/>
<rect x="1290.13" y="857.05" width="30.39" height="32.05" fill="#8fbdda"/>
<rect x="1290.13" y="895.10" width="30.39" height="32.05" fill="#4575b4"/>
<rect x="1290.13" y="927.15" width="30.39" height="32.05" fill="#dddddd"/>
<rect x="1290.13" y="965.20" width="30.39" height="32.05" fill="#4575b4"/>
<rect x="1290.13" y="997.25" width="30.39" height="32.05" fill="#4575b4"/>
<rect x="1290.13" y="1035.30" width="30.39" height="32.05" fill="#4575b4"/>
<rect x="1290.13" y="1067.35" width="30.39" height="32.05" fill="#4575b4"/>
<rect x="1290.13" y="1105.40" width="30.39" height="32.05" fill="#4575b4"/>
<rect x="1290.13" y="1137.45" width="30.39" height="32.05" fill="#4575b4"/>
<rect x="1290.13" y="1169.50" width="30.39" height="32.05" fill="#e0f3f8"/>
<rect x="1290.13" y="1207.55" width="30.39" height="32.05" fill="#4575b4"/>
<rect x="1290.13" y="1239.60" width="30.39" height="32.05" fill="#6190c2"/>
<rect x="1290.13" y="1277.65" width="30.39" height="32.05" fill="#a2cae1"/>
<rect x="1290.13" y="1309.70" width="30.39" height="32.05" fill="#4575b4"/>
<rect x="1290.13" y="1341.75" width="30.39" height="32.05" fill="#7cabd0"/>
<rect x="1320.52" y="1.80" width="30.39" height="32.05" fill="#8fbdda"/>
<rect x="1320.52" y="33.85" width="30.39" height="32.05" fill="#6190c2"/>
<rect x="1320.52" y="71.90" width="30.39" height="32.05" fill="#6e9dc9"/>
<rect x="1320.52" y="103.95" width="30.39" height="32.05" fill="#8fbdda"/>
<rect x="1320.52" y="136.00" width="30.39" height="32.05" fill="#5787bd"/>
<rect x="1320.52" y="168.05" width="30.39" height="32.05" fill="#6190c2"/>
<rect x="1320.52" y="206.10" width="30.39" height="32.05" fill="#4e7eb9"/>
<rect x="1320.52" y="238.15" width="30.39" height="32.05" fill="#7cabd0"/>
<rect x="1320.52" y="276.20" width="30.39" height="32.05" fill="#5787bd"/>
<rect x="1320.52" y="308.25" width="30.39" height="32.05" fill="#4575b4"/>
<rect x="1320.52" y="346.30" width="30.39" height="32.05" fill="#4575b4"/>
<rect x="1320.52" y="378.35" width="30.39" height="32.05" fill="#4575b4"/>
<rect x="1320.52" y="410.40" width="30.39" height="32.05" fill="#4e7eb9"/>
<rect x="1320.52" y="448.45" width="30.39" height="32.05" fill="#5787bd"/>
<rect x="1320.52" y="480.50" width="30.39" height="32.05" fill="#4e7eb9"/>
<rect x="1320.52" y="518.55" width="30.39" height="32.05" fill="#4575b4"/>
<rect x="1320.52" y="550.60" width="30.39" height="32.05" fill="#dddddd"/>
<rect x="1320.52" y="582.65" width="30.39" height="32.05" fill="#4575b4"/>
<rect x="1320.52" y="620.70" width="30.39" height="32.05" fill="#5787bd"/>
<rect x="1320.52" y="652.75" width="30.39" height="32.05" fill="#4575b4"/>
<rect x="1320.52" y="684.80" width="30.39" height="32.05" fill="#6190c2"/>
<rect x="1320.52" y="722.85" width="30.39" height="32.05" fill="#7cabd0"/>
<rect x="1320.52" y="754.90" width="30.39" height="32.05" fill="#7cabd0"/>
<rect x="1320.52" y="792.95" width="30.39" height="32.05" fill="#4575b4"/>
<rect x="1320.52" y="825.00" width="30.39" height="32.05" fill="#4e7eb9"/>
<rect x="1320.52" y="857.05" width="30.39" height="32.05" fill="#4575b4"/>
<rect x="1320.52" y="895.10" width="30.39" height="32.05" fill="#4575b4"/>
<rect x="1320.52" y="927.15" width="30.39" height="32.05" fill="#dddddd"/>
<rect x="1320.52" y="965.20" width="30.39" height="32.05" fill="#4575b4"/>
<rect x="1320.52" y="997.25" width="30.39" height="32.05" fill="#6190c2"/>
<rect x="1320.52" y="1035.30" width="30.39" height="32.05" fill="#4e7eb9"/>
<rect x="1320.52" y="1067.35" width="30.39" height="32.05" fill="#4575b4"/>
<rect x="1320.52" y="1105.40" width="30.39" height="32.05" fill="#4575b4"/>
<rect x="1320.52" y="1137.45" width="30.39" height="32.05" fill="#4575b4"/>
<rect x="1320.52" y="1169.50" width="30.39" height="32.05" fill="#badaea"/>
<rect x="1320.52" y="1207.55" width="30.39" height="32.05" fill="#4575b4"/>
<rect x="1320.52" y="1239.60" width="30.39" height="32.05" fill="#6e9dc9"/>
<rect x="1320.52" y="1277.65" width="30.39" height="32.05" fill="#4575b4"/>
<rect x="1320.52" y="1309.70" width="30.39" height="32.05" fill="#4e7eb9"/>
<rect x="1320.52" y="1341.75" width="30.39" height="32.05" fill="#7cabd0"/>
<rect x="1350.91" y="1.80" width="30.39" height="32.05" fill="#7cabd0"/>
<rect x="1350.91" y="33.85" width="30.39" height="32.05" fill="#6e9dc9"/>
<rect x="1350.91" y="71.90" width="30.39" height="32.05" fill="#4575b4"/>
<rect x="1350.91" y="103.95" width="30.39" height="32.05" fill="#dddddd"/>
<rect x="1350.91" y="136.00" width="30.39" height="32.05" fill="#4575b4"/>
<rect x="1350.91" y="168.05" width="30.39" height="32.05" fill="#4575b4"/>
<rect x="1350.91" y="206.10" width="30.39" height="32.05" fill="#5787bd"/>
<rect x="1350.91" y="238.15" width="30.39" height="32.05" fill="#6e9dc9"/>
<rect x="1350.91" y="276.20" width="30.39" height="32.05" fill="#4575b4"/>
<rect x="1350.91" y="308.25" width="30.39" height="32.05" fill="#4575b4"/>
<rect x="1350.91" y="346.30" width="30.39" height="32.05" fill="#4575b4"/>
<rect x="1350.91" y="378.35" width="30.39" height="32.05" fill="#5787bd"/>
<rect x="1350.91" y="410.40" width="30.39" height="32.05" fill="#5787bd"/>
<rect x="1350.91" y="448.45" width="30.39" height="32.05" fill="#6190c2"/>
<rect x="1350.91" y="480.50" width="30.39" height="32.05" fill="#4e7eb9"/>
<rect x="1350.91" y="518.55" width="30.39" height="32.05" fill="#4575b4"/>
<rect x="1350.91" y="550.60" width="30.39" height="32.05" fill="#dddddd"/>
<rect x="1350.91" y="582.65" width="30.39" height="32.05" fill="#4575b4"/>
<rect x="1350.91" y="620.70" width="30.39" height="32.05" fill="#6190c2"/>
<rect x="1350.91" y="652.75" width="30.39" height="32.05" fill="#4e7eb9"/>
<rect x="1350.91" y="684.80" width="30.39" height="32.05" fill="#e6f5ee"/>
<rect x="1350.91" y="722.85" width="30.39" height="32.05" fill="#8fbdda"/>
<rect x="1350.91" y="754.90" width="30.39" height="32.05" fill="#e0f3f8"/>
<rect x="1350.91" y="792.95" width="30.39" height="32.05" fill="#4575b4"/>
<rect x="1350.91" y="825.00" width="30.39" height="32.05" fill="#7cabd0"/>
<rect x="1350.91" y="857.05" width="30.39" height="32.05" fill="#8fbdda"/>
<rect x="1350.91" y="895.10" width="30.39" height="32.05" fill="#4575b4"/>
<rect x="1350.91" y="927.15" width="30.39" height="32.05" fill="#dddddd"/>
<rect x="1350.91" y="965.20" width="30.39" height="32.05" fill="#4575b4"/>
<rect x="1350.91" y="997.25" width="30.39" height="32.05" fill="#5787bd"/>
<rect x="1350.91" y="1035.30" width="30.39" height="32.05" fill="#4575b4"/>
<rect x="1350.91" y="1067.35" width="30.39" height="32.05" fill="#4e7eb9"/>
<rect x="1350.91" y="1105.40" width="30.39" height="32.05" fill="#4575b4"/>
<rect x="1350.91" y="1137.45" width="30.39" height="32.05" fill="#4575b4"/>
<rect x="1350.91" y="1169.50" width="30.39" height="32.05" fill="#fffebe"/>
<rect x="1350.91" y="1207.55" width="30.39" height="32.05" fill="#4575b4"/>
<rect x="1350.91" y="1239.60" width="30.39" height="32.05" fill="#badaea"/>
<rect x="1350.91" y="1277.65" width="30.39" height="32.05" fill="#6190c2"/>
<rect x="1350.91" y="1309.70" width="30.39" height="32.05" fill="#4e7eb9"/>
<rect x="1350.91" y="1341.75" width="30.39" height="32.05" fill="#7cabd0"/>
<rect x="1381.30" y="1.80" width="30.39" height="32.05" fill="#8fbdda"/>
<rect x="1381.30" y="33.85" width="30.39" height="32.05" fill="#6e9dc9"/>
<rect x="1381.30" y="71.90" width="30.39" height="32.05" fill="#4575b4"/>
<rect x="1381.30" y="103.95" width="30.39" height="32.05" fill="#badaea"/>
<rect x="1381.30" y="136.00" width="30.39" height="32.05" fill="#6e9dc9"/>
<rect x="1381.30" y="168.05" width="30.39" height="32.05" fill="#e6f5ee"/>
<rect x="1381.30" y="206.10" width="30.39" height="32.05" fill="#6e9dc9"/>
<rect x="1381.30" y="238.15" width="30.39" height="32.05" fill="#6e9dc9"/>
<rect x="1381.30" y="276.20" width="30.39" height="32.05" fill="#4575b4"/>
<rect x="1381.30" y="308.25" width="30.39" height="32.05" fill="#4575b4"/>
<rect x="1381.30" y="346.30" width="30.39" height="32.05" fill="#4575b4"/>
<rect x="1381.30" y="378.35" width="30.39" height="32.05" fill="#4575b4"/>
<rect x="1381.30" y="410.40" width="30.39" height="32.05" fill="#8fbdda"/>
<rect x="1381.30" y="448.45" width="30.39" height="32.05" fill="#6e9dc9"/>
<rect x="1381.30" y="480.50" width="30.39" height="32.05" fill="#4575b4"/>
<rect x="1381.30" y="518.55" width="30.39" height="32.05" fill="#4575b4"/>
<rect x="1381.30" y="550.60" width="30.39" height="32.05" fill="#dddddd"/>
<rect x="1381.30" y="582.65" width="30.39" height="32.05" fill="#4575b4"/>
<rect x="1381.30" y="620.70" width="30.39" height="32.05" fill="#8fbdda"/>
<rect x="1381.30" y="652.75" width="30.39" height="32.05" fill="#4575b4"/>
<rect x="1381.30" y="684.80" width="30.39" height="32.05" fill="#4575b4"/>
<rect x="1381.30" y="722.85" width="30.39" height="32.05" fill="#4575b4"/>
<rect x="1381.30" y="754.90" width="30.39" height="32.05" fill="#4575b4"/>
<rect x="1381.30" y="792.95" width="30.39" height="32.05" fill="#4575b4"/>
<rect x="1381.30" y="825.00" width="30.39" height="32.05" fill="#4575b4"/>
<rect x="1381.30" y="857.05" width="30.39" height="32.05" fill="#4575b4"/>
<rect x="1381.30" y="895.10" width="30.39" height="32.05" fill="#4575b4"/>
<rect x="1381.30" y="927.15" width="30.39" height="32.05" fill="#dddddd"/>
<rect x="1381.30" y="965.20" width="30.39" height="32.05" fill="#4575b4"/>
<rect x="1381.30" y="997.25" width="30.39" height="32.05" fill="#4575b4"/>
<rect x="1381.30" y="1035.30" width="30.39" height="32.05" fill="#4575b4"/>
<rect x="1381.30" y="1067.35" width="30.39" height="32.05" fill="#6e9dc9"/>
<rect x="1381.30" y="1105.40" width="30.39" height="32.05" fill="#4575b4"/>
<rect x="1381.30" y="1137.45" width="30.39" height="32.05" fill="#4575b4"/>
<rect x="1381.30" y="1169.50" width="30.39" height="32.05" fill="#8fbdda"/>
<rect x="1381.30" y="1207.55" width="30.39" height="32.05" fill="#4575b4"/>
<rect x="1381.30" y="1239.60" width="30.39" height="32.05" fill="#8fbdda"/>
<rect x="1381.30" y="1277.65" width="30.39" height="32.05" fill="#4575b4"/>
<rect x="1381.30" y="1309.70" width="30.39" height="32.05" fill="#4575b4"/>
<rect x="1381.30" y="1341.75" width="30.39" height="32.05" fill="#6e9dc9"/>
<rect x="1411.69" y="1.80" width="30.39" height="32.05" fill="#4575b4"/>
<rect x="1411.69" y="33.85" width="30.39" height="32.05" fill="#badaea"/>
<rect x="1411.69" y="71.90" width="30.39" height="32.05" fill="#4575b4"/>
<rect x="1411.69" y="103.95" width="30.39" height="32.05" fill="#dddddd"/>
<rect x="1411.69" y="136.00" width="30.39" height="32.05" fill="#4575b4"/>
<rect x="1411.69" y="168.05" width="30.39" height="32.05" fill="#7cabd0"/>
<rect x="1411.69" y="206.10" width="30.39" height="32.05" fill="#4575b4"/>
<rect x="1411.69" y="238.15" width="30.39" height="32.05" fill="#4575b4"/>
<rect x="1411.69" y="276.20" width="30.39" height="32.05" fill="#4575b4"/>
<rect x="1411.69" y="308.25" width="30.39" height="32.05" fill="#4575b4"/>
<rect x="1411.69" y="346.30" width="30.39" height="32.05" fill="#4575b4"/>
<rect x="1411.69" y="378.35" width="30.39" height="32.05" fill="#4575b4"/>
<rect x="1411.69" y="410.40" width="30.39" height="32.05" fill="#4575b4"/>
<rect x="1411.69" y="448.45" width="30.39" height="32.05" fill="#4575b4"/>
<rect x="1411.69" y="480.50" width="30.39" height="32.05" fill="#4575b4"/>
<rect x="1411.69" y="518.55" width="30.39" height="32.05" fill="#4575b4"/>
<rect x="1411.69" y="550.60" width="30.39" height="32.05" fill="#dddddd"/>
<rect x="1411.69" y="582.65" width="30.39" height="32.05" fill="#4575b4"/>
<rect x="1411.69" y="620.70" width="30.39" height="32.05" fill="#4575b4"/>
<rect x="1411.69" y="652.75" width="30.39" height="32.05" fill="#4575b4"/>
<rect x="1411.69" y="684.80" width="30.39" height="32.05" fill="#4575b4"/>
<rect x="1411.69" y="722.85" width="30.39" height="32.05" fill="#4575b4"/>
<rect x="1411.69" y="754.90" width="30.39" height="32.05" fill="#feeda4"/>
<rect x="1411.69" y="792.95" width="30.39" height="32.05" fill="#4575b4"/>
<rect x="1411.69" y="825.00" width="30.39" height="32.05" fill="#badaea"/>
<rect x="1411.69" y="857.05" width="30.39" height="32.05" fill="#4575b4"/>
<rect x="1411.69" y="895.10" width="30.39" height="32.05" fill="#4575b4"/>
<rect x="1411.69" y="927.15" width="30.39" height="32.05" fill="#dddddd"/>
<rect x="1411.69" y="965.20" width="30.39" height="32.05" fill="#4575b4"/>
<rect x="1411.69" y="997.25" width="30.39" height="32.05" fill="#7cabd0"/>
<rect x="1411.69" y="1035.30" width="30.39" height="32.05" fill="#4575b4"/>
<rect x="1411.69" y="1067.35" width="30.39" height="32.05" fill="#4575b4"/>
<rect x="1411.69" y="1105.40" width="30.39" height="32.05" fill="#4575b4"/>
<rect x="1411.69" y="1137.45" width="30.39" height="32.05" fill="#4575b4"/>
<rect x="1411.69" y="1169.50" width="30.39" height="32.05" fill="#d73027"/>
<rect x="1411.69" y="1207.55" width="30.39" height="32.05" fill="#4575b4"/>
<rect x="1411.69" y="1239.60" width="30.39" height="32.05" fill="#4575b4"/>
<rect x="1411.69" y="1277.65" width="30.39" height="32.05" fill="#feeda4"/>
<rect x="1411.69" y="1309.70" width="30.39" height="32.05" fill="#4575b4"/>
<rect x="1411.69" y="1341.75" width="30.39" height="32.05" fill="#4575b4"/>
<rect x="1451.08" y="1.80" width="30.39" height="32.05" fill="#4575b4"/>
<rect x="1451.08" y="33.85" width="30.39" height="32.05" fill="#4575b4"/>
<rect x="1451.08" y="71.90" width="30.39" height="32.05" fill="#4575b4"/>
<rect x="1451.08" y="103.95" width="30.39" height="32.05" fill="#badaea"/>
<rect x="1451.08" y="136.00" width="30.39" height="32.05" fill="#7cabd0"/>
<rect x="1451.08" y="168.05" width="30.39" height="32.05" fill="#7cabd0"/>
<rect x="1451.08" y="206.10" width="30.39" height="32.05" fill="#4575b4"/>
<rect x="1451.08" y="238.15" width="30.39" height="32.05" fill="#4575b4"/>
<rect x="1451.08" y="276.20" width="30.39" height="32.05" fill="#4575b4"/>
<rect x="1451.08" y="308.25" width="30.39" height="32.05" fill="#4575b4"/>
<rect x="1451.08" y="346.30" width="30.39" height="32.05" fill="#4575b4"/>
<rect x="1451.08" y="378.35" width="30.39" height="32.05" fill="#4575b4"/>
<rect x="1451.08" y="410.40" width="30.39" height="32.05" fill="#7cabd0"/>
<rect x="1451.08" y="448.45" width="30.39" height="32.05" fill="#4575b4"/>
<rect x="1451.08" y="480.50" width="30.39" height="32.05" fill="#4575b4"/>
<rect x="1451.08" y="518.55" width="30.39" height="32.05" fill="#4575b4"/>
<rect x="1451.08" y="550.60" width="30.39" height="32.05" fill="#4575b4"/>
<rect x="1451.08" y="582.65" width="30.39" height="32.05" fill="#7cabd0"/>
<rect x="1451.08" y="620.70" width="30.39" height="32.05" fill="#7cabd0"/>
<rect x="1451.08" y="652.75" width="30.39" height="32.05" fill="#4575b4"/>
<rect x="1451.08" y="684.80" width="30.39" height="32.05" fill="#4575b4"/>
<rect x="1451.08" y="722.85" width="30.39" height="32.05" fill="#4575b4"/>
<rect x="1451.08" y="754.90" width="30.39" height="32.05" fill="#4575b4"/>
<rect x="1451.08" y="792.95" width="30.39" height="32.05" fill="#4575b4"/>
<rect x="1451.08" y="825.00" width="30.39" height="32.05" fill="#7cabd0"/>
<rect x="1451.08" y="857.05" width="30.39" height="32.05" fill="#f5fbd2"/>
<rect x="1451.08" y="895.10" width="30.39" height="32.05" fill="#4575b4"/>
<rect x="1451.08" y="927.15" width="30.39" height="32.05" fill="#dddddd"/>
<rect x="1451.08" y="965.20" width="30.39" height="32.05" fill="#4575b4"/>
<rect x="1451.08" y="997.25" width="30.39" height="32.05" fill="#4575b4"/>
<rect x="1451.08" y="1035.30" width="30.39" height="32.05" fill="#4575b4"/>
<rect x="1451.08" y="1067.35" width="30.39" height="32.05" fill="#4575b4"/>
<rect x="1451.08" y="1105.40" width="30.39" height="32.05" fill="#4575b4"/>
<rect x="1451.08" y="1137.45" width="30.39" height="32.05" fill="#4575b4"/>
<rect x="1451.08" y="1169.50" width="30.39" height="32.05" fill="#4575b4"/>
<rect x="1451.08" y="1207.55" width="30.39" height="32.05" fill="#4575b4"/>
<rect x="1451.08" y="1239.60" width="30.39" height="32.05" fill="#fee699"/>
<rect x="1451.08" y="1277.65" width="30.39" height="32.05" fill="#4575b4"/>
<rect x="1451.08" y="1309.70" width="30.39" height="32.05" fill="#4575b4"/>
<rect x="1451.08" y="1341.75" width="30.39" height="32.05" fill="#7cabd0"/>
<rect x="1481.47" y="1.80" width="30.39" height="32.05" fill="#4575b4"/>
<rect x="1481.47" y="33.85" width="30.39" height="32.05" fill="#8fbdda"/>
<rect x="1481.47" y="71.90" width="30.39" height="32.05" fill="#4575b4"/>
<rect x="1481.47" y="103.95" width="30.39" height="32.05" fill="#6190c2"/>
<rect x="1481.47" y="136.00" width="30.39" height="32.05" fill="#4575b4"/>
<rect x="1481.47" y="168.05" width="30.39" height="32.05" fill="#6e9dc9"/>
<rect x="1481.47" y="206.10" width="30.39" height="32.05" fill="#4575b4"/>
<rect x="1481.47" y="238.15" width="30.39" height="32.05" fill="#6190c2"/>
<rect x="1481.47" y="276.20" width="30.39" height="32.05" fill="#4575b4"/>
<rect x="1481.47" y="308.25" width="30.39" height="32.05" fill="#4575b4"/>
<rect x="1481.47" y="346.30" width="30.39" height="32.05" fill="#4575b4"/>
<rect x="1481.47" y="378.35" width="30.39" height="32.05" fill="#6e9dc9"/>
<rect x="1481.47" y="410.40" width="30.39" height="32.05" fill="#a2cae1"/>
<rect x="1481.47" y="448.45" width="30.39" height="32.05" fill="#6e9dc9"/>
<rect x="1481.47" y="480.50" width="30.39" height="32.05" fill="#4575b4"/>
<rect x="1481.47" y="518.55" width="30.39" height="32.05" fill="#4575b4"/>
<rect x="1481.47" y="550.60" width="30.39" height="32.05" fill="#6190c2"/>
<rect x="1481.47" y="582.65" width="30.39" height="32.05" fill="#4575b4"/>
<rect x="1481.47" y="620.70" width="30.39" height="32.05" fill="#a2cae1"/>
<rect x="1481.47" y="652.75" width="30.39" height="32.05" fill="#4575b4"/>
<rect x="1481.47" y="684.80" width="30.39" height="32.05" fill="#6190c2"/>
<rect x="1481.47" y="722.85" width="30.39" height="32.05" fill="#5787bd"/>
<rect x="1481.47" y="754.90" width="30.39" height="32.05" fill="#5787bd"/>
<rect x="1481.47" y="792.95" width="30.39" height="32.05" fill="#badaea"/>
<rect x="1481.47" y="825.00" width="30.39" height="32.05" fill="#feeda4"/>
<rect x="1481.47" y="857.05" width="30.39" height="32.05" fill="#f5fbd2"/>
<rect x="1481.47" y="895.10" width="30.39" height="32.05" fill="#4575b4"/>
<rect x="1481.47" y="927.15" width="30.39" height="32.05" fill="#dddddd"/>
<rect x="1481.47" y="965.20" width="30.39" height="32.05" fill="#4575b4"/>
<rect x="1481.47" y="997.25" width="30.39" height="32.05" fill="#6e9dc9"/>
<rect x="1481.47" y="1035.30" width="30.39" height="32.05" fill="#6190c2"/>
<rect x="1481.47" y="1067.35" width="30.39" height="32.05" fill="#4575b4"/>
<rect x="1481.47" y="1105.40" width="30.39" height="32.05" fill="#4575b4"/>
<rect x="1481.47" y="1137.45" width="30.39" height="32.05" fill="#4575b4"/>
<rect x="1481.47" y="1169.50" width="30.39" height="32.05" fill="#6190c2"/>
<rect x="1481.47" y="1207.55" width="30.39" height="32.05" fill="#4575b4"/>
<rect x="1481.47" y="1239.60" width="30.39" height="32.05" fill="#fed186"/>
<rect x="1481.47" y="1277.65" width="30.39" height="32.05" fill="#4575b4"/>
<rect x="1481.47" y="1309.70" width="30.39" height="32.05" fill="#5787bd"/>
<rect x="1481.47" y="1341.75" width="30.39" height="32.05" fill="#7cabd0"/>
<rect x="1511.86" y="1.80" width="30.39" height="32.05" fill="#7cabd0"/>
<rect x="1511.86" y="33.85" width="30.39" height="32.05" fill="#8fbdda"/>
<rect x="1511.86" y="71.90" width="30.39" height="32.05" fill="#4575b4"/>
<rect x="1511.86" y="103.95" width="30.39" height="32.05" fill="#a2cae1"/>
<rect x="1511.86" y="136.00" width="30.39" height="32.05" fill="#4575b4"/>
<rect x="1511.86" y="168.05" width="30.39" height="32.05" fill="#a2cae1"/>
<rect x="1511.86" y="206.10" width="30.39" height="32.05" fill="#4575b4"/>
<rect x="1511.86" y="238.15" width="30.39" height="32.05" fill="#5787bd"/>
<rect x="1511.86" y="276.20" width="30.39" height="32.05" fill="#5787bd"/>
<rect x="1511.86" y="308.25" width="30.39" height="32.05" fill="#4575b4"/>
<rect x="1511.86" y="346.30" width="30.39" height="32.05" fill="#4575b4"/>
<rect x="1511.86" y="378.35" width="30.39" height="32.05" fill="#6e9dc9"/>
<rect x="1511.86" y="410.40" width="30.39" height="32.05" fill="#badaea"/>
<rect x="1511.86" y="448.45" width="30.39" height="32.05" fill="#6e9dc9"/>
<rect x="1511.86" y="480.50" width="30.39" height="32.05" fill="#4e7eb9"/>
<rect x="1511.86" y="518.55" width="30.39" height="32.05" fill="#6e9dc9"/>
<rect x="1511.86" y="550.60" width="30.39" height="32.05" fill="#8fbdda"/>
<rect x="1511.86" y="582.65" width="30.39" height="32.05" fill="#4575b4"/>
<rect x="1511.86" y="620.70" width="30.39" height="32.05" fill="#8fbdda"/>
<rect x="1511.86" y="652.75" width="30.39" height="32.05" fill="#5787bd"/>
<rect x="1511.86" y="684.80" width="30.39" height="32.05" fill="#6190c2"/>
<rect x="1511.86" y="722.85" width="30.39" height="32.05" fill="#6190c2"/>
<rect x="1511.86" y="754.90" width="30.39" height="32.05" fill="#4e7eb9"/>
<rect x="1511.86" y="792.95" width="30.39" height="32.05" fill="#4e7eb9"/>
<rect x="1511.86" y="825.00" width="30.39" height="32.05" fill="#6190c2"/>
<rect x="1511.86" y="857.05" width="30.39" height="32.05" fill="#6190c2"/>
<rect x="1511.86" y="895.10" width="30.39" height="32.05" fill="#4575b4"/>
<rect x="1511.86" y="927.15" width="30.39" height="32.05" fill="#dddddd"/>
<rect x="1511.86" y="965.20" width="30.39" height="32.05" fill="#4575b4"/>
<rect x="1511.86" y="997.25" width="30.39" height="32.05" fill="#8fbdda"/>
<rect x="1511.86" y="1035.30" width="30.39" height="32.05" fill="#4575b4"/>
<rect x="1511.86" y="1067.35" width="30.39" height="32.05" fill="#6190c2"/>
<rect x="1511.86" y="1105.40" width="30.39" height="32.05" fill="#4575b4"/>
<rect x="1511.86" y="1137.45" width="30.39" height="32.05" fill="#4575b4"/>
<rect x="1511.86" y="1169.50" width="30.39" height="32.05" fill="#6e9dc9"/>
<rect x="1511.86" y="1207.55" width="30.39" height="32.05" fill="#4575b4"/>
<rect x="1511.86" y="1239.60" width="30.39" height="32.05" fill="#edf8e0"/>
<rect x="1511.86" y="1277.65" width="30.39" height="32.05" fill="#5787bd"/>
<rect x="1511.86" y="1309.70" width="30.39" height="32.05" fill="#4575b4"/>
<rect x="1511.86" y="1341.75" width="30.39" height="32.05" fill="#6190c2"/>
<rect x="1542.25" y="1.80" width="30.39" height="32.05" fill="#6e9dc9"/>
<rect x="1542.25" y="33.85" width="30.39" height="32.05" fill="#8fbdda"/>
<rect x="1542.25" y="71.90" width="30.39" height="32.05" fill="#4e7eb9"/>
<rect x="1542.25" y="103.95" width="30.39" height="32.05" fill="#6e9dc9"/>
<rect x="1542.25" y="136.00" width="30.39" height="32.05" fill="#4e7eb9"/>
<rect x="1542.25" y="168.05" width="30.39" height="32.05" fill="#a2cae1"/>
<rect x="1542.25" y="206.10" width="30.39" height="32.05" fill="#4575b4"/>
<rect x="1542.25" y="238.15" width="30.39" height="32.05" fill="#6190c2"/>
<rect x="1542.25" y="276.20" width="30.39" height="32.05" fill="#4575b4"/>
<rect x="1542.25" y="308.25" width="30.39" height="32.05" fill="#4575b4"/>
<rect x="1542.25" y="346.30" width="30.39" height="32.05" fill="#4575b4"/>
<rect x="1542.25" y="378.35" width="30.39" height="32.05" fill="#6e9dc9"/>
<rect x="1542.25" y="410.40" width="30.39" height="32.05" fill="#7cabd0"/>
<rect x="1542.25" y="448.45" width="30.39" height="32.05" fill="#4e7eb9"/>
<rect x="1542.25" y="480.50" width="30.39" height="32.05" fill="#4e7eb9"/>
<rect x="1542.25" y="518.55" width="30.39" height="32.05" fill="#6190c2"/>
<rect x="1542.25" y="550.60" width="30.39" height="32.05" fill="#6e9dc9"/>
<rect x="1542.25" y="582.65" width="30.39" height="32.05" fill="#4575b4"/>
<rect x="1542.25" y="620.70" width="30.39" height="32.05" fill="#badaea"/>
<rect x="1542.25" y="652.75" width="30.39" height="32.05" fill="#6190c2"/>
<rect x="1542.25" y="684.80" width="30.39" height="32.05" fill="#6e9dc9"/>
<rect x="1542.25" y="722.85" width="30.39" height="32.05" fill="#7cabd0"/>
<rect x="1542.25" y="754.90" width="30.39" height="32.05" fill="#4e7eb9"/>
<rect x="1542.25" y="792.95" width="30.39" height="32.05" fill="#4e7eb9"/>
<rect x="1542.25" y="825.00" width="30.39" height="32.05" fill="#7cabd0"/>
<rect x="1542.25" y="857.05" width="30.39" height="32.05" fill="#6e9dc9"/>
<rect x="1542.25" y="895.10" width="30.39" height="32.05" fill="#4575b4"/>
<rect x="1542.25" y="927.15" width="30.39" height="32.05" fill="#dddddd"/>
<rect x="1542.25" y="965.20" width="30.39" height="32.05" fill="#4575b4"/>
<rect x="1542.25" y="997.25" width="30.39" height="32.05" fill="#6190c2"/>
<rect x="1542.25" y="1035.30" width="30.39" height="32.05" fill="#4e7eb9"/>
<rect x="1542.25" y="1067.35" width="30.39" height="32.05" fill="#4e7eb9"/>
<rect x="1542.25" y="1105.40" width="30.39" height="32.05" fill="#4575b4"/>
<rect x="1542.25" y="1137.45" width="30.39" height="32.05" fill="#4575b4"/>
<rect x="1542.25" y="1169.50" width="30.39" height="32.05" fill="#7cabd0"/>
<rect x="1542.25" y="1207.55" width="30.39" height="32.05" fill="#4575b4"/>
<rect x="1542.25" y="1239.60" width="30.39" height="32.05" fill="#fff8b5"/>
<rect x="1542.25" y="1277.65" width="30.39" height="32.05" fill="#5787bd"/>
<rect x="1542.25" y="1309.70" width="30.39" height="32.05" fill="#5787bd"/>
<rect x="1542.25" y="1341.75" width="30.39" height="32.05" fill="#6190c2"/>
<rect x="1572.64" y="1.80" width="30.39" height="32.05" fill="#6190c2"/>
<rect x="1572.64" y="33.85" width="30.39" height="32.05" fill="#4575b4"/>
<rect x="1572.64" y="71.90" width="30.39" height="32.05" fill="#6190c2"/>
<rect x="1572.64" y="103.95" width="30.39" height="32.05" fill="#4e7eb9"/>
<rect x="1572.64" y="136.00" width="30.39" height="32.05" fill="#4e7eb9"/>
<rect x="1572.64" y="168.05" width="30.39" height="32.05" fill="#cde6f1"/>
<rect x="1572.64" y="206.10" width="30.39" height="32.05" fill="#4575b4"/>
<rect x="1572.64" y="238.15" width="30.39" height="32.05" fill="#6190c2"/>
<rect x="1572.64" y="276.20" width="30.39" height="32.05" fill="#4575b4"/>
<rect x="1572.64" y="308.25" width="30.39" height="32.05" fill="#4e7eb9"/>
<rect x="1572.64" y="346.30" width="30.39" height="32.05" fill="#4e7eb9"/>
<rect x="1572.64" y="378.35" width="30.39" height="32.05" fill="#feeda4"/>
<rect x="1572.64" y="410.40" width="30.39" height="32.05" fill="#a2cae1"/>
<rect x="1572.64" y="448.45" width="30.39" height="32.05" fill="#6190c2"/>
<rect x="1572.64" y="480.50" width="30.39" height="32.05" fill="#5787bd"/>
<rect x="1572.64" y="518.55" width="30.39" height="32.05" fill="#5787bd"/>
<rect x="1572.64" y="550.60" width="30.39" height="32.05" fill="#e0f3f8"/>
<rect x="1572.64" y="582.65" width="30.39" height="32.05" fill="#5787bd"/>
<rect x="1572.64" y="620.70" width="30.39" height="32.05" fill="#4575b4"/>
<rect x="1572.64" y="652.75" width="30.39" height="32.05" fill="#dddddd"/>
<rect x="1572.64" y="684.80" width="30.39" height="32.05" fill="#4575b4"/>
<rect x="1572.64" y="722.85" width="30.39" height="32.05" fill="#7cabd0"/>
<rect x="1572.64" y="754.90" width="30.39" height="32.05" fill="#4575b4"/>
<rect x="1572.64" y="792.95" width="30.39" height="32.05" fill="#4575b4"/>
<rect x="1572.64" y="825.00" width="30.39" height="32.05" fill="#6e9dc9"/>
<rect x="1572.64" y="857.05" width="30.39" height="32.05" fill="#8fbdda"/>
<rect x="1572.64" y="895.10" width="30.39" height="32.05" fill="#4575b4"/>
<rect x="1572.64" y="927.15" width="30.39" height="32.05" fill="#dddddd"/>
<rect x="1572.64" y="965.20" width="30.39" height="32.05" fill="#5787bd"/>
<rect x="1572.64" y="997.25" width="30.39" height="32.05" fill="#6e9dc9"/>
<rect x="1572.64" y="1035.30" width="30.39" height="32.05" fill="#6190c2"/>
<rect x="1572.64" y="1067.35" width="30.39" height="32.05" fill="#4575b4"/>
<rect x="1572.64" y="1105.40" width="30.39" height="32.05" fill="#4575b4"/>
<rect x="1572.64" y="1137.45" width="30.39" height="32.05" fill="#4575b4"/>
<rect x="1572.64" y="1169.50" width="30.39" height="32.05" fill="#8fbdda"/>
<rect x="1572.64" y="1207.55" width="30.39" height="32.05" fill="#4575b4"/>
<rect x="1572.64" y="1239.60" width="30.39" height="32.05" fill="#cde6f1"/>
<rect x="1572.64" y="1277.65" width="30.39" height="32.05" fill="#6190c2"/>
<rect x="1572.64" y="1309.70" width="30.39" height="32.05" fill="#5787bd"/>
<rect x="1572.64" y="1341.75" width="30.39" height="32.05" fill="#6190c2"/>
<rect x="1612.03" y="1.80" width="30.39" height="32.05" fill="#4575b4"/>
<rect x="1612.03" y="33.85" width="30.39" height="32.05" fill="#4575b4"/>
<rect x="1612.03" y="71.90" width="30.39" height="32.05" fill="#cde6f1"/>
<rect x="1612.03" y="103.95" width="30.39" height="32.05" fill="#4575b4"/>
<rect x="1612.03" y="136.00" width="30.39" height="32.05" fill="#badaea"/>
<rect x="1612.03" y="168.05" width="30.39" height="32.05" fill="#7cabd0"/>
<rect x="1612.03" y="206.10" width="30.39" height="32.05" fill="#4575b4"/>
<rect x="1612.03" y="238.15" width="30.39" height="32.05" fill="#6e9dc9"/>
<rect x="1612.03" y="276.20" width="30.39" height="32.05" fill="#4575b4"/>
<rect x="1612.03" y="308.25" width="30.39" height="32.05" fill="#4575b4"/>
<rect x="1612.03" y="346.30" width="30.39" height="32.05" fill="#7cabd0"/>
<rect x="1612.03" y="378.35" width="30.39" height="32.05" fill="#ed6845"/>
<rect x="1612.03" y="410.40" width="30.39" height="32.05" fill="#badaea"/>
<rect x="1612.03" y="448.45" width="30.39" height="32.05" fill="#badaea"/>
<rect x="1612.03" y="480.50" width="30.39" height="32.05" fill="#6190c2"/>
<rect x="1612.03" y="518.55" width="30.39" height="32.05" fill="#6e9dc9"/>
<rect x="1612.03" y="550.60" width="30.39" height="32.05" fill="#edf8e0"/>
<rect x="1612.03" y="582.65" width="30.39" height="32.05" fill="#6190c2"/>
<rect x="1612.03" y="620.70" width="30.39" height="32.05" fill="#4575b4"/>
<rect x="1612.03" y="652.75" width="30.39" height="32.05" fill="#6190c2"/>
<rect x="1612.03" y="684.80" width="30.39" height="32.05" fill="#dddddd"/>
<rect x="1612.03" y="722.85" width="30.39" height="32.05" fill="#4575b4"/>
<rect x="1612.03" y="754.90" width="30.39" height="32.05" fill="#6190c2"/>
<rect x="1612.03" y="792.95" width="30.39" height="32.05" fill="#4575b4"/>
<rect x="1612.03" y="825.00" width="30.39" height="32.05" fill="#4575b4"/>
<rect x="1612.03" y="857.05" width="30.39" height="32.05" fill="#4575b4"/>
<rect x="1612.03" y="895.10" width="30.39" height="32.05" fill="#4575b4"/>
<rect x="1612.03" y="927.15" width="30.39" height="32.05" fill="#dddddd"/>
<rect x="1612.03" y="965.20" width="30.39" height="32.05" fill="#4575b4"/>
<rect x="1612.03" y="997.25" width="30.39" height="32.05" fill="#4575b4"/>
<rect x="1612.03" y="1035.30" width="30.39" height="32.05" fill="#6190c2"/>
<rect x="1612.03" y="1067.35" width="30.39" height="32.05" fill="#6190c2"/>
<rect x="1612.03" y="1105.40" width="30.39" height="32.05" fill="#4575b4"/>
<rect x="1612.03" y="1137.45" width="30.39" height="32.05" fill="#4575b4"/>
<rect x="1612.03" y="1169.50" width="30.39" height="32.05" fill="#a2cae1"/>
<rect x="1612.03" y="1207.55" width="30.39" height="32.05" fill="#4575b4"/>
<rect x="1612.03" y="1239.60" width="30.39" height="32.05" fill="#7cabd0"/>
<rect x="1612.03" y="1277.65" width="30.39" height="32.05" fill="#4575b4"/>
<rect x="1612.03" y="1309.70" width="30.39" height="32.05" fill="#6190c2"/>
<rect x="1612.03" y="1341.75" width="30.39" height="32.05" fill="#4575b4"/>
<rect x="1642.42" y="1.80" width="30.39" height="32.05" fill="#4575b4"/>
<rect x="1642.42" y="33.85" width="30.39" height="32.05" fill="#4575b4"/>
<rect x="1642.42" y="71.90" width="30.39" height="32.05" fill="#a2cae1"/>
<rect x="1642.42" y="103.95" width="30.39" height="32.05" fill="#5787bd"/>
<rect x="1642.42" y="136.00" width="30.39" height="32.05" fill="#6e9dc9"/>
<rect x="1642.42" y="168.05" width="30.39" height="32.05" fill="#badaea"/>
<rect x="1642.42" y="206.10" width="30.39" height="32.05" fill="#4575b4"/>
<rect x="1642.42" y="238.15" width="30.39" height="32.05" fill="#6e9dc9"/>
<rect x="1642.42" y="276.20" width="30.39" height="32.05" fill="#4575b4"/>
<rect x="1642.42" y="308.25" width="30.39" height="32.05" fill="#4575b4"/>
<rect x="1642.42" y="346.30" width="30.39" height="32.05" fill="#6190c2"/>
<rect x="1642.42" y="378.35" width="30.39" height="32.05" fill="#fedb8d"/>
<rect x="1642.42" y="410.40" width="30.39" height="32.05" fill="#fff8b5"/>
<rect x="1642.42" y="448.45" width="30.39" height="32.05" fill="#a2cae1"/>
<rect x="1642.42" y="480.50" width="30.39" height="32.05" fill="#6e9dc9"/>
<rect x="1642.42" y="518.55" width="30.39" height="32.05" fill="#6190c2"/>
<rect x="1642.42" y="550.60" width="30.39" height="32.05" fill="#e0f3f8"/>
<rect x="1642.42" y="582.65" width="30.39" height="32.05" fill="#6e9dc9"/>
<rect x="1642.42" y="620.70" width="30.39" height="32.05" fill="#4575b4"/>
<rect x="1642.42" y="652.75" width="30.39" height="32.05" fill="#6e9dc9"/>
<rect x="1642.42" y="684.80" width="30.39" height="32.05" fill="#dddddd"/>
<rect x="1642.42" y="722.85" width="30.39" height="32.05" fill="#4575b4"/>
<rect x="1642.42" y="754.90" width="30.39" height="32.05" fill="#5787bd"/>
<rect x="1642.42" y="792.95" width="30.39" height="32.05" fill="#4575b4"/>
<rect x="1642.42" y="825.00" width="30.39" height="32.05" fill="#4575b4"/>
<rect x="1642.42" y="857.05" width="30.39" height="32.05" fill="#5787bd"/>
<rect x="1642.42" y="895.10" width="30.39" height="32.05" fill="#4575b4"/>
<rect x="1642.42" y="927.15" width="30.39" height="32.05" fill="#dddddd"/>
<rect x="1642.42" y="965.20" width="30.39" height="32.05" fill="#4575b4"/>
<rect x="1642.42" y="997.25" width="30.39" height="32.05" fill="#4575b4"/>
<rect x="1642.42" y="1035.30" width="30.39" height="32.05" fill="#6e9dc9"/>
<rect x="1642.42" y="1067.35" width="30.39" height="32.05" fill="#4575b4"/>
<rect x="1642.42" y="1105.40" width="30.39" height="32.05" fill="#4575b4"/>
<rect x="1642.42" y="1137.45" width="30.39" height="32.05" fill="#4575b4"/>
<rect x="1642.42" y="1169.50" width="30.39" height="32.05" fill="#8fbdda"/>
<rect x="1642.42" y="1207.55" width="30.39" height="32.05" fill="#5787bd"/>
<rect x="1642.42" y="1239.60" width="30.39" height="32.05" fill="#6190c2"/>
<rect x="1642.42" y="1277.65" width="30.39" height="32.05" fill="#5787bd"/>
<rect x="1642.42" y="1309.70" width="30.39" height="32.05" fill="#4575b4"/>
<rect x="1642.42" y="1341.75" width="30.39" height="32.05" fill="#5787bd"/>
<rect x="1672.81" y="1.80" width="30.39" height="32.05" fill="#4575b4"/>
<rect x="1672.81" y="33.85" width="30.39" height="32.05" fill="#4575b4"/>
<rect x="1672.81" y="71.90" width="30.39" height="32.05" fill="#a2cae1"/>
<rect x="1672.81" y="103.95" width="30.39" height="32.05" fill="#7cabd0"/>
<rect x="1672.81" y="136.00" width="30.39" height="32.05" fill="#7cabd0"/>
<rect x="1672.81" y="168.05" width="30.39" height="32.05" fill="#feeda4"/>
<rect x="1672.81" y="206.10" width="30.39" height="32.05" fill="#4575b4"/>
<rect x="1672.81" y="238.15" width="30.39" height="32.05" fill="#4575b4"/>
<rect x="1672.81" y="276.20" width="30.39" height="32.05" fill="#4575b4"/>
<rect x="1672.81" y="308.25" width="30.39" height="32.05" fill="#4575b4"/>
<rect x="1672.81" y="346.30" width="30.39" height="32.05" fill="#4575b4"/>
<rect x="1672.81" y="378.35" width="30.39" height="32.05" fill="#f5fbd2"/>
<rect x="1672.81" y="410.40" width="30.39" height="32.05" fill="#cde6f1"/>
<rect x="1672.81" y="448.45" width="30.39" height="32.05" fill="#6e9dc9"/>
<rect x="1672.81" y="480.50" width="30.39" height="32.05" fill="#e0f3f8"/>
<rect x="1672.81" y="518.55" width="30.39" height="32.05" fill="#4575b4"/>
<rect x="1672.81" y="550.60" width="30.39" height="32.05" fill="#f5fbd2"/>
<rect x="1672.81" y="582.65" width="30.39" height="32.05" fill="#4575b4"/>
<rect x="1672.81" y="620.70" width="30.39" height="32.05" fill="#4575b4"/>
<rect x="1672.81" y="652.75" width="30.39" height="32.05" fill="#4575b4"/>
<rect x="1672.81" y="684.80" width="30.39" height="32.05" fill="#dddddd"/>
<rect x="1672.81" y="722.85" width="30.39" height="32.05" fill="#4575b4"/>
<rect x="1672.81" y="754.90" width="30.39" height="32.05" fill="#4575b4"/>
<rect x="1672.81" y="792.95" width="30.39" height="32.05" fill="#4575b4"/>
<rect x="1672.81" y="825.00" width="30.39" height="32.05" fill="#4575b4"/>
<rect x="1672.81" y="857.05" width="30.39" height="32.05" fill="#4575b4"/>
<rect x="1672.81" y="895.10" width="30.39" height="32.05" fill="#4575b4"/>
<rect x="1672.81" y="927.15" width="30.39" height="32.05" fill="#dddddd"/>
<rect x="1672.81" y="965.20" width="30.39" height="32.05" fill="#4575b4"/>
<rect x="1672.81" y="997.25" width="30.39" height="32.05" fill="#4575b4"/>
<rect x="1672.81" y="1035.30" width="30.39" height="32.05" fill="#4575b4"/>
<rect x="1672.81" y="1067.35" width="30.39" height="32.05" fill="#4575b4"/>
<rect x="1672.81" y="1105.40" width="30.39" height="32.05" fill="#4575b4"/>
<rect x="1672.81" y="1137.45" width="30.39" height="32.05" fill="#4575b4"/>
<rect x="1672.81" y="1169.50" width="30.39" height="32.05" fill="#6e9dc9"/>
<rect x="1672.81" y="1207.55" width="30.39" height="32.05" fill="#4575b4"/>
<rect x="1672.81" y="1239.60" width="30.39" height="32.05" fill="#a2cae1"/>
<rect x="1672.81" y="1277.65" width="30.39" height="32.05" fill="#a2cae1"/>
<rect x="1672.81" y="1309.70" width="30.39" height="32.05" fill="#6190c2"/>
<rect x="1672.81" y="1341.75" width="30.39" height="32.05" fill="#4575b4"/>
<rect x="1703.20" y="1.80" width="30.39" height="32.05" fill="#4575b4"/>
<rect x="1703.20" y="33.85" width="30.39" height="32.05" fill="#4e7eb9"/>
<rect x="1703.20" y="71.90" width="30.39" height="32.05" fill="#8fbdda"/>
<rect x="1703.20" y="103.95" width="30.39" height="32.05" fill="#5787bd"/>
<rect x="1703.20" y="136.00" width="30.39" height="32.05" fill="#6190c2"/>
<rect x="1703.20" y="168.05" width="30.39" height="32.05" fill="#feeda4"/>
<rect x="1703.20" y="206.10" width="30.39" height="32.05" fill="#4575b4"/>
<rect x="1703.20" y="238.15" width="30.39" height="32.05" fill="#6190c2"/>
<rect x="1703.20" y="276.20" width="30.39" height="32.05" fill="#4575b4"/>
<rect x="1703.20" y="308.25" width="30.39" height="32.05" fill="#4575b4"/>
<rect x="1703.20" y="346.30" width="30.39" height="32.05" fill="#5787bd"/>
<rect x="1703.20" y="378.35" width="30.39" height="32.05" fill="#fffebe"/>
<rect x="1703.20" y="410.40" width="30.39" height="32.05" fill="#edf8e0"/>
<rect x="1703.20" y="448.45" width="30.39" height="32.05" fill="#badaea"/>
<rect x="1703.20" y="480.50" width="30.39" height="32.05" fill="#8fbdda"/>
<rect x="1703.20" y="518.55" width="30.39" height="32.05" fill="#6190c2"/>
<rect x="1703.20" y="550.60" width="30.39" height="32.05" fill="#badaea"/>
<rect x="1703.20" y="582.65" width="30.39" height="32.05" fill="#8fbdda"/>
<rect x="1703.20" y="620.70" width="30.39" height="32.05" fill="#4575b4"/>
<rect x="1703.20" y="652.75" width="30.39" height="32.05" fill="#5787bd"/>
<rect x="1703.20" y="684.80" width="30.39" height="32.05" fill="#dddddd"/>
<rect x="1703.20" y="722.85" width="30.39" height="32.05" fill="#5787bd"/>
<rect x="1703.20" y="754.90" width="30.39" height="32.05" fill="#4575b4"/>
<rect x="1703.20" y="792.95" width="30.39" height="32.05" fill="#4575b4"/>
<rect x="1703.20" y="825.00" width="30.39" height="32.05" fill="#4575b4"/>
<rect x="1703.20" y="857.05" width="30.39" height="32.05" fill="#4575b4"/>
<rect x="1703.20" y="895.10" width="30.39" height="32.05" fill="#4575b4"/>
<rect x="1703.20" y="927.15" width="30.39" height="32.05" fill="#dddddd"/>
<rect x="1703.20" y="965.20" width="30.39" height="32.05" fill="#4e7eb9"/>
<rect x="1703.20" y="997.25" width="30.39" height="32.05" fill="#6e9dc9"/>
<rect x="1703.20" y="1035.30" width="30.39" height="32.05" fill="#6190c2"/>
<rect x="1703.20" y="1067.35" width="30.39" height="32.05" fill="#4575b4"/>
<rect x="1703.20" y="1105.40" width="30.39" height="32.05" fill="#4575b4"/>
<rect x="1703.20" y="1137.45" width="30.39" height="32.05" fill="#4575b4"/>
<rect x="1703.20" y="1169.50" width="30.39" height="32.05" fill="#8fbdda"/>
<rect x="1703.20" y="1207.55" width="30.39" height="32.05" fill="#4575b4"/>
<rect x="1703.20" y="1239.60" width="30.39" height="32.05" fill="#7cabd0"/>
<rect x="1703.20" y="1277.65" width="30.39" height="32.05" fill="#4575b4"/>
<rect x="1703.20" y="1309.70" width="30.39" height="32.05" fill="#5787bd"/>
<rect x="1703.20" y="1341.75" width="30.39" height="32.05" fill="#4e7eb9"/>
<rect x="1733.59" y="1.80" width="30.39" height="32.05" fill="#4575b4"/>
<rect x="1733.59" y="33.85" width="30.39" height="32.05" fill="#4575b4"/>
<rect x="1733.59" y="71.90" width="30.39" height="32.05" fill="#6e9dc9"/>
<rect x="1733.59" y="103.95" width="30.39" height="32.05" fill="#6e9dc9"/>
<rect x="1733.59" y="136.00" width="30.39" height="32.05" fill="#e0f3f8"/>
<rect x="1733.59" y="168.05" width="30.39" height="32.05" fill="#a2cae1"/>
<rect x="1733.59" y="206.10" width="30.39" height="32.05" fill="#4575b4"/>
<rect x="1733.59" y="238.15" width="30.39" height="32.05" fill="#6190c2"/>
<rect x="1733.59" y="276.20" width="30.39" height="32.05" fill="#5787bd"/>
<rect x="1733.59" y="308.25" width="30.39" height="32.05" fill="#5787bd"/>
<rect x="1733.59" y="346.30" width="30.39" height="32.05" fill="#4575b4"/>
<rect x="1733.59" y="378.35" width="30.39" height="32.05" fill="#fedb8d"/>
<rect x="1733.59" y="410.40" width="30.39" height="32.05" fill="#cde6f1"/>
<rect x="1733.59" y="448.45" width="30.39" height="32.05" fill="#e0f3f8"/>
<rect x="1733.59" y="480.50" width="30.39" height="32.05" fill="#4e7eb9"/>
<rect x="1733.59" y="518.55" width="30.39" height="32.05" fill="#a2cae1"/>
<rect x="1733.59" y="550.60" width="30.39" height="32.05" fill="#a2cae1"/>
<rect x="1733.59" y="582.65" width="30.39" height="32.05" fill="#5787bd"/>
<rect x="1733.59" y="620.70" width="30.39" height="32.05" fill="#4575b4"/>
<rect x="1733.59" y="652.75" width="30.39" height="32.05" fill="#4575b4"/>
<rect x="1733.59" y="684.80" width="30.39" height="32.05" fill="#dddddd"/>
<rect x="1733.59" y="722.85" width="30.39" height="32.05" fill="#4575b4"/>
<rect x="1733.59" y="754.90" width="30.39" height="32.05" fill="#4575b4"/>
<rect x="1733.59" y="792.95" width="30.39" height="32.05" fill="#4575b4"/>
<rect x="1733.59" y="825.00" width="30.39" height="32.05" fill="#4575b4"/>
<rect x="1733.59" y="857.05" width="30.39" height="32.05" fill="#4575b4"/>
<rect x="1733.59" y="895.10" width="30.39" height="32.05" fill="#4575b4"/>
<rect x="1733.59" y="927.15" width="30.39" height="32.05" fill="#dddddd"/>
<rect x="1733.59" y="965.20" width="30.39" height="32.05" fill="#4575b4"/>
<rect x="1733.59" y="997.25" width="30.39" height="32.05" fill="#8fbdda"/>
<rect x="1733.59" y="1035.30" width="30.39" height="32.05" fill="#5787bd"/>
<rect x="1733.59" y="1067.35" width="30.39" height="32.05" fill="#5787bd"/>
<rect x="1733.59" y="1105.40" width="30.39" height="32.05" fill="#4575b4"/>
<rect x="1733.59" y="1137.45" width="30.39" height="32.05" fill="#4575b4"/>
<rect x="1733.59" y="1169.50" width="30.39" height="32.05" fill="#5787bd"/>
<rect x="1733.59" y="1207.55" width="30.39" height="32.05" fill="#5787bd"/>
<rect x="1733.59" y="1239.60" width="30.39" height="32.05" fill="#8fbdda"/>
<rect x="1733.59" y="1277.65" width="30.39" height="32.05" fill="#4575b4"/>
<rect x="1733.59" y="1309.70" width="30.39" height="32.05" fill="#6190c2"/>
<rect x="1733.59" y="1341.75" width="30.39" height="32.05" fill="#4575b4"/>
<rect x="1763.98" y="1.80" width="30.39" height="32.05" fill="#4575b4"/>
<rect x="1763.98" y="33.85" width="30.39" height="32.05" fill="#5787bd"/>
<rect x="1763.98" y="71.90" width="30.39" height="32.05" fill="#badaea"/>
<rect x="1763.98" y="103.95" width="30.39" height="32.05" fill="#7cabd0"/>
<rect x="1763.98" y="136.00" width="30.39" height="32.05" fill="#a2cae1"/>
<rect x="1763.98" y="168.05" width="30.39" height="32.05" fill="#fee699"/>
<rect x="1763.98" y="206.10" width="30.39" height="32.05" fill="#4575b4"/>
<rect x="1763.98" y="238.15" width="30.39" height="32.05" fill="#6190c2"/>
<rect x="1763.98" y="276.20" width="30.39" height="32.05" fill="#5787bd"/>
<rect x="1763.98" y="308.25" width="30.39" height="32.05" fill="#6190c2"/>
<rect x="1763.98" y="346.30" width="30.39" height="32.05" fill="#a2cae1"/>
<rect x="1763.98" y="378.35" width="30.39" height="32.05" fill="#fffebe"/>
<rect x="1763.98" y="410.40" width="30.39" height="32.05" fill="#edf8e0"/>
<rect x="1763.98" y="448.45" width="30.39" height="32.05" fill="#6e9dc9"/>
<rect x="1763.98" y="480.50" width="30.39" height="32.05" fill="#a2cae1"/>
<rect x="1763.98" y="518.55" width="30.39" height="32.05" fill="#6190c2"/>
<rect x="1763.98" y="550.60" width="30.39" height="32.05" fill="#7cabd0"/>
<rect x="1763.98" y="582.65" width="30.39" height="32.05" fill="#5787bd"/>
<rect x="1763.98" y="620.70" width="30.39" height="32.05" fill="#4575b4"/>
<rect x="1763.98" y="652.75" width="30.39" height="32.05" fill="#5787bd"/>
<rect x="1763.98" y="684.80" width="30.39" height="32.05" fill="#dddddd"/>
<rect x="1763.98" y="722.85" width="30.39" height="32.05" fill="#5787bd"/>
<rect x="1763.98" y="754.90" width="30.39" height="32.05" fill="#4575b4"/>
<rect x="1763.98" y="792.95" width="30.39" height="32.05" fill="#4575b4"/>
<rect x="1763.98" y="825.00" width="30.39" height="32.05" fill="#4575b4"/>
<rect x="1763.98" y="857.05" width="30.39" height="32.05" fill="#4575b4"/>
<rect x="1763.98" y="895.10" width="30.39" height="32.05" fill="#4575b4"/>
<rect x="1763.98" y="927.15" width="30.39" height="32.05" fill="#dddddd"/>
<rect x="1763.98" y="965.20" width="30.39" height="32.05" fill="#5787bd"/>
<rect x="1763.98" y="997.25" width="30.39" height="32.05" fill="#5787bd"/>
<rect x="1763.98" y="1035.30" width="30.39" height="32.05" fill="#4575b4"/>
<rect x="1763.98" y="1067.35" width="30.39" height="32.05" fill="#6e9dc9"/>
<rect x="1763.98" y="1105.40" width="30.39" height="32.05" fill="#4575b4"/>
<rect x="1763.98" y="1137.45" width="30.39" height="32.05" fill="#4575b4"/>
<rect x="1763.98" y="1169.50" width="30.39" height="32.05" fill="#a2cae1"/>
<rect x="1763.98" y="1207.55" width="30.39" height="32.05" fill="#4575b4"/>
<rect x="1763.98" y="1239.60" width="30.39" height="32.05" fill="#8fbdda"/>
<rect x="1763.98" y="1277.65" width="30.39" height="32.05" fill="#5787bd"/>
<rect x="1763.98" y="1309.70" width="30.39" height="32.05" fill="#4575b4"/>
<rect x="1763.98" y="1341.75" width="30.39" height="32.05" fill="#4575b4"/>
<rect x="1794.37" y="1.80" width="30.39" height="32.05" fill="#4575b4"/>
<rect x="1794.37" y="33.85" width="30.39" height="32.05" fill="#4575b4"/>
<rect x="1794.37" y="71.90" width="30.39" height="32.05" fill="#8fbdda"/>
<rect x="1794.37" y="103.95" width="30.39" height="32.05" fill="#6190c2"/>
<rect x="1794.37" y="136.00" width="30.39" height="32.05" fill="#8fbdda"/>
<rect x="1794.37" y="168.05" width="30.39" height="32.05" fill="#cde6f1"/>
<rect x="1794.37" y="206.10" width="30.39" height="32.05" fill="#4575b4"/>
<rect x="1794.37" y="238.15" width="30.39" height="32.05" fill="#4575b4"/>
<rect x="1794.37" y="276.20" width="30.39" height="32.05" fill="#4575b4"/>
<rect x="1794.37" y="308.25" width="30.39" height="32.05" fill="#4575b4"/>
<rect x="1794.37" y="346.30" width="30.39" height="32.05" fill="#6190c2"/>
<rect x="1794.37" y="378.35" width="30.39" height="32.05" fill="#fee699"/>
<rect x="1794.37" y="410.40" width="30.39" height="32.05" fill="#fedb8d"/>
<rect x="1794.37" y="448.45" width="30.39" height="32.05" fill="#6e9dc9"/>
<rect x="1794.37" y="480.50" width="30.39" height="32.05" fill="#a2cae1"/>
<rect x="1794.37" y="518.55" width="30.39" height="32.05" fill="#8fbdda"/>
<rect x="1794.37" y="550.60" width="30.39" height="32.05" fill="#cde6f1"/>
<rect x="1794.37" y="582.65" width="30.39" height="32.05" fill="#6190c2"/>
<rect x="1794.37" y="620.70" width="30.39" height="32.05" fill="#4575b4"/>
<rect x="1794.37" y="652.75" width="30.39" height="32.05" fill="#4575b4"/>
<rect x="1794.37" y="684.80" width="30.39" height="32.05" fill="#dddddd"/>
<rect x="1794.37" y="722.85" width="30.39" height="32.05" fill="#4575b4"/>
<rect x="1794.37" y="754.90" width="30.39" height="32.05" fill="#4575b4"/>
<rect x="1794.37" y="792.95" width="30.39" height="32.05" fill="#4575b4"/>
<rect x="1794.37" y="825.00" width="30.39" height="32.05" fill="#4575b4"/>
<rect x="1794.37" y="857.05" width="30.39" height="32.05" fill="#4575b4"/>
<rect x="1794.37" y="895.10" width="30.39" height="32.05" fill="#4575b4"/>
<rect x="1794.37" y="927.15" width="30.39" height="32.05" fill="#dddddd"/>
<rect x="1794.37" y="965.20" width="30.39" height="32.05" fill="#4575b4"/>
<rect x="1794.37" y="997.25" width="30.39" height="32.05" fill="#4575b4"/>
<rect x="1794.37" y="1035.30" width="30.39" height="32.05" fill="#4575b4"/>
<rect x="1794.37" y="1067.35" width="30.39" height="32.05" fill="#4575b4"/>
<rect x="1794.37" y="1105.40" width="30.39" height="32.05" fill="#4575b4"/>
<rect x="1794.37" y="1137.45" width="30.39" height="32.05" fill="#4575b4"/>
<rect x="1794.37" y="1169.50" width="30.39" height="32.05" fill="#a2cae1"/>
<rect x="1794.37" y="1207.55" width="30.39" height="32.05" fill="#4575b4"/>
<rect x="1794.37" y="1239.60" width="30.39" height="32.05" fill="#a2cae1"/>
<rect x="1794.37" y="1277.65" width="30.39" height="32.05" fill="#4575b4"/>
<rect x="1794.37" y="1309.70" width="30.39" height="32.05" fill="#4575b4"/>
<rect x="1794.37" y="1341.75" width="30.39" height="32.05" fill="#5787bd"/>
<rect x="1824.76" y="1.80" width="30.39" height="32.05" fill="#4575b4"/>
<rect x="1824.76" y="33.85" width="30.39" height="32.05" fill="#5787bd"/>
<rect x="1824.76" y="71.90" width="30.39" height="32.05" fill="#6e9dc9"/>
<rect x="1824.76" y="103.95" width="30.39" height="32.05" fill="#4575b4"/>
<rect x="1824.76" y="136.00" width="30.39" height="32.05" fill="#6190c2"/>
<rect x="1824.76" y="168.05" width="30.39" height="32.05" fill="#8fbdda"/>
<rect x="1824.76" y="206.10" width="30.39" height="32.05" fill="#4575b4"/>
<rect x="1824.76" y="238.15" width="30.39" height="32.05" fill="#5787bd"/>
<rect x="1824.76" y="276.20" width="30.39" height="32.05" fill="#4575b4"/>
<rect x="1824.76" y="308.25" width="30.39" height="32.05" fill="#4575b4"/>
<rect x="1824.76" y="346.30" width="30.39" height="32.05" fill="#6e9dc9"/>
<rect x="1824.76" y="378.35" width="30.39" height="32.05" fill="#fedb8d"/>
<rect x="1824.76" y="410.40" width="30.39" height="32.05" fill="#edf8e0"/>
<rect x="1824.76" y="448.45" width="30.39" height="32.05" fill="#8fbdda"/>
<rect x="1824.76" y="480.50" width="30.39" height="32.05" fill="#a2cae1"/>
<rect x="1824.76" y="518.55" width="30.39" height="32.05" fill="#6190c2"/>
<rect x="1824.76" y="550.60" width="30.39" height="32.05" fill="#6190c2"/>
<rect x="1824.76" y="582.65" width="30.39" height="32.05" fill="#7cabd0"/>
<rect x="1824.76" y="620.70" width="30.39" height="32.05" fill="#4575b4"/>
<rect x="1824.76" y="652.75" width="30.39" height="32.05" fill="#5787bd"/>
<rect x="1824.76" y="684.80" width="30.39" height="32.05" fill="#dddddd"/>
<rect x="1824.76" y="722.85" width="30.39" height="32.05" fill="#4e7eb9"/>
<rect x="1824.76" y="754.90" width="30.39" height="32.05" fill="#4575b4"/>
<rect x="1824.76" y="792.95" width="30.39" height="32.05" fill="#4575b4"/>
<rect x="1824.76" y="825.00" width="30.39" height="32.05" fill="#4575b4"/>
<rect x="1824.76" y="857.05" width="30.39" height="32.05" fill="#4575b4"/>
<rect x="1824.76" y="895.10" width="30.39" height="32.05" fill="#4575b4"/>
<rect x="1824.76" y="927.15" width="30.39" height="32.05" fill="#dddddd"/>
<rect x="1824.76" y="965.20" width="30.39" height="32.05" fill="#4e7eb9"/>
<rect x="1824.76" y="997.25" width="30.39" height="32.05" fill="#7cabd0"/>
<rect x="1824.76" y="1035.30" width="30.39" height="32.05" fill="#6190c2"/>
<rect x="1824.76" y="1067.35" width="30.39" height="32.05" fill="#4575b4"/>
<rect x="1824.76" y="1105.40" width="30.39" height="32.05" fill="#4575b4"/>
<rect x="1824.76" y="1137.45" width="30.39" height="32.05" fill="#4575b4"/>
<rect x="1824.76" y="1169.50" width="30.39" height="32.05" fill="#a2cae1"/>
<rect x="1824.76" y="1207.55" width="30.39" height="32.05" fill="#4575b4"/>
<rect x="1824.76" y="1239.60" width="30.39" height="32.05" fill="#a2cae1"/>
<rect x="1824.76" y="1277.65" width="30.39" height="32.05" fill="#5787bd"/>
<rect x="1824.76" y="1309.70" width="30.39" height="32.05" fill="#6190c2"/>
<rect x="1824.76" y="1341.75" width="30.39" height="32.05" fill="#4575b4"/>
<rect x="1855.15" y="1.80" width="30.39" height="32.05" fill="#4575b4"/>
<rect x="1855.15" y="33.85" width="30.39" height="32.05" fill="#4575b4"/>
<rect x="1855.15" y="71.90" width="30.39" height="32.05" fill="#a2cae1"/>
<rect x="1855.15" y="103.95" width="30.39" height="32.05" fill="#6190c2"/>
<rect x="1855.15" y="136.00" width="30.39" height="32.05" fill="#8fbdda"/>
<rect x="1855.15" y="168.05" width="30.39" height="32.05" fill="#feeda4"/>
<rect x="1855.15" y="206.10" width="30.39" height="32.05" fill="#4575b4"/>
<rect x="1855.15" y="238.15" width="30.39" height="32.05" fill="#7cabd0"/>
<rect x="1855.15" y="276.20" width="30.39" height="32.05" fill="#4575b4"/>
<rect x="1855.15" y="308.25" width="30.39" height="32.05" fill="#4575b4"/>
<rect x="1855.15" y="346.30" width="30.39" height="32.05" fill="#6190c2"/>
<rect x="1855.15" y="378.35" width="30.39" height="32.05" fill="#feeda4"/>
<rect x="1855.15" y="410.40" width="30.39" height="32.05" fill="#cde6f1"/>
<rect x="1855.15" y="448.45" width="30.39" height="32.05" fill="#badaea"/>
<rect x="1855.15" y="480.50" width="30.39" height="32.05" fill="#8fbdda"/>
<rect x="1855.15" y="518.55" width="30.39" height="32.05" fill="#8fbdda"/>
<rect x="1855.15" y="550.60" width="30.39" height="32.05" fill="#a2cae1"/>
<rect x="1855.15" y="582.65" width="30.39" height="32.05" fill="#6e9dc9"/>
<rect x="1855.15" y="620.70" width="30.39" height="32.05" fill="#4575b4"/>
<rect x="1855.15" y="652.75" width="30.39" height="32.05" fill="#5787bd"/>
<rect x="1855.15" y="684.80" width="30.39" height="32.05" fill="#dddddd"/>
<rect x="1855.15" y="722.85" width="30.39" height="32.05" fill="#4e7eb9"/>
<rect x="1855.15" y="754.90" width="30.39" height="32.05" fill="#4575b4"/>
<rect x="1855.15" y="792.95" width="30.39" height="32.05" fill="#4575b4"/>
<rect x="1855.15" y="825.00" width="30.39" height="32.05" fill="#4e7eb9"/>
<rect x="1855.15" y="857.05" width="30.39" height="32.05" fill="#4575b4"/>
<rect x="1855.15" y="895.10" width="30.39" height="32.05" fill="#4575b4"/>
<rect x="1855.15" y="927.15" width="30.39" height="32.05" fill="#dddddd"/>
<rect x="1855.15" y="965.20" width="30.39" height="32.05" fill="#4e7eb9"/>
<rect x="1855.15" y="997.25" width="30.39" height="32.05" fill="#6e9dc9"/>
<rect x="1855.15" y="1035.30" width="30.39" height="32.05" fill="#5787bd"/>
<rect x="1855.15" y="1067.35" width="30.39" height="32.05" fill="#4575b4"/>
<rect x="1855.15" y="1105.40" width="30.39" height="32.05" fill="#4575b4"/>
<rect x="1855.15" y="1137.45" width="30.39" height="32.05" fill="#4575b4"/>
<rect x="1855.15" y="1169.50" width="30.39" height="32.05" fill="#8fbdda"/>
<rect x="1855.15" y="1207.55" width="30.39" height="32.05" fill="#4575b4"/>
<rect x="1855.15" y="1239.60" width="30.39" height="32.05" fill="#7cabd0"/>
<rect x="1855.15" y="1277.65" width="30.39" height="32.05" fill="#4e7eb9"/>
<rect x="1855.15" y="1309.70" width="30.39" height="32.05" fill="#5787bd"/>
<rect x="1855.15" y="1341.75" width="30.39" height="32.05" fill="#4575b4"/>
<rect x="1885.54" y="1.80" width="30.39" height="32.05" fill="#4575b4"/>
<rect x="1885.54" y="33.85" width="30.39" height="32.05" fill="#4575b4"/>
<rect x="1885.54" y="71.90" width="30.39" height="32.05" fill="#7cabd0"/>
<rect x="1885.54" y="103.95" width="30.39" height="32.05" fill="#4575b4"/>
<rect x="1885.54" y="136.00" width="30.39" height="32.05" fill="#4575b4"/>
<rect x="1885.54" y="168.05" width="30.39" height="32.05" fill="#dddddd"/>
<rect x="1885.54" y="206.10" width="30.39" height="32.05" fill="#4575b4"/>
<rect x="1885.54" y="238.15" width="30.39" height="32.05" fill="#7cabd0"/>
<rect x="1885.54" y="276.20" width="30.39" height="32.05" fill="#4575b4"/>
<rect x="1885.54" y="308.25" width="30.39" height="32.05" fill="#4575b4"/>
<rect x="1885.54" y="346.30" width="30.39" height="32.05" fill="#5787bd"/>
<rect x="1885.54" y="378.35" width="30.39" height="32.05" fill="#badaea"/>
<rect x="1885.54" y="410.40" width="30.39" height="32.05" fill="#7cabd0"/>
<rect x="1885.54" y="448.45" width="30.39" height="32.05" fill="#cde6f1"/>
<rect x="1885.54" y="480.50" width="30.39" height="32.05" fill="#6e9dc9"/>
<rect x="1885.54" y="518.55" width="30.39" height="32.05" fill="#4575b4"/>
<rect x="1885.54" y="550.60" width="30.39" height="32.05" fill="#8fbdda"/>
<rect x="1885.54" y="582.65" width="30.39" height="32.05" fill="#6e9dc9"/>
<rect x="1885.54" y="620.70" width="30.39" height="32.05" fill="#4575b4"/>
<rect x="1885.54" y="652.75" width="30.39" height="32.05" fill="#5787bd"/>
<rect x="1885.54" y="684.80" width="30.39" height="32.05" fill="#dddddd"/>
<rect x="1885.54" y="722.85" width="30.39" height="32.05" fill="#4575b4"/>
<rect x="1885.54" y="754.90" width="30.39" height="32.05" fill="#4575b4"/>
<rect x="1885.54" y="792.95" width="30.39" height="32.05" fill="#4575b4"/>
<rect x="1885.54" y="825.00" width="30.39" height="32.05" fill="#4575b4"/>
<rect x="1885.54" y="857.05" width="30.39" height="32.05" fill="#4575b4"/>
<rect x="1885.54" y="895.10" width="30.39" height="32.05" fill="#4575b4"/>
<rect x="1885.54" y="927.15" width="30.39" height="32.05" fill="#dddddd"/>
<rect x="1885.54" y="965.20" width="30.39" height="32.05" fill="#6e9dc9"/>
<rect x="1885.54" y="997.25" width="30.39" height="32.05" fill="#badaea"/>
<rect x="1885.54" y="1035.30" width="30.39" height="32.05" fill="#6e9dc9"/>
<rect x="1885.54" y="1067.35" width="30.39" height="32.05" fill="#4575b4"/>
<rect x="1885.54" y="1105.40" width="30.39" height="32.05" fill="#4575b4"/>
<rect x="1885.54" y="1137.45" width="30.39" height="32.05" fill="#4575b4"/>
<rect x="1885.54" y="1169.50" width="30.39" height="32.05" fill="#8fbdda"/>
<rect x="1885.54" y="1207.55" width="30.39" height="32.05" fill="#4575b4"/>
<rect x="1885.54" y="1239.60" width="30.39" height="32.05" fill="#e0f3f8"/>
<rect x="1885.54" y="1277.65" width="30.39" height="32.05" fill="#5787bd"/>
<rect x="1885.54" y="1309.70" width="30.39" height="32.05" fill="#4575b4"/>
<rect x="1885.54" y="1341.75" width="30.39" height="32.05" fill="#4575b4"/>
</g>
<g font-family="'Liberation Sans', Arial, Helvetica, sans-serif" font-size="30.0" fill="#000">
<text transform="translate(1925.00,28.62) scale(1,1.041)">A340D</text>
<text transform="translate(1925.00,60.67) scale(1,1.041)">A340K</text>
<text transform="translate(1925.00,98.72) scale(1,1.041)">R346I</text>
<text transform="translate(1925.00,130.78) scale(1,1.041)">R346K</text>
<text transform="translate(1925.00,162.83) scale(1,1.041)">R346S</text>
<text transform="translate(1925.00,194.88) scale(1,1.041)">R346T</text>
<text transform="translate(1925.00,232.93) scale(1,1.041)">P384L</text>
<text transform="translate(1925.00,264.97) scale(1,1.041)">P384S</text>
<text transform="translate(1925.00,303.02) scale(1,1.041)">D427N</text>
<text transform="translate(1925.00,335.07) scale(1,1.041)">D427Y</text>
<text transform="translate(1925.00,373.12) scale(1,1.041)">K444M</text>
<text transform="translate(1925.00,405.17) scale(1,1.041)">K444N</text>
<text transform="translate(1925.00,437.22) scale(1,1.041)">K444R</text>
<text transform="translate(1925.00,475.27) scale(1,1.041)">V445A</text>
<text transform="translate(1925.00,507.32) scale(1,1.041)">V445F</text>
<text transform="translate(1925.00,545.37) scale(1,1.041)">G446D</text>
<text transform="translate(1925.00,577.42) scale(1,1.041)">G446S</text>
<text transform="translate(1925.00,609.47) scale(1,1.041)">G446V</text>
<text transform="translate(1925.00,647.52) scale(1,1.041)">L452M</text>
<text transform="translate(1925.00,679.57) scale(1,1.041)">L452Q</text>
<text transform="translate(1925.00,711.62) scale(1,1.041)">L452R</text>
<text transform="translate(1925.00,749.67) scale(1,1.041)">L455F</text>
<text transform="translate(1925.00,781.72) scale(1,1.041)">L455S</text>
<text transform="translate(1925.00,819.77) scale(1,1.041)">P463R</text>
<text transform="translate(1925.00,851.82) scale(1,1.041)">P463S</text>
<text transform="translate(1925.00,883.87) scale(1,1.041)">P463T</text>
<text transform="translate(1925.00,921.92) scale(1,1.041)">S477I</text>
<text transform="translate(1925.00,953.97) scale(1,1.041)">S477N</text>
<text transform="translate(1925.00,992.02) scale(1,1.041)">T478I</text>
<text transform="translate(1925.00,1024.07) scale(1,1.041)">T478R</text>
<text transform="translate(1925.00,1062.12) scale(1,1.041)">P479L</text>
<text transform="translate(1925.00,1094.17) scale(1,1.041)">P479S</text>
<text transform="translate(1925.00,1132.22) scale(1,1.041)">E484K</text>
<text transform="translate(1925.00,1164.27) scale(1,1.041)">E484Q</text>
<text transform="translate(1925.00,1196.32) scale(1,1.041)">E484V</text>
<text transform="translate(1925.00,1234.38) scale(1,1.041)">S494L</text>
<text transform="translate(1925.00,1266.42) scale(1,1.041)">S494P</text>
<text transform="translate(1925.00,1304.47) scale(1,1.041)">A522P</text>
<text transform="translate(1925.00,1336.52) scale(1,1.041)">A522S</text>
<text transform="translate(1925.00,1368.57) scale(1,1.041)">A522V</text>
<text transform="translate(456.00,1383.00) rotate(90) scale(1,1.041)">B.1</text>
<text transform="translate(486.38,1383.00) rotate(90) scale(1,1.041)">B.1.1</text>
<text transform="translate(516.78,1383.00) rotate(90) scale(1,1.041)">B.1.2</text>
<text transform="translate(547.17,1383.00) rotate(90) scale(1,1.041)">B.1.177</text>
<text transform="translate(577.56,1383.00) rotate(90) scale(1,1.041)">B.1.429</text>
<text transform="translate(607.95,1383.00) rotate(90) scale(1,1.041)">B.1.351</text>
<text transform="translate(638.34,1383.00) rotate(90) scale(1,1.041)">B.1.1.7</text>
<text transform="translate(668.73,1383.00) rotate(90) scale(1,1.041)">B.1.526</text>
<text transform="translate(699.12,1383.00) rotate(90) scale(1,1.041)" style="font-kerning:none">P.1</text>
<text transform="translate(738.51,1383.00) rotate(90) scale(1,1.041)">AY.26</text>
<text transform="translate(768.90,1383.00) rotate(90) scale(1,1.041)">AY.5</text>
<text transform="translate(799.29,1383.00) rotate(90) scale(1,1.041)">AY.4</text>
<text transform="translate(829.68,1383.00) rotate(90) scale(1,1.041)">AY.122</text>
<text transform="translate(860.07,1383.00) rotate(90) scale(1,1.041)">AY.98</text>
<text transform="translate(890.46,1383.00) rotate(90) scale(1,1.041)">AY.44</text>
<text transform="translate(920.85,1383.00) rotate(90) scale(1,1.041)">AY.47</text>
<text transform="translate(951.24,1383.00) rotate(90) scale(1,1.041)">AY.25</text>
<text transform="translate(981.63,1383.00) rotate(90) scale(1,1.041)">AY.3</text>
<text transform="translate(1012.02,1383.00) rotate(90) scale(1,1.041)">AY.43</text>
<text transform="translate(1042.40,1383.00) rotate(90) scale(1,1.041)">AY.39</text>
<text transform="translate(1072.80,1383.00) rotate(90) scale(1,1.041)">AY.103</text>
<text transform="translate(1103.18,1383.00) rotate(90) scale(1,1.041)">AY.100</text>
<text transform="translate(1142.58,1383.00) rotate(90) scale(1,1.041)">BA.1</text>
<text transform="translate(1172.97,1383.00) rotate(90) scale(1,1.041)">BA.1.17</text>
<text transform="translate(1203.36,1383.00) rotate(90) scale(1,1.041)">BA.1.18</text>
<text transform="translate(1233.74,1383.00) rotate(90) scale(1,1.041)">BA.1.20</text>
<text transform="translate(1264.13,1383.00) rotate(90) scale(1,1.041)">BA.1.15</text>
<text transform="translate(1294.53,1383.00) rotate(90) scale(1,1.041)">BA.1.1.18</text>
<text transform="translate(1324.91,1383.00) rotate(90) scale(1,1.041)">BA.1.17.2</text>
<text transform="translate(1355.31,1383.00) rotate(90) scale(1,1.041)">BA.1.1</text>
<text transform="translate(1385.70,1383.00) rotate(90) scale(1,1.041)">BA.1.15.1</text>
<text transform="translate(1416.09,1383.00) rotate(90) scale(1,1.041)">BA.1.1.1</text>
<text transform="translate(1455.47,1383.00) rotate(90) scale(1,1.041)">BA.2.10</text>
<text transform="translate(1485.87,1383.00) rotate(90) scale(1,1.041)">BA.2.3</text>
<text transform="translate(1516.26,1383.00) rotate(90) scale(1,1.041)">BA.2.9</text>
<text transform="translate(1546.64,1383.00) rotate(90) scale(1,1.041)">BA.2</text>
<text transform="translate(1577.03,1383.00) rotate(90) scale(1,1.041)">BA.2.12.1</text>
<text transform="translate(1616.43,1383.00) rotate(90) scale(1,1.041)">BA.4</text>
<text transform="translate(1646.82,1383.00) rotate(90) scale(1,1.041)">BA.4.1</text>
<text transform="translate(1677.20,1383.00) rotate(90) scale(1,1.041)">BA.5</text>
<text transform="translate(1707.59,1383.00) rotate(90) scale(1,1.041)">BA.5.1</text>
<text transform="translate(1737.99,1383.00) rotate(90) scale(1,1.041)">BA.5.5</text>
<text transform="translate(1768.38,1383.00) rotate(90) scale(1,1.041)">BE.1</text>
<text transform="translate(1798.76,1383.00) rotate(90) scale(1,1.041)">BA.5.6</text>
<text transform="translate(1829.16,1383.00) rotate(90) scale(1,1.041)">BA.5.2.1</text>
<text transform="translate(1859.55,1383.00) rotate(90) scale(1,1.041)">BA.5.2</text>
<text transform="translate(1889.93,1383.00) rotate(90) scale(1,1.041)">BA.4.6</text>
</g>
<g font-family="'Liberation Sans', Arial, Helvetica, sans-serif" font-size="30.0" font-weight="bold" fill="#000">
<text transform="translate(6.45,1383.00) rotate(90) scale(1,1.041)">F3</text>
<text transform="translate(42.75,1383.00) rotate(90) scale(1,1.041)">F2</text>
<text transform="translate(79.05,1383.00) rotate(90) scale(1,1.041)">F1</text>
<text transform="translate(115.35,1383.00) rotate(90) scale(1,1.041)">E3</text>
<text transform="translate(151.65,1383.00) rotate(90) scale(1,1.041)">E2.2</text>
<text transform="translate(187.95,1383.00) rotate(90) scale(1,1.041)">E2.1</text>
<text transform="translate(224.25,1383.00) rotate(90) scale(1,1.041)">E1</text>
<text transform="translate(260.55,1383.00) rotate(90) scale(1,1.041)">D2</text>
<text transform="translate(296.85,1383.00) rotate(90) scale(1,1.041)">D1</text>
<text transform="translate(333.15,1383.00) rotate(90) scale(1,1.041)">C</text>
<text transform="translate(369.45,1383.00) rotate(90) scale(1,1.041)">B</text>
<text transform="translate(405.75,1383.00) rotate(90) scale(1,1.041)">A</text>
</g>
<defs><linearGradient id="lg" x1="0" y1="1" x2="0" y2="0"><stop offset="0.0000" stop-color="#4575b4"/><stop offset="0.1667" stop-color="#91bfdb"/><stop offset="0.3333" stop-color="#e0f3f8"/><stop offset="0.5000" stop-color="#ffffbf"/><stop offset="0.6667" stop-color="#fee090"/><stop offset="0.8333" stop-color="#fc8d59"/><stop offset="1.0000" stop-color="#d73027"/></linearGradient></defs>
<rect x="2037.00" y="82.80" width="30.20" height="454.00" fill="url(#lg)"/>
<g font-family="'Liberation Sans', Arial, Helvetica, sans-serif" font-size="30.0" fill="#000">
<text transform="translate(2079.30,547.60) scale(1,1.041)">0</text>
<text transform="translate(2079.30,486.70) scale(1,1.041)">0.02</text>
<text transform="translate(2079.30,425.80) scale(1,1.041)">0.04</text>
<text transform="translate(2079.30,364.90) scale(1,1.041)">0.06</text>
<text transform="translate(2079.30,304.01) scale(1,1.041)">0.08</text>
<text transform="translate(2079.30,243.11) scale(1,1.041)">0.1</text>
<text transform="translate(2079.30,182.21) scale(1,1.041)">0.12</text>
<text transform="translate(2079.30,121.31) scale(1,1.041)">0.14</text>
</g>
<g font-family="'Liberation Sans', Arial, Helvetica, sans-serif" font-size="30.3" font-weight="bold" fill="#000">
<text transform="translate(2037.00,29.60) scale(1,1.041)">Mutation</text>
<text transform="translate(2037.00,65.50) scale(1,1.041)">fraction</text>
</g>
</svg>
</body></html>
